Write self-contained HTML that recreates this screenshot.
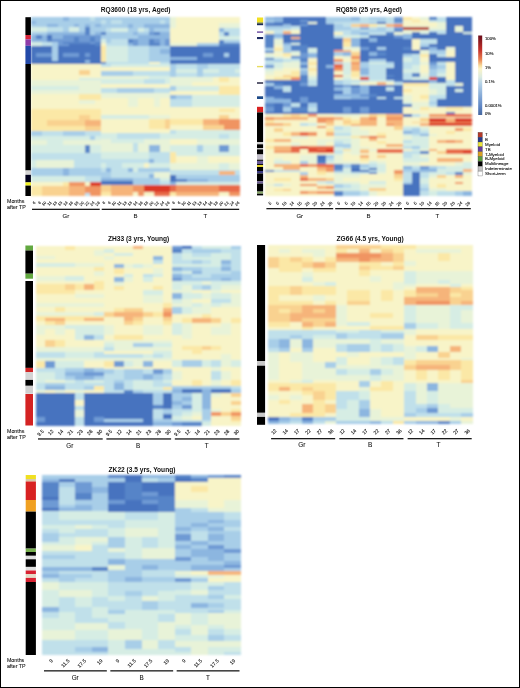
<!DOCTYPE html>
<html><head><meta charset="utf-8"><style>
html,body{margin:0;padding:0;background:#fff;}
#f{position:relative;width:520px;height:688px;overflow:hidden;background:#fff;}
#f svg{position:absolute;left:0;top:0;}
#f svg text{font-family:"Liberation Sans", sans-serif;}
#bd{position:absolute;left:0;top:0;width:520px;height:688px;box-sizing:border-box;border:1px solid #000;}
</style></head><body><div id="f">
<svg width="520" height="688" viewBox="0 0 520 688">
<g filter="url(#bl)" shape-rendering="crispEdges">
<rect x="31.00" y="17.20" width="209.20" height="178.50" fill="#f8f4c8"/>
<rect x="31.00" y="17.20" width="69.73" height="3.30" fill="#a8cee8"/>
<rect x="31.00" y="17.20" width="10.73" height="3.30" fill="#8cb6e0"/>
<rect x="63.18" y="17.20" width="10.73" height="3.30" fill="#8cb6e0"/>
<rect x="31.00" y="20.50" width="69.73" height="3.50" fill="#c0e0ea"/>
<rect x="31.00" y="24.00" width="69.73" height="3.50" fill="#a8cee8"/>
<rect x="47.09" y="24.00" width="16.09" height="3.50" fill="#8cb6e0"/>
<rect x="31.00" y="27.50" width="32.18" height="3.50" fill="#d6ede4"/>
<rect x="63.18" y="27.50" width="21.46" height="3.50" fill="#c0e0ea"/>
<rect x="84.64" y="27.50" width="5.36" height="3.50" fill="#5684c8"/>
<rect x="90.01" y="27.50" width="10.73" height="3.50" fill="#c0e0ea"/>
<rect x="31.00" y="31.00" width="69.73" height="3.50" fill="#a8cee8"/>
<rect x="84.64" y="31.00" width="5.36" height="3.50" fill="#6e9ad4"/>
<rect x="31.00" y="34.50" width="69.73" height="4.00" fill="#8cb6e0"/>
<rect x="36.36" y="34.50" width="5.36" height="4.00" fill="#5684c8"/>
<rect x="47.09" y="34.50" width="5.36" height="4.00" fill="#4673bf"/>
<rect x="68.55" y="34.50" width="32.18" height="4.00" fill="#6e9ad4"/>
<rect x="31.00" y="38.50" width="69.73" height="3.50" fill="#8cb6e0"/>
<rect x="63.18" y="38.50" width="37.55" height="3.50" fill="#5684c8"/>
<rect x="31.00" y="42.00" width="26.82" height="4.00" fill="#d6ede4"/>
<rect x="57.82" y="42.00" width="5.36" height="4.00" fill="#a8cee8"/>
<rect x="63.18" y="42.00" width="37.55" height="4.00" fill="#5684c8"/>
<rect x="31.00" y="46.00" width="69.73" height="18.00" fill="#4673bf"/>
<rect x="52.46" y="46.00" width="5.36" height="15.00" fill="#a8cee8"/>
<rect x="36.36" y="52.70" width="16.09" height="4.70" fill="#6e9ad4"/>
<rect x="63.18" y="52.70" width="16.09" height="4.70" fill="#6e9ad4"/>
<rect x="84.64" y="53.00" width="5.36" height="4.00" fill="#6e9ad4"/>
<rect x="84.64" y="60.00" width="5.36" height="3.00" fill="#8cb6e0"/>
<rect x="79.28" y="69.50" width="10.73" height="5.50" fill="#f9d290"/>
<rect x="79.28" y="78.00" width="21.46" height="3.50" fill="#d6ede4"/>
<rect x="31.00" y="80.00" width="69.73" height="5.50" fill="#e8f3d8"/>
<rect x="31.00" y="85.50" width="48.28" height="4.50" fill="#d6ede4"/>
<rect x="79.28" y="85.50" width="21.46" height="4.50" fill="#e8f3d8"/>
<rect x="31.00" y="90.00" width="69.73" height="4.00" fill="#e8f3d8"/>
<rect x="79.28" y="94.00" width="21.46" height="6.00" fill="#fbe8a6"/>
<rect x="79.28" y="100.00" width="16.09" height="4.00" fill="#e8f3d8"/>
<rect x="31.00" y="109.00" width="69.73" height="6.00" fill="#fbe8a6"/>
<rect x="31.00" y="115.00" width="69.73" height="4.80" fill="#fbe8a6"/>
<rect x="79.28" y="115.00" width="10.73" height="4.80" fill="#f9d290"/>
<rect x="31.00" y="119.80" width="16.09" height="6.00" fill="#fbe8a6"/>
<rect x="47.09" y="119.80" width="53.64" height="6.00" fill="#f9d290"/>
<rect x="84.64" y="119.80" width="16.09" height="6.00" fill="#f6b47a"/>
<rect x="31.00" y="125.80" width="69.73" height="4.70" fill="#fbe8a6"/>
<rect x="84.64" y="125.80" width="16.09" height="4.70" fill="#f9d290"/>
<rect x="31.00" y="130.50" width="69.73" height="5.50" fill="#c0e0ea"/>
<rect x="31.00" y="130.50" width="10.73" height="5.50" fill="#a8cee8"/>
<rect x="63.18" y="130.50" width="21.46" height="5.50" fill="#a8cee8"/>
<rect x="31.00" y="136.00" width="69.73" height="4.00" fill="#d6ede4"/>
<rect x="90.01" y="136.00" width="5.36" height="4.00" fill="#a8cee8"/>
<rect x="31.00" y="140.00" width="69.73" height="4.70" fill="#e8f3d8"/>
<rect x="47.09" y="140.00" width="16.09" height="4.70" fill="#d6ede4"/>
<rect x="31.00" y="144.70" width="69.73" height="8.60" fill="#d6ede4"/>
<rect x="84.64" y="144.70" width="5.36" height="8.60" fill="#5684c8"/>
<rect x="31.00" y="153.30" width="69.73" height="6.70" fill="#c0e0ea"/>
<rect x="31.00" y="160.00" width="42.91" height="7.50" fill="#e8f3d8"/>
<rect x="73.91" y="160.00" width="26.82" height="7.50" fill="#c0e0ea"/>
<rect x="31.00" y="160.00" width="5.36" height="7.50" fill="#d6ede4"/>
<rect x="31.00" y="167.50" width="69.73" height="8.00" fill="#a8cee8"/>
<rect x="63.18" y="167.50" width="5.36" height="8.00" fill="#8cb6e0"/>
<rect x="31.00" y="175.50" width="69.73" height="6.10" fill="#d6ede4"/>
<rect x="84.64" y="175.50" width="16.09" height="6.10" fill="#c0e0ea"/>
<rect x="31.00" y="181.60" width="32.18" height="4.00" fill="#f8f4c8"/>
<rect x="63.18" y="181.60" width="5.36" height="4.00" fill="#fbe8a6"/>
<rect x="68.55" y="181.60" width="16.09" height="4.00" fill="#f09462"/>
<rect x="84.64" y="181.60" width="5.36" height="4.00" fill="#f8f4c8"/>
<rect x="90.01" y="181.60" width="10.73" height="4.00" fill="#dc3828"/>
<rect x="31.00" y="185.60" width="10.73" height="6.90" fill="#fbe8a6"/>
<rect x="41.73" y="185.60" width="26.82" height="6.90" fill="#f9d290"/>
<rect x="68.55" y="185.60" width="16.09" height="6.90" fill="#f6b47a"/>
<rect x="84.64" y="185.60" width="16.09" height="6.90" fill="#f09462"/>
<rect x="31.00" y="192.50" width="10.73" height="3.20" fill="#fbe8a6"/>
<rect x="41.73" y="192.50" width="26.82" height="3.20" fill="#f9d290"/>
<rect x="68.55" y="192.50" width="16.09" height="3.20" fill="#f6b47a"/>
<rect x="84.64" y="192.50" width="5.36" height="3.20" fill="#c0e0ea"/>
<rect x="90.01" y="192.50" width="10.73" height="3.20" fill="#f09462"/>
<rect x="100.73" y="17.20" width="69.73" height="3.80" fill="#a8cee8"/>
<rect x="100.73" y="17.20" width="10.73" height="3.80" fill="#8cb6e0"/>
<rect x="100.73" y="21.00" width="69.73" height="4.00" fill="#c0e0ea"/>
<rect x="100.73" y="25.00" width="69.73" height="3.40" fill="#a8cee8"/>
<rect x="159.74" y="25.00" width="10.73" height="3.40" fill="#8cb6e0"/>
<rect x="100.73" y="28.40" width="69.73" height="3.40" fill="#a8cee8"/>
<rect x="111.46" y="28.40" width="21.46" height="3.40" fill="#d6ede4"/>
<rect x="149.01" y="28.40" width="10.73" height="3.40" fill="#8cb6e0"/>
<rect x="100.73" y="31.80" width="69.73" height="3.40" fill="#a8cee8"/>
<rect x="100.73" y="31.80" width="5.36" height="3.40" fill="#5684c8"/>
<rect x="132.92" y="31.80" width="16.09" height="3.40" fill="#8cb6e0"/>
<rect x="154.37" y="31.80" width="5.36" height="3.40" fill="#5684c8"/>
<rect x="159.74" y="31.80" width="10.73" height="3.40" fill="#8cb6e0"/>
<rect x="100.73" y="35.20" width="69.73" height="4.00" fill="#a8cee8"/>
<rect x="100.73" y="35.20" width="5.36" height="4.00" fill="#d6ede4"/>
<rect x="127.55" y="35.20" width="10.73" height="4.00" fill="#8cb6e0"/>
<rect x="100.73" y="39.20" width="69.73" height="6.80" fill="#a8cee8"/>
<rect x="100.73" y="39.20" width="5.36" height="6.80" fill="#f8f4c8"/>
<rect x="127.55" y="39.20" width="10.73" height="6.80" fill="#5684c8"/>
<rect x="138.28" y="39.20" width="10.73" height="6.80" fill="#8cb6e0"/>
<rect x="149.01" y="39.20" width="5.36" height="6.80" fill="#5684c8"/>
<rect x="154.37" y="39.20" width="16.09" height="6.80" fill="#6e9ad4"/>
<rect x="100.73" y="46.00" width="69.73" height="16.00" fill="#c0e0ea"/>
<rect x="100.73" y="46.00" width="5.36" height="16.00" fill="#fbe8a6"/>
<rect x="106.10" y="46.00" width="21.46" height="16.00" fill="#d6ede4"/>
<rect x="149.01" y="46.00" width="21.46" height="16.00" fill="#a8cee8"/>
<rect x="159.74" y="49.00" width="10.73" height="5.00" fill="#8cb6e0"/>
<rect x="100.73" y="62.00" width="69.73" height="2.00" fill="#c0e0ea"/>
<rect x="100.73" y="62.00" width="5.36" height="2.00" fill="#5684c8"/>
<rect x="149.01" y="62.00" width="10.73" height="2.00" fill="#f8f4c8"/>
<rect x="100.73" y="64.00" width="69.73" height="3.40" fill="#d6ede4"/>
<rect x="100.73" y="64.00" width="10.73" height="3.40" fill="#c0e0ea"/>
<rect x="100.73" y="67.40" width="69.73" height="4.00" fill="#f8f4c8"/>
<rect x="100.73" y="71.40" width="32.18" height="4.10" fill="#a8cee8"/>
<rect x="132.92" y="71.40" width="37.55" height="4.10" fill="#c0e0ea"/>
<rect x="100.73" y="75.50" width="69.73" height="3.30" fill="#e8f3d8"/>
<rect x="149.01" y="75.50" width="21.46" height="3.30" fill="#d6ede4"/>
<rect x="100.73" y="78.80" width="69.73" height="4.70" fill="#d6ede4"/>
<rect x="143.65" y="78.80" width="21.46" height="4.70" fill="#c0e0ea"/>
<rect x="100.73" y="83.50" width="69.73" height="4.70" fill="#f8f4c8"/>
<rect x="100.73" y="88.20" width="69.73" height="4.80" fill="#c0e0ea"/>
<rect x="116.83" y="88.20" width="37.55" height="4.80" fill="#a8cee8"/>
<rect x="100.73" y="93.00" width="69.73" height="4.70" fill="#e8f3d8"/>
<rect x="100.73" y="97.70" width="69.73" height="9.30" fill="#f8f4c8"/>
<rect x="127.55" y="97.70" width="10.73" height="9.30" fill="#e8f3d8"/>
<rect x="154.37" y="97.70" width="5.36" height="9.30" fill="#e8f3d8"/>
<rect x="100.73" y="107.00" width="69.73" height="8.00" fill="#f8f4c8"/>
<rect x="100.73" y="115.00" width="48.28" height="4.00" fill="#d6ede4"/>
<rect x="149.01" y="115.00" width="21.46" height="4.00" fill="#e8f3d8"/>
<rect x="100.73" y="119.00" width="69.73" height="9.50" fill="#f8f4c8"/>
<rect x="149.01" y="119.00" width="21.46" height="9.50" fill="#fbe8a6"/>
<rect x="165.10" y="119.00" width="5.36" height="9.50" fill="#f9d290"/>
<rect x="100.73" y="128.50" width="69.73" height="4.50" fill="#f8f4c8"/>
<rect x="100.73" y="133.00" width="69.73" height="5.60" fill="#d6ede4"/>
<rect x="116.83" y="133.00" width="42.91" height="5.60" fill="#c0e0ea"/>
<rect x="100.73" y="138.60" width="69.73" height="4.70" fill="#e8f3d8"/>
<rect x="111.46" y="138.60" width="32.18" height="4.70" fill="#d6ede4"/>
<rect x="100.73" y="143.30" width="69.73" height="8.70" fill="#e8f3d8"/>
<rect x="132.92" y="143.30" width="5.36" height="8.70" fill="#c0e0ea"/>
<rect x="149.01" y="145.40" width="10.73" height="6.60" fill="#8cb6e0"/>
<rect x="100.73" y="152.00" width="69.73" height="7.40" fill="#c0e0ea"/>
<rect x="100.73" y="152.00" width="48.28" height="7.40" fill="#d6ede4"/>
<rect x="100.73" y="159.40" width="69.73" height="4.00" fill="#c0e0ea"/>
<rect x="149.01" y="159.40" width="5.36" height="4.00" fill="#8cb6e0"/>
<rect x="100.73" y="163.40" width="69.73" height="4.10" fill="#d6ede4"/>
<rect x="106.10" y="163.40" width="16.09" height="4.10" fill="#c0e0ea"/>
<rect x="143.65" y="163.40" width="5.36" height="4.10" fill="#f8f4c8"/>
<rect x="100.73" y="167.50" width="69.73" height="4.00" fill="#a8cee8"/>
<rect x="100.73" y="167.50" width="37.55" height="4.00" fill="#c0e0ea"/>
<rect x="106.10" y="167.50" width="5.36" height="4.00" fill="#8cb6e0"/>
<rect x="127.55" y="167.50" width="5.36" height="4.00" fill="#8cb6e0"/>
<rect x="132.92" y="167.50" width="5.36" height="4.00" fill="#d6ede4"/>
<rect x="100.73" y="171.50" width="69.73" height="6.10" fill="#c0e0ea"/>
<rect x="100.73" y="171.50" width="10.73" height="6.10" fill="#a8cee8"/>
<rect x="149.01" y="174.00" width="5.36" height="3.60" fill="#8cb6e0"/>
<rect x="154.37" y="171.50" width="16.09" height="6.10" fill="#e8f3d8"/>
<rect x="100.73" y="177.60" width="32.18" height="3.40" fill="#8cb6e0"/>
<rect x="132.92" y="177.60" width="26.82" height="3.40" fill="#a8cee8"/>
<rect x="159.74" y="177.60" width="10.73" height="3.40" fill="#d6ede4"/>
<rect x="100.73" y="181.00" width="32.18" height="4.00" fill="#4673bf"/>
<rect x="132.92" y="181.00" width="26.82" height="4.00" fill="#a8cee8"/>
<rect x="159.74" y="181.00" width="10.73" height="4.00" fill="#c0e0ea"/>
<rect x="100.73" y="185.00" width="10.73" height="7.40" fill="#f9d290"/>
<rect x="111.46" y="185.00" width="21.46" height="7.40" fill="#f6b47a"/>
<rect x="132.92" y="185.00" width="10.73" height="7.40" fill="#f09462"/>
<rect x="143.65" y="185.00" width="26.82" height="7.40" fill="#dc3828"/>
<rect x="100.73" y="192.40" width="10.73" height="3.30" fill="#fbe8a6"/>
<rect x="111.46" y="192.40" width="21.46" height="3.30" fill="#f6b47a"/>
<rect x="132.92" y="192.40" width="5.36" height="3.30" fill="#f8f4c8"/>
<rect x="138.28" y="192.40" width="5.36" height="3.30" fill="#f09462"/>
<rect x="143.65" y="192.40" width="10.73" height="3.30" fill="#f8f4c8"/>
<rect x="154.37" y="192.40" width="16.09" height="3.30" fill="#e86a48"/>
<rect x="170.47" y="17.20" width="69.73" height="10.60" fill="#f8f4c8"/>
<rect x="170.47" y="17.20" width="5.36" height="10.60" fill="#e8f3d8"/>
<rect x="218.74" y="23.00" width="21.46" height="4.80" fill="#e8f3d8"/>
<rect x="170.47" y="27.80" width="69.73" height="4.00" fill="#f8f4c8"/>
<rect x="218.74" y="27.80" width="5.36" height="4.00" fill="#8cb6e0"/>
<rect x="224.11" y="27.80" width="16.09" height="4.00" fill="#c0e0ea"/>
<rect x="170.47" y="31.80" width="69.73" height="4.00" fill="#f8f4c8"/>
<rect x="218.74" y="31.80" width="5.36" height="4.00" fill="#c0e0ea"/>
<rect x="224.11" y="31.80" width="5.36" height="4.00" fill="#5684c8"/>
<rect x="229.47" y="31.80" width="10.73" height="4.00" fill="#c0e0ea"/>
<rect x="170.47" y="35.80" width="69.73" height="4.10" fill="#f8f4c8"/>
<rect x="218.74" y="35.80" width="21.46" height="4.10" fill="#d6ede4"/>
<rect x="170.47" y="39.90" width="48.28" height="3.30" fill="#f8f4c8"/>
<rect x="218.74" y="39.90" width="5.36" height="3.30" fill="#5684c8"/>
<rect x="224.11" y="39.90" width="16.09" height="3.30" fill="#a8cee8"/>
<rect x="170.47" y="43.20" width="26.82" height="2.80" fill="#e8f3d8"/>
<rect x="197.29" y="43.20" width="21.46" height="2.80" fill="#a8cee8"/>
<rect x="218.74" y="43.20" width="21.46" height="2.80" fill="#5684c8"/>
<rect x="170.47" y="46.00" width="69.73" height="18.00" fill="#4673bf"/>
<rect x="202.65" y="53.30" width="10.73" height="4.10" fill="#6e9ad4"/>
<rect x="224.11" y="53.30" width="5.36" height="4.10" fill="#a8cee8"/>
<rect x="170.47" y="56.70" width="26.82" height="3.30" fill="#8cb6e0"/>
<rect x="170.47" y="64.00" width="69.73" height="4.70" fill="#c0e0ea"/>
<rect x="170.47" y="64.00" width="5.36" height="4.70" fill="#a8cee8"/>
<rect x="197.29" y="64.00" width="10.73" height="4.70" fill="#a8cee8"/>
<rect x="170.47" y="68.70" width="69.73" height="4.10" fill="#d6ede4"/>
<rect x="170.47" y="68.70" width="5.36" height="4.10" fill="#a8cee8"/>
<rect x="197.29" y="68.70" width="5.36" height="4.10" fill="#a8cee8"/>
<rect x="218.74" y="68.70" width="16.09" height="4.10" fill="#c0e0ea"/>
<rect x="170.47" y="72.80" width="69.73" height="4.00" fill="#c0e0ea"/>
<rect x="170.47" y="72.80" width="5.36" height="4.00" fill="#a8cee8"/>
<rect x="197.29" y="72.80" width="5.36" height="4.00" fill="#a8cee8"/>
<rect x="170.47" y="76.80" width="69.73" height="5.40" fill="#e8f3d8"/>
<rect x="213.38" y="76.80" width="26.82" height="5.40" fill="#f8f4c8"/>
<rect x="218.74" y="76.80" width="10.73" height="5.40" fill="#fbe8a6"/>
<rect x="170.47" y="82.20" width="69.73" height="4.00" fill="#f8f4c8"/>
<rect x="170.47" y="82.20" width="21.46" height="4.00" fill="#e8f3d8"/>
<rect x="170.47" y="86.20" width="69.73" height="4.80" fill="#d6ede4"/>
<rect x="170.47" y="86.20" width="5.36" height="4.80" fill="#a8cee8"/>
<rect x="218.74" y="86.20" width="21.46" height="4.80" fill="#fbe8a6"/>
<rect x="170.47" y="91.00" width="69.73" height="4.00" fill="#f8f4c8"/>
<rect x="218.74" y="91.00" width="21.46" height="4.00" fill="#fbe8a6"/>
<rect x="170.47" y="95.00" width="69.73" height="4.00" fill="#d6ede4"/>
<rect x="170.47" y="95.00" width="21.46" height="4.00" fill="#a8cee8"/>
<rect x="170.47" y="95.00" width="5.36" height="4.00" fill="#8cb6e0"/>
<rect x="170.47" y="99.00" width="69.73" height="8.00" fill="#d6ede4"/>
<rect x="170.47" y="99.00" width="21.46" height="8.00" fill="#c0e0ea"/>
<rect x="170.47" y="107.00" width="69.73" height="5.40" fill="#f8f4c8"/>
<rect x="218.74" y="109.00" width="16.09" height="3.00" fill="#fbe8a6"/>
<rect x="170.47" y="112.40" width="69.73" height="6.60" fill="#f8f4c8"/>
<rect x="218.74" y="115.00" width="10.73" height="4.00" fill="#f9d290"/>
<rect x="170.47" y="119.00" width="32.18" height="6.20" fill="#fbe8a6"/>
<rect x="202.65" y="119.00" width="16.09" height="6.20" fill="#f6b47a"/>
<rect x="218.74" y="119.00" width="21.46" height="6.20" fill="#f09462"/>
<rect x="170.47" y="125.20" width="32.18" height="4.70" fill="#f8f4c8"/>
<rect x="202.65" y="125.20" width="21.46" height="4.70" fill="#f9d290"/>
<rect x="224.11" y="125.20" width="16.09" height="4.70" fill="#f09462"/>
<rect x="170.47" y="129.90" width="69.73" height="4.10" fill="#d6ede4"/>
<rect x="170.47" y="129.90" width="5.36" height="4.10" fill="#c0e0ea"/>
<rect x="170.47" y="134.00" width="69.73" height="5.30" fill="#d6ede4"/>
<rect x="218.74" y="134.00" width="10.73" height="5.30" fill="#c0e0ea"/>
<rect x="170.47" y="139.30" width="69.73" height="5.40" fill="#e8f3d8"/>
<rect x="170.47" y="139.30" width="26.82" height="5.40" fill="#f8f4c8"/>
<rect x="170.47" y="144.70" width="69.73" height="7.30" fill="#d6ede4"/>
<rect x="197.29" y="144.70" width="5.36" height="7.30" fill="#a8cee8"/>
<rect x="218.74" y="145.40" width="10.73" height="6.60" fill="#6e9ad4"/>
<rect x="170.47" y="152.00" width="69.73" height="4.00" fill="#d6ede4"/>
<rect x="170.47" y="152.00" width="5.36" height="4.00" fill="#fbe8a6"/>
<rect x="170.47" y="156.00" width="69.73" height="6.80" fill="#f8f4c8"/>
<rect x="170.47" y="156.00" width="5.36" height="6.80" fill="#fbe8a6"/>
<rect x="197.29" y="156.00" width="10.73" height="6.80" fill="#e8f3d8"/>
<rect x="170.47" y="162.80" width="69.73" height="7.40" fill="#e8f3d8"/>
<rect x="218.74" y="162.80" width="10.73" height="7.40" fill="#d6ede4"/>
<rect x="170.47" y="170.20" width="69.73" height="4.70" fill="#c0e0ea"/>
<rect x="218.74" y="170.50" width="16.09" height="4.00" fill="#f6b47a"/>
<rect x="170.47" y="174.90" width="69.73" height="4.10" fill="#a8cee8"/>
<rect x="170.47" y="174.90" width="5.36" height="4.10" fill="#4673bf"/>
<rect x="170.47" y="179.00" width="69.73" height="3.30" fill="#a8cee8"/>
<rect x="170.47" y="179.00" width="16.09" height="3.30" fill="#5684c8"/>
<rect x="170.47" y="179.00" width="5.36" height="3.30" fill="#4673bf"/>
<rect x="186.56" y="179.00" width="21.46" height="3.30" fill="#8cb6e0"/>
<rect x="170.47" y="182.30" width="69.73" height="2.70" fill="#d6ede4"/>
<rect x="170.47" y="182.30" width="5.36" height="2.70" fill="#8cb6e0"/>
<rect x="170.47" y="185.00" width="48.28" height="7.40" fill="#f09462"/>
<rect x="170.47" y="185.00" width="5.36" height="7.40" fill="#e86a48"/>
<rect x="218.74" y="185.00" width="21.46" height="7.40" fill="#e86a48"/>
<rect x="170.47" y="192.40" width="48.28" height="3.30" fill="#f6b47a"/>
<rect x="170.47" y="192.40" width="5.36" height="3.30" fill="#fbe8a6"/>
<rect x="218.74" y="192.40" width="10.73" height="3.30" fill="#f8f4c8"/>
<rect x="229.47" y="192.40" width="10.73" height="3.30" fill="#f09462"/>
<rect x="31.00" y="17.20" width="32.18" height="3.30" fill="#a8cee8"/>
<rect x="63.18" y="17.20" width="5.36" height="3.30" fill="#8cb6e0"/>
<rect x="68.55" y="17.20" width="21.46" height="3.30" fill="#a8cee8"/>
<rect x="90.01" y="17.20" width="5.36" height="3.30" fill="#c0e0ea"/>
<rect x="95.37" y="17.20" width="5.36" height="3.30" fill="#a8cee8"/>
<rect x="31.00" y="20.50" width="5.36" height="3.10" fill="#8cb6e0"/>
<rect x="36.36" y="20.50" width="64.37" height="3.10" fill="#a8cee8"/>
<rect x="31.00" y="23.60" width="16.09" height="3.80" fill="#a8cee8"/>
<rect x="47.09" y="23.60" width="10.73" height="3.80" fill="#8cb6e0"/>
<rect x="57.82" y="23.60" width="16.09" height="3.80" fill="#a8cee8"/>
<rect x="73.91" y="23.60" width="5.36" height="3.80" fill="#8cb6e0"/>
<rect x="79.28" y="23.60" width="5.36" height="3.80" fill="#a8cee8"/>
<rect x="84.64" y="23.60" width="5.36" height="3.80" fill="#8cb6e0"/>
<rect x="90.01" y="23.60" width="5.36" height="3.80" fill="#a8cee8"/>
<rect x="95.37" y="23.60" width="5.36" height="3.80" fill="#8cb6e0"/>
<rect x="31.00" y="27.40" width="16.09" height="4.30" fill="#d6ede4"/>
<rect x="47.09" y="27.40" width="16.09" height="4.30" fill="#c0e0ea"/>
<rect x="63.18" y="27.40" width="5.36" height="4.30" fill="#a8cee8"/>
<rect x="68.55" y="27.40" width="10.73" height="4.30" fill="#d6ede4"/>
<rect x="79.28" y="27.40" width="5.36" height="4.30" fill="#a8cee8"/>
<rect x="84.64" y="27.40" width="5.36" height="4.30" fill="#5684c8"/>
<rect x="90.01" y="27.40" width="10.73" height="4.30" fill="#a8cee8"/>
<rect x="31.00" y="31.70" width="16.09" height="3.00" fill="#a8cee8"/>
<rect x="47.09" y="31.70" width="37.55" height="3.00" fill="#8cb6e0"/>
<rect x="84.64" y="31.70" width="5.36" height="3.00" fill="#5684c8"/>
<rect x="90.01" y="31.70" width="5.36" height="3.00" fill="#a8cee8"/>
<rect x="95.37" y="31.70" width="5.36" height="3.00" fill="#8cb6e0"/>
<rect x="31.00" y="34.70" width="5.36" height="2.70" fill="#8cb6e0"/>
<rect x="36.36" y="34.70" width="5.36" height="2.70" fill="#5684c8"/>
<rect x="41.73" y="34.70" width="5.36" height="2.70" fill="#8cb6e0"/>
<rect x="47.09" y="34.70" width="5.36" height="2.70" fill="#4673bf"/>
<rect x="52.46" y="34.70" width="10.73" height="2.70" fill="#8cb6e0"/>
<rect x="63.18" y="34.70" width="37.55" height="2.70" fill="#6e9ad4"/>
<rect x="31.00" y="37.40" width="5.36" height="1.80" fill="#8cb6e0"/>
<rect x="36.36" y="37.40" width="5.36" height="1.80" fill="#5684c8"/>
<rect x="41.73" y="37.40" width="5.36" height="1.80" fill="#8cb6e0"/>
<rect x="47.09" y="37.40" width="5.36" height="1.80" fill="#4673bf"/>
<rect x="52.46" y="37.40" width="10.73" height="1.80" fill="#8cb6e0"/>
<rect x="63.18" y="37.40" width="10.73" height="1.80" fill="#6e9ad4"/>
<rect x="73.91" y="37.40" width="5.36" height="1.80" fill="#5684c8"/>
<rect x="79.28" y="37.40" width="10.73" height="1.80" fill="#6e9ad4"/>
<rect x="90.01" y="37.40" width="5.36" height="1.80" fill="#5684c8"/>
<rect x="95.37" y="37.40" width="5.36" height="1.80" fill="#6e9ad4"/>
<rect x="31.00" y="39.20" width="16.09" height="2.70" fill="#8cb6e0"/>
<rect x="47.09" y="39.20" width="5.36" height="2.70" fill="#5684c8"/>
<rect x="52.46" y="39.20" width="21.46" height="2.70" fill="#6e9ad4"/>
<rect x="73.91" y="39.20" width="5.36" height="2.70" fill="#5684c8"/>
<rect x="79.28" y="39.20" width="10.73" height="2.70" fill="#6e9ad4"/>
<rect x="90.01" y="39.20" width="5.36" height="2.70" fill="#5684c8"/>
<rect x="95.37" y="39.20" width="5.36" height="2.70" fill="#6e9ad4"/>
<rect x="31.00" y="41.90" width="10.73" height="1.90" fill="#d6ede4"/>
<rect x="41.73" y="41.90" width="10.73" height="1.90" fill="#c0e0ea"/>
<rect x="52.46" y="41.90" width="5.36" height="1.90" fill="#a8cee8"/>
<rect x="57.82" y="41.90" width="5.36" height="1.90" fill="#6e9ad4"/>
<rect x="63.18" y="41.90" width="26.82" height="1.90" fill="#5684c8"/>
<rect x="90.01" y="41.90" width="5.36" height="1.90" fill="#6e9ad4"/>
<rect x="95.37" y="41.90" width="5.36" height="1.90" fill="#5684c8"/>
<rect x="31.00" y="43.80" width="10.73" height="2.20" fill="#d6ede4"/>
<rect x="41.73" y="43.80" width="10.73" height="2.20" fill="#c0e0ea"/>
<rect x="52.46" y="43.80" width="5.36" height="2.20" fill="#a8cee8"/>
<rect x="57.82" y="43.80" width="10.73" height="2.20" fill="#6e9ad4"/>
<rect x="68.55" y="43.80" width="26.82" height="2.20" fill="#4673bf"/>
<rect x="95.37" y="43.80" width="5.36" height="2.20" fill="#5684c8"/>
<rect x="100.73" y="17.20" width="69.73" height="3.10" fill="#a8cee8"/>
<rect x="100.73" y="20.30" width="5.36" height="3.70" fill="#c0e0ea"/>
<rect x="106.10" y="20.30" width="5.36" height="3.70" fill="#a8cee8"/>
<rect x="111.46" y="20.30" width="10.73" height="3.70" fill="#c0e0ea"/>
<rect x="122.19" y="20.30" width="37.55" height="3.70" fill="#a8cee8"/>
<rect x="159.74" y="20.30" width="5.36" height="3.70" fill="#c0e0ea"/>
<rect x="165.10" y="20.30" width="5.36" height="3.70" fill="#a8cee8"/>
<rect x="100.73" y="24.00" width="26.82" height="3.80" fill="#a8cee8"/>
<rect x="127.55" y="24.00" width="5.36" height="3.80" fill="#8cb6e0"/>
<rect x="132.92" y="24.00" width="10.73" height="3.80" fill="#a8cee8"/>
<rect x="143.65" y="24.00" width="26.82" height="3.80" fill="#8cb6e0"/>
<rect x="100.73" y="27.80" width="5.36" height="3.90" fill="#a8cee8"/>
<rect x="106.10" y="27.80" width="5.36" height="3.90" fill="#c0e0ea"/>
<rect x="111.46" y="27.80" width="16.09" height="3.90" fill="#d6ede4"/>
<rect x="127.55" y="27.80" width="10.73" height="3.90" fill="#a8cee8"/>
<rect x="138.28" y="27.80" width="5.36" height="3.90" fill="#d6ede4"/>
<rect x="143.65" y="27.80" width="5.36" height="3.90" fill="#c0e0ea"/>
<rect x="149.01" y="27.80" width="5.36" height="3.90" fill="#8cb6e0"/>
<rect x="154.37" y="27.80" width="16.09" height="3.90" fill="#a8cee8"/>
<rect x="100.73" y="31.70" width="5.36" height="3.40" fill="#5684c8"/>
<rect x="106.10" y="31.70" width="26.82" height="3.40" fill="#a8cee8"/>
<rect x="132.92" y="31.70" width="5.36" height="3.40" fill="#8cb6e0"/>
<rect x="138.28" y="31.70" width="10.73" height="3.40" fill="#a8cee8"/>
<rect x="149.01" y="31.70" width="5.36" height="3.40" fill="#6e9ad4"/>
<rect x="154.37" y="31.70" width="5.36" height="3.40" fill="#5684c8"/>
<rect x="159.74" y="31.70" width="10.73" height="3.40" fill="#8cb6e0"/>
<rect x="100.73" y="35.10" width="37.55" height="3.90" fill="#a8cee8"/>
<rect x="138.28" y="35.10" width="32.18" height="3.90" fill="#8cb6e0"/>
<rect x="100.73" y="39.00" width="5.36" height="4.00" fill="#d6ede4"/>
<rect x="106.10" y="39.00" width="5.36" height="4.00" fill="#a8cee8"/>
<rect x="111.46" y="39.00" width="16.09" height="4.00" fill="#c0e0ea"/>
<rect x="127.55" y="39.00" width="5.36" height="4.00" fill="#5684c8"/>
<rect x="132.92" y="39.00" width="5.36" height="4.00" fill="#6e9ad4"/>
<rect x="138.28" y="39.00" width="10.73" height="4.00" fill="#8cb6e0"/>
<rect x="149.01" y="39.00" width="5.36" height="4.00" fill="#5684c8"/>
<rect x="154.37" y="39.00" width="5.36" height="4.00" fill="#6e9ad4"/>
<rect x="159.74" y="39.00" width="5.36" height="4.00" fill="#8cb6e0"/>
<rect x="165.10" y="39.00" width="5.36" height="4.00" fill="#6e9ad4"/>
<rect x="100.73" y="43.00" width="5.36" height="3.00" fill="#f8f4c8"/>
<rect x="106.10" y="43.00" width="21.46" height="3.00" fill="#c0e0ea"/>
<rect x="127.55" y="43.00" width="5.36" height="3.00" fill="#8cb6e0"/>
<rect x="132.92" y="43.00" width="5.36" height="3.00" fill="#6e9ad4"/>
<rect x="138.28" y="43.00" width="10.73" height="3.00" fill="#8cb6e0"/>
<rect x="149.01" y="43.00" width="10.73" height="3.00" fill="#5684c8"/>
<rect x="159.74" y="43.00" width="5.36" height="3.00" fill="#8cb6e0"/>
<rect x="165.10" y="43.00" width="5.36" height="3.00" fill="#6e9ad4"/>
</g>
<g filter="url(#bl)" shape-rendering="crispEdges">
<rect x="265.40" y="17.20" width="206.40" height="178.30" fill="#4673bf"/>
<rect x="265.40" y="17.20" width="8.60" height="1.10" fill="#8cb6e0"/>
<rect x="274.00" y="17.20" width="8.60" height="1.10" fill="#6e9ad4"/>
<rect x="282.60" y="17.20" width="43.00" height="1.10" fill="#4673bf"/>
<rect x="325.60" y="17.20" width="8.60" height="1.10" fill="#a8cee8"/>
<rect x="265.40" y="18.30" width="17.20" height="1.40" fill="#8cb6e0"/>
<rect x="282.60" y="18.30" width="43.00" height="1.40" fill="#4673bf"/>
<rect x="325.60" y="18.30" width="8.60" height="1.40" fill="#a8cee8"/>
<rect x="265.40" y="19.70" width="8.60" height="2.30" fill="#a8cee8"/>
<rect x="274.00" y="19.70" width="8.60" height="2.30" fill="#8cb6e0"/>
<rect x="282.60" y="19.70" width="17.20" height="2.30" fill="#4673bf"/>
<rect x="299.80" y="19.70" width="8.60" height="2.30" fill="#6e9ad4"/>
<rect x="308.40" y="19.70" width="8.60" height="2.30" fill="#5684c8"/>
<rect x="317.00" y="19.70" width="8.60" height="2.30" fill="#4673bf"/>
<rect x="325.60" y="19.70" width="8.60" height="2.30" fill="#a8cee8"/>
<rect x="265.40" y="22.00" width="8.60" height="1.70" fill="#6e9ad4"/>
<rect x="274.00" y="22.00" width="8.60" height="1.70" fill="#5684c8"/>
<rect x="282.60" y="22.00" width="25.80" height="1.70" fill="#4673bf"/>
<rect x="308.40" y="22.00" width="8.60" height="1.70" fill="#e8f3d8"/>
<rect x="317.00" y="22.00" width="8.60" height="1.70" fill="#4673bf"/>
<rect x="325.60" y="22.00" width="8.60" height="1.70" fill="#a8cee8"/>
<rect x="265.40" y="23.70" width="17.20" height="2.70" fill="#4673bf"/>
<rect x="282.60" y="23.70" width="8.60" height="2.70" fill="#8cb6e0"/>
<rect x="291.20" y="23.70" width="8.60" height="2.70" fill="#4673bf"/>
<rect x="299.80" y="23.70" width="8.60" height="2.70" fill="#6e9ad4"/>
<rect x="308.40" y="23.70" width="25.80" height="2.70" fill="#4673bf"/>
<rect x="265.40" y="26.40" width="25.80" height="2.40" fill="#a8cee8"/>
<rect x="291.20" y="26.40" width="8.60" height="2.40" fill="#c0e0ea"/>
<rect x="299.80" y="26.40" width="34.40" height="2.40" fill="#4673bf"/>
<rect x="265.40" y="28.80" width="17.20" height="2.30" fill="#c0e0ea"/>
<rect x="282.60" y="28.80" width="8.60" height="2.30" fill="#d6ede4"/>
<rect x="291.20" y="28.80" width="8.60" height="2.30" fill="#e8f3d8"/>
<rect x="299.80" y="28.80" width="34.40" height="2.30" fill="#4673bf"/>
<rect x="265.40" y="31.10" width="8.60" height="2.70" fill="#f8f4c8"/>
<rect x="274.00" y="31.10" width="8.60" height="2.70" fill="#c0e0ea"/>
<rect x="282.60" y="31.10" width="8.60" height="2.70" fill="#f6b47a"/>
<rect x="291.20" y="31.10" width="8.60" height="2.70" fill="#f8f4c8"/>
<rect x="299.80" y="31.10" width="34.40" height="2.70" fill="#4673bf"/>
<rect x="265.40" y="33.80" width="8.60" height="2.70" fill="#5684c8"/>
<rect x="274.00" y="33.80" width="8.60" height="2.70" fill="#8cb6e0"/>
<rect x="282.60" y="33.80" width="51.60" height="2.70" fill="#4673bf"/>
<rect x="265.40" y="36.50" width="8.60" height="2.70" fill="#5684c8"/>
<rect x="274.00" y="36.50" width="8.60" height="2.70" fill="#a8cee8"/>
<rect x="282.60" y="36.50" width="8.60" height="2.70" fill="#4673bf"/>
<rect x="291.20" y="36.50" width="8.60" height="2.70" fill="#f6b47a"/>
<rect x="299.80" y="36.50" width="34.40" height="2.70" fill="#4673bf"/>
<rect x="265.40" y="39.20" width="8.60" height="3.40" fill="#5684c8"/>
<rect x="274.00" y="39.20" width="8.60" height="3.40" fill="#e8f3d8"/>
<rect x="282.60" y="39.20" width="8.60" height="3.40" fill="#4673bf"/>
<rect x="291.20" y="39.20" width="8.60" height="3.40" fill="#5684c8"/>
<rect x="299.80" y="39.20" width="34.40" height="3.40" fill="#4673bf"/>
<rect x="265.40" y="42.60" width="8.60" height="2.70" fill="#5684c8"/>
<rect x="274.00" y="42.60" width="8.60" height="2.70" fill="#e8f3d8"/>
<rect x="282.60" y="42.60" width="8.60" height="2.70" fill="#8cb6e0"/>
<rect x="291.20" y="42.60" width="8.60" height="2.70" fill="#d6ede4"/>
<rect x="299.80" y="42.60" width="34.40" height="2.70" fill="#4673bf"/>
<rect x="265.40" y="45.30" width="8.60" height="2.70" fill="#5684c8"/>
<rect x="274.00" y="45.30" width="8.60" height="2.70" fill="#f8f4c8"/>
<rect x="282.60" y="45.30" width="8.60" height="2.70" fill="#a8cee8"/>
<rect x="291.20" y="45.30" width="17.20" height="2.70" fill="#5684c8"/>
<rect x="308.40" y="45.30" width="25.80" height="2.70" fill="#4673bf"/>
<rect x="265.40" y="48.00" width="8.60" height="2.60" fill="#a8cee8"/>
<rect x="274.00" y="48.00" width="8.60" height="2.60" fill="#fbe8a6"/>
<rect x="282.60" y="48.00" width="8.60" height="2.60" fill="#a8cee8"/>
<rect x="291.20" y="48.00" width="17.20" height="2.60" fill="#5684c8"/>
<rect x="308.40" y="48.00" width="8.60" height="2.60" fill="#d6ede4"/>
<rect x="317.00" y="48.00" width="17.20" height="2.60" fill="#4673bf"/>
<rect x="265.40" y="50.60" width="8.60" height="2.70" fill="#5684c8"/>
<rect x="274.00" y="50.60" width="8.60" height="2.70" fill="#e8f3d8"/>
<rect x="282.60" y="50.60" width="8.60" height="2.70" fill="#a8cee8"/>
<rect x="291.20" y="50.60" width="8.60" height="2.70" fill="#d6ede4"/>
<rect x="299.80" y="50.60" width="8.60" height="2.70" fill="#5684c8"/>
<rect x="308.40" y="50.60" width="8.60" height="2.70" fill="#d6ede4"/>
<rect x="317.00" y="50.60" width="17.20" height="2.70" fill="#4673bf"/>
<rect x="265.40" y="53.30" width="8.60" height="2.40" fill="#e8f3d8"/>
<rect x="274.00" y="53.30" width="8.60" height="2.40" fill="#f8f4c8"/>
<rect x="282.60" y="53.30" width="8.60" height="2.40" fill="#fbe8a6"/>
<rect x="291.20" y="53.30" width="8.60" height="2.40" fill="#e8f3d8"/>
<rect x="299.80" y="53.30" width="8.60" height="2.40" fill="#6e9ad4"/>
<rect x="308.40" y="53.30" width="8.60" height="2.40" fill="#8cb6e0"/>
<rect x="317.00" y="53.30" width="17.20" height="2.40" fill="#4673bf"/>
<rect x="265.40" y="55.70" width="8.60" height="2.30" fill="#d6ede4"/>
<rect x="274.00" y="55.70" width="8.60" height="2.30" fill="#e8f3d8"/>
<rect x="282.60" y="55.70" width="8.60" height="2.30" fill="#f8f4c8"/>
<rect x="291.20" y="55.70" width="8.60" height="2.30" fill="#5684c8"/>
<rect x="299.80" y="55.70" width="8.60" height="2.30" fill="#6e9ad4"/>
<rect x="308.40" y="55.70" width="8.60" height="2.30" fill="#8cb6e0"/>
<rect x="317.00" y="55.70" width="17.20" height="2.30" fill="#4673bf"/>
<rect x="265.40" y="58.00" width="8.60" height="2.40" fill="#5684c8"/>
<rect x="274.00" y="58.00" width="8.60" height="2.40" fill="#c0e0ea"/>
<rect x="282.60" y="58.00" width="8.60" height="2.40" fill="#d6ede4"/>
<rect x="291.20" y="58.00" width="8.60" height="2.40" fill="#a8cee8"/>
<rect x="299.80" y="58.00" width="8.60" height="2.40" fill="#5684c8"/>
<rect x="308.40" y="58.00" width="8.60" height="2.40" fill="#f8f4c8"/>
<rect x="317.00" y="58.00" width="17.20" height="2.40" fill="#4673bf"/>
<rect x="265.40" y="60.40" width="8.60" height="1.60" fill="#c0e0ea"/>
<rect x="274.00" y="60.40" width="8.60" height="1.60" fill="#a8cee8"/>
<rect x="282.60" y="60.40" width="8.60" height="1.60" fill="#c0e0ea"/>
<rect x="291.20" y="60.40" width="8.60" height="1.60" fill="#d6ede4"/>
<rect x="299.80" y="60.40" width="8.60" height="1.60" fill="#5684c8"/>
<rect x="308.40" y="60.40" width="8.60" height="1.60" fill="#f8f4c8"/>
<rect x="317.00" y="60.40" width="17.20" height="1.60" fill="#4673bf"/>
<rect x="265.40" y="62.00" width="8.60" height="2.60" fill="#c0e0ea"/>
<rect x="274.00" y="62.00" width="8.60" height="2.60" fill="#d6ede4"/>
<rect x="282.60" y="62.00" width="17.20" height="2.60" fill="#e8f3d8"/>
<rect x="299.80" y="62.00" width="8.60" height="2.60" fill="#8cb6e0"/>
<rect x="308.40" y="62.00" width="8.60" height="2.60" fill="#fbe8a6"/>
<rect x="317.00" y="62.00" width="17.20" height="2.60" fill="#4673bf"/>
<rect x="265.40" y="64.60" width="8.60" height="3.40" fill="#6e9ad4"/>
<rect x="274.00" y="64.60" width="8.60" height="3.40" fill="#d6ede4"/>
<rect x="282.60" y="64.60" width="17.20" height="3.40" fill="#e8f3d8"/>
<rect x="299.80" y="64.60" width="8.60" height="3.40" fill="#5684c8"/>
<rect x="308.40" y="64.60" width="8.60" height="3.40" fill="#f8f4c8"/>
<rect x="317.00" y="64.60" width="8.60" height="3.40" fill="#4673bf"/>
<rect x="325.60" y="64.60" width="8.60" height="3.40" fill="#8cb6e0"/>
<rect x="265.40" y="68.00" width="8.60" height="3.30" fill="#d6ede4"/>
<rect x="274.00" y="68.00" width="8.60" height="3.30" fill="#e8f3d8"/>
<rect x="282.60" y="68.00" width="17.20" height="3.30" fill="#f8f4c8"/>
<rect x="299.80" y="68.00" width="8.60" height="3.30" fill="#a8cee8"/>
<rect x="308.40" y="68.00" width="8.60" height="3.30" fill="#fbe8a6"/>
<rect x="317.00" y="68.00" width="17.20" height="3.30" fill="#4673bf"/>
<rect x="265.40" y="71.30" width="8.60" height="3.30" fill="#e8f3d8"/>
<rect x="274.00" y="71.30" width="17.20" height="3.30" fill="#f8f4c8"/>
<rect x="291.20" y="71.30" width="8.60" height="3.30" fill="#fbe8a6"/>
<rect x="299.80" y="71.30" width="8.60" height="3.30" fill="#8cb6e0"/>
<rect x="308.40" y="71.30" width="8.60" height="3.30" fill="#f8f4c8"/>
<rect x="317.00" y="71.30" width="17.20" height="3.30" fill="#4673bf"/>
<rect x="265.40" y="74.60" width="17.20" height="2.70" fill="#f8f4c8"/>
<rect x="282.60" y="74.60" width="8.60" height="2.70" fill="#f9d290"/>
<rect x="291.20" y="74.60" width="8.60" height="2.70" fill="#fbe8a6"/>
<rect x="299.80" y="74.60" width="8.60" height="2.70" fill="#5684c8"/>
<rect x="308.40" y="74.60" width="8.60" height="2.70" fill="#e8f3d8"/>
<rect x="317.00" y="74.60" width="17.20" height="2.70" fill="#4673bf"/>
<rect x="265.40" y="77.30" width="8.60" height="2.70" fill="#f8f4c8"/>
<rect x="274.00" y="77.30" width="17.20" height="2.70" fill="#fbe8a6"/>
<rect x="291.20" y="77.30" width="8.60" height="2.70" fill="#f09462"/>
<rect x="299.80" y="77.30" width="8.60" height="2.70" fill="#5684c8"/>
<rect x="308.40" y="77.30" width="8.60" height="2.70" fill="#d6ede4"/>
<rect x="317.00" y="77.30" width="17.20" height="2.70" fill="#4673bf"/>
<rect x="265.40" y="80.00" width="34.40" height="2.60" fill="#4673bf"/>
<rect x="299.80" y="80.00" width="8.60" height="2.60" fill="#5684c8"/>
<rect x="308.40" y="80.00" width="8.60" height="2.60" fill="#c0e0ea"/>
<rect x="317.00" y="80.00" width="17.20" height="2.60" fill="#4673bf"/>
<rect x="265.40" y="82.60" width="8.60" height="3.30" fill="#a8cee8"/>
<rect x="274.00" y="82.60" width="8.60" height="3.30" fill="#5684c8"/>
<rect x="282.60" y="82.60" width="17.20" height="3.30" fill="#4673bf"/>
<rect x="299.80" y="82.60" width="8.60" height="3.30" fill="#6e9ad4"/>
<rect x="308.40" y="82.60" width="8.60" height="3.30" fill="#c0e0ea"/>
<rect x="317.00" y="82.60" width="17.20" height="3.30" fill="#4673bf"/>
<rect x="265.40" y="85.90" width="8.60" height="2.60" fill="#4673bf"/>
<rect x="274.00" y="85.90" width="8.60" height="2.60" fill="#8cb6e0"/>
<rect x="282.60" y="85.90" width="8.60" height="2.60" fill="#c0e0ea"/>
<rect x="291.20" y="85.90" width="43.00" height="2.60" fill="#4673bf"/>
<rect x="265.40" y="88.50" width="17.20" height="3.30" fill="#4673bf"/>
<rect x="282.60" y="88.50" width="8.60" height="3.30" fill="#c0e0ea"/>
<rect x="291.20" y="88.50" width="43.00" height="3.30" fill="#4673bf"/>
<rect x="265.40" y="91.80" width="68.80" height="4.70" fill="#4673bf"/>
<rect x="265.40" y="96.50" width="8.60" height="2.60" fill="#8cb6e0"/>
<rect x="274.00" y="96.50" width="8.60" height="2.60" fill="#5684c8"/>
<rect x="282.60" y="96.50" width="17.20" height="2.60" fill="#4673bf"/>
<rect x="299.80" y="96.50" width="8.60" height="2.60" fill="#6e9ad4"/>
<rect x="308.40" y="96.50" width="25.80" height="2.60" fill="#4673bf"/>
<rect x="265.40" y="99.10" width="25.80" height="3.40" fill="#8cb6e0"/>
<rect x="291.20" y="99.10" width="8.60" height="3.40" fill="#4673bf"/>
<rect x="299.80" y="99.10" width="8.60" height="3.40" fill="#6e9ad4"/>
<rect x="308.40" y="99.10" width="25.80" height="3.40" fill="#4673bf"/>
<rect x="265.40" y="102.50" width="8.60" height="4.50" fill="#5684c8"/>
<rect x="274.00" y="102.50" width="8.60" height="4.50" fill="#4673bf"/>
<rect x="282.60" y="102.50" width="8.60" height="4.50" fill="#6e9ad4"/>
<rect x="291.20" y="102.50" width="8.60" height="4.50" fill="#c0e0ea"/>
<rect x="299.80" y="102.50" width="8.60" height="4.50" fill="#4673bf"/>
<rect x="308.40" y="102.50" width="8.60" height="4.50" fill="#a8cee8"/>
<rect x="317.00" y="102.50" width="17.20" height="4.50" fill="#4673bf"/>
<rect x="265.40" y="107.00" width="8.60" height="5.30" fill="#6e9ad4"/>
<rect x="274.00" y="107.00" width="8.60" height="5.30" fill="#4673bf"/>
<rect x="282.60" y="107.00" width="8.60" height="5.30" fill="#a8cee8"/>
<rect x="291.20" y="107.00" width="17.20" height="5.30" fill="#5684c8"/>
<rect x="308.40" y="107.00" width="8.60" height="5.30" fill="#c0e0ea"/>
<rect x="317.00" y="107.00" width="17.20" height="5.30" fill="#4673bf"/>
<rect x="265.40" y="112.30" width="68.80" height="2.00" fill="#4673bf"/>
<rect x="265.40" y="114.30" width="17.20" height="2.70" fill="#f8f4c8"/>
<rect x="282.60" y="114.30" width="8.60" height="2.70" fill="#fbe8a6"/>
<rect x="291.20" y="114.30" width="8.60" height="2.70" fill="#f9d290"/>
<rect x="299.80" y="114.30" width="8.60" height="2.70" fill="#fbe8a6"/>
<rect x="308.40" y="114.30" width="8.60" height="2.70" fill="#f09462"/>
<rect x="317.00" y="114.30" width="17.20" height="2.70" fill="#f8f4c8"/>
<rect x="265.40" y="117.00" width="8.60" height="3.30" fill="#f09462"/>
<rect x="274.00" y="117.00" width="34.40" height="3.30" fill="#f6b47a"/>
<rect x="308.40" y="117.00" width="8.60" height="3.30" fill="#f8f4c8"/>
<rect x="317.00" y="117.00" width="17.20" height="3.30" fill="#f09462"/>
<rect x="265.40" y="120.30" width="8.60" height="2.60" fill="#fbe8a6"/>
<rect x="274.00" y="120.30" width="43.00" height="2.60" fill="#f8f4c8"/>
<rect x="317.00" y="120.30" width="8.60" height="2.60" fill="#f09462"/>
<rect x="325.60" y="120.30" width="8.60" height="2.60" fill="#f6b47a"/>
<rect x="265.40" y="122.90" width="17.20" height="2.70" fill="#f6b47a"/>
<rect x="282.60" y="122.90" width="8.60" height="2.70" fill="#f9d290"/>
<rect x="291.20" y="122.90" width="8.60" height="2.70" fill="#f8f4c8"/>
<rect x="299.80" y="122.90" width="8.60" height="2.70" fill="#c0e0ea"/>
<rect x="308.40" y="122.90" width="8.60" height="2.70" fill="#d6ede4"/>
<rect x="317.00" y="122.90" width="8.60" height="2.70" fill="#f8f4c8"/>
<rect x="325.60" y="122.90" width="8.60" height="2.70" fill="#f9d290"/>
<rect x="265.40" y="125.60" width="51.60" height="2.60" fill="#f8f4c8"/>
<rect x="317.00" y="125.60" width="8.60" height="2.60" fill="#f09462"/>
<rect x="325.60" y="125.60" width="8.60" height="2.60" fill="#f8f4c8"/>
<rect x="265.40" y="128.20" width="8.60" height="3.30" fill="#f8f4c8"/>
<rect x="274.00" y="128.20" width="8.60" height="3.30" fill="#f9d290"/>
<rect x="282.60" y="128.20" width="43.00" height="3.30" fill="#f8f4c8"/>
<rect x="325.60" y="128.20" width="8.60" height="3.30" fill="#fbe8a6"/>
<rect x="265.40" y="131.50" width="17.20" height="4.00" fill="#f8f4c8"/>
<rect x="282.60" y="131.50" width="8.60" height="4.00" fill="#fbe8a6"/>
<rect x="291.20" y="131.50" width="8.60" height="4.00" fill="#f6b47a"/>
<rect x="299.80" y="131.50" width="8.60" height="4.00" fill="#e86a48"/>
<rect x="308.40" y="131.50" width="8.60" height="4.00" fill="#f09462"/>
<rect x="317.00" y="131.50" width="8.60" height="4.00" fill="#f8f4c8"/>
<rect x="325.60" y="131.50" width="8.60" height="4.00" fill="#f6b47a"/>
<rect x="265.40" y="135.50" width="25.80" height="3.30" fill="#f8f4c8"/>
<rect x="291.20" y="135.50" width="17.20" height="3.30" fill="#e8f3d8"/>
<rect x="308.40" y="135.50" width="25.80" height="3.30" fill="#f8f4c8"/>
<rect x="265.40" y="138.80" width="8.60" height="3.30" fill="#fbe8a6"/>
<rect x="274.00" y="138.80" width="17.20" height="3.30" fill="#f6b47a"/>
<rect x="291.20" y="138.80" width="25.80" height="3.30" fill="#f8f4c8"/>
<rect x="317.00" y="138.80" width="17.20" height="3.30" fill="#e8f3d8"/>
<rect x="265.40" y="142.10" width="25.80" height="3.40" fill="#f8f4c8"/>
<rect x="291.20" y="142.10" width="8.60" height="3.40" fill="#e8f3d8"/>
<rect x="299.80" y="142.10" width="17.20" height="3.40" fill="#f8f4c8"/>
<rect x="317.00" y="142.10" width="8.60" height="3.40" fill="#e8f3d8"/>
<rect x="325.60" y="142.10" width="8.60" height="3.40" fill="#f8f4c8"/>
<rect x="265.40" y="145.50" width="8.60" height="3.30" fill="#fbe8a6"/>
<rect x="274.00" y="145.50" width="17.20" height="3.30" fill="#f6b47a"/>
<rect x="291.20" y="145.50" width="8.60" height="3.30" fill="#e86a48"/>
<rect x="299.80" y="145.50" width="8.60" height="3.30" fill="#dc3828"/>
<rect x="308.40" y="145.50" width="25.80" height="3.30" fill="#e86a48"/>
<rect x="265.40" y="148.80" width="8.60" height="2.20" fill="#f8f4c8"/>
<rect x="274.00" y="148.80" width="17.20" height="2.20" fill="#f6b47a"/>
<rect x="291.20" y="148.80" width="8.60" height="2.20" fill="#e86a48"/>
<rect x="299.80" y="148.80" width="8.60" height="2.20" fill="#f8f4c8"/>
<rect x="308.40" y="148.80" width="8.60" height="2.20" fill="#dc3828"/>
<rect x="317.00" y="148.80" width="8.60" height="2.20" fill="#e86a48"/>
<rect x="325.60" y="148.80" width="8.60" height="2.20" fill="#dc3828"/>
<rect x="265.40" y="151.00" width="8.60" height="2.00" fill="#f8f4c8"/>
<rect x="274.00" y="151.00" width="17.20" height="2.00" fill="#f09462"/>
<rect x="291.20" y="151.00" width="8.60" height="2.00" fill="#e86a48"/>
<rect x="299.80" y="151.00" width="8.60" height="2.00" fill="#f8f4c8"/>
<rect x="308.40" y="151.00" width="8.60" height="2.00" fill="#e86a48"/>
<rect x="317.00" y="151.00" width="17.20" height="2.00" fill="#dc3828"/>
<rect x="265.40" y="153.00" width="68.80" height="2.00" fill="#f8f4c8"/>
<rect x="265.40" y="155.00" width="34.40" height="3.30" fill="#f8f4c8"/>
<rect x="299.80" y="155.00" width="17.20" height="3.30" fill="#e8f3d8"/>
<rect x="317.00" y="155.00" width="8.60" height="3.30" fill="#4673bf"/>
<rect x="325.60" y="155.00" width="8.60" height="3.30" fill="#a8cee8"/>
<rect x="265.40" y="158.30" width="8.60" height="2.70" fill="#f8f4c8"/>
<rect x="274.00" y="158.30" width="8.60" height="2.70" fill="#e8f3d8"/>
<rect x="282.60" y="158.30" width="17.20" height="2.70" fill="#f8f4c8"/>
<rect x="299.80" y="158.30" width="17.20" height="2.70" fill="#e8f3d8"/>
<rect x="317.00" y="158.30" width="8.60" height="2.70" fill="#4673bf"/>
<rect x="325.60" y="158.30" width="8.60" height="2.70" fill="#c0e0ea"/>
<rect x="265.40" y="161.00" width="8.60" height="3.30" fill="#f8f4c8"/>
<rect x="274.00" y="161.00" width="17.20" height="3.30" fill="#d6ede4"/>
<rect x="291.20" y="161.00" width="8.60" height="3.30" fill="#f8f4c8"/>
<rect x="299.80" y="161.00" width="8.60" height="3.30" fill="#a8cee8"/>
<rect x="308.40" y="161.00" width="8.60" height="3.30" fill="#e8f3d8"/>
<rect x="317.00" y="161.00" width="8.60" height="3.30" fill="#5684c8"/>
<rect x="325.60" y="161.00" width="8.60" height="3.30" fill="#d6ede4"/>
<rect x="265.40" y="164.30" width="8.60" height="2.70" fill="#f8f4c8"/>
<rect x="274.00" y="164.30" width="25.80" height="2.70" fill="#f6b47a"/>
<rect x="299.80" y="164.30" width="8.60" height="2.70" fill="#e86a48"/>
<rect x="308.40" y="164.30" width="8.60" height="2.70" fill="#f09462"/>
<rect x="317.00" y="164.30" width="17.20" height="2.70" fill="#e86a48"/>
<rect x="265.40" y="167.00" width="17.20" height="2.60" fill="#f8f4c8"/>
<rect x="282.60" y="167.00" width="17.20" height="2.60" fill="#f6b47a"/>
<rect x="299.80" y="167.00" width="17.20" height="2.60" fill="#f8f4c8"/>
<rect x="317.00" y="167.00" width="8.60" height="2.60" fill="#f6b47a"/>
<rect x="325.60" y="167.00" width="8.60" height="2.60" fill="#f09462"/>
<rect x="265.40" y="169.60" width="8.60" height="2.60" fill="#5684c8"/>
<rect x="274.00" y="169.60" width="25.80" height="2.60" fill="#c0e0ea"/>
<rect x="299.80" y="169.60" width="17.20" height="2.60" fill="#f8f4c8"/>
<rect x="317.00" y="169.60" width="8.60" height="2.60" fill="#f9d290"/>
<rect x="325.60" y="169.60" width="8.60" height="2.60" fill="#f09462"/>
<rect x="265.40" y="172.20" width="34.40" height="2.70" fill="#f8f4c8"/>
<rect x="299.80" y="172.20" width="8.60" height="2.70" fill="#a8cee8"/>
<rect x="308.40" y="172.20" width="8.60" height="2.70" fill="#f8f4c8"/>
<rect x="317.00" y="172.20" width="8.60" height="2.70" fill="#fbe8a6"/>
<rect x="325.60" y="172.20" width="8.60" height="2.70" fill="#f8f4c8"/>
<rect x="265.40" y="174.90" width="34.40" height="2.60" fill="#f8f4c8"/>
<rect x="299.80" y="174.90" width="8.60" height="2.60" fill="#f6b47a"/>
<rect x="308.40" y="174.90" width="25.80" height="2.60" fill="#f8f4c8"/>
<rect x="265.40" y="177.50" width="8.60" height="3.30" fill="#f8f4c8"/>
<rect x="274.00" y="177.50" width="17.20" height="3.30" fill="#fbe8a6"/>
<rect x="291.20" y="177.50" width="8.60" height="3.30" fill="#f8f4c8"/>
<rect x="299.80" y="177.50" width="8.60" height="3.30" fill="#e86a48"/>
<rect x="308.40" y="177.50" width="17.20" height="3.30" fill="#f6b47a"/>
<rect x="325.60" y="177.50" width="8.60" height="3.30" fill="#f9d290"/>
<rect x="265.40" y="180.80" width="51.60" height="2.70" fill="#f8f4c8"/>
<rect x="317.00" y="180.80" width="8.60" height="2.70" fill="#d6ede4"/>
<rect x="325.60" y="180.80" width="8.60" height="2.70" fill="#c0e0ea"/>
<rect x="265.40" y="183.50" width="8.60" height="2.60" fill="#e8f3d8"/>
<rect x="274.00" y="183.50" width="8.60" height="2.60" fill="#c0e0ea"/>
<rect x="282.60" y="183.50" width="8.60" height="2.60" fill="#e8f3d8"/>
<rect x="291.20" y="183.50" width="8.60" height="2.60" fill="#f8f4c8"/>
<rect x="299.80" y="183.50" width="17.20" height="2.60" fill="#f09462"/>
<rect x="317.00" y="183.50" width="17.20" height="2.60" fill="#f8f4c8"/>
<rect x="265.40" y="186.10" width="51.60" height="2.70" fill="#f8f4c8"/>
<rect x="317.00" y="186.10" width="8.60" height="2.70" fill="#f6b47a"/>
<rect x="325.60" y="186.10" width="8.60" height="2.70" fill="#f09462"/>
<rect x="265.40" y="188.80" width="8.60" height="2.60" fill="#f8f4c8"/>
<rect x="274.00" y="188.80" width="8.60" height="2.60" fill="#fbe8a6"/>
<rect x="282.60" y="188.80" width="8.60" height="2.60" fill="#f9d290"/>
<rect x="291.20" y="188.80" width="43.00" height="2.60" fill="#f8f4c8"/>
<rect x="265.40" y="191.40" width="34.40" height="2.70" fill="#f8f4c8"/>
<rect x="299.80" y="191.40" width="8.60" height="2.70" fill="#f09462"/>
<rect x="308.40" y="191.40" width="8.60" height="2.70" fill="#f6b47a"/>
<rect x="317.00" y="191.40" width="17.20" height="2.70" fill="#f09462"/>
<rect x="265.40" y="194.10" width="68.80" height="1.40" fill="#f8f4c8"/>
<rect x="334.20" y="17.20" width="17.20" height="2.50" fill="#a8cee8"/>
<rect x="351.40" y="17.20" width="8.60" height="2.50" fill="#8cb6e0"/>
<rect x="360.00" y="17.20" width="8.60" height="2.50" fill="#c0e0ea"/>
<rect x="368.60" y="17.20" width="17.20" height="2.50" fill="#a8cee8"/>
<rect x="385.80" y="17.20" width="8.60" height="2.50" fill="#c0e0ea"/>
<rect x="394.40" y="17.20" width="8.60" height="2.50" fill="#6e9ad4"/>
<rect x="334.20" y="19.70" width="25.80" height="2.60" fill="#a8cee8"/>
<rect x="360.00" y="19.70" width="17.20" height="2.60" fill="#c0e0ea"/>
<rect x="377.20" y="19.70" width="8.60" height="2.60" fill="#a8cee8"/>
<rect x="385.80" y="19.70" width="8.60" height="2.60" fill="#c0e0ea"/>
<rect x="394.40" y="19.70" width="8.60" height="2.60" fill="#5684c8"/>
<rect x="334.20" y="22.30" width="34.40" height="2.00" fill="#c0e0ea"/>
<rect x="368.60" y="22.30" width="8.60" height="2.00" fill="#a8cee8"/>
<rect x="377.20" y="22.30" width="8.60" height="2.00" fill="#4673bf"/>
<rect x="385.80" y="22.30" width="8.60" height="2.00" fill="#c0e0ea"/>
<rect x="394.40" y="22.30" width="8.60" height="2.00" fill="#8cb6e0"/>
<rect x="334.20" y="24.30" width="8.60" height="2.70" fill="#a8cee8"/>
<rect x="342.80" y="24.30" width="8.60" height="2.70" fill="#c0e0ea"/>
<rect x="351.40" y="24.30" width="8.60" height="2.70" fill="#f9d290"/>
<rect x="360.00" y="24.30" width="8.60" height="2.70" fill="#f6b47a"/>
<rect x="368.60" y="24.30" width="8.60" height="2.70" fill="#fbe8a6"/>
<rect x="377.20" y="24.30" width="8.60" height="2.70" fill="#e8f3d8"/>
<rect x="385.80" y="24.30" width="8.60" height="2.70" fill="#f6b47a"/>
<rect x="394.40" y="24.30" width="8.60" height="2.70" fill="#f09462"/>
<rect x="334.20" y="27.00" width="17.20" height="2.60" fill="#a8cee8"/>
<rect x="351.40" y="27.00" width="8.60" height="2.60" fill="#c0e0ea"/>
<rect x="360.00" y="27.00" width="8.60" height="2.60" fill="#8cb6e0"/>
<rect x="368.60" y="27.00" width="8.60" height="2.60" fill="#c0e0ea"/>
<rect x="377.20" y="27.00" width="8.60" height="2.60" fill="#a8cee8"/>
<rect x="385.80" y="27.00" width="8.60" height="2.60" fill="#c0e0ea"/>
<rect x="394.40" y="27.00" width="8.60" height="2.60" fill="#6e9ad4"/>
<rect x="334.20" y="29.60" width="17.20" height="2.70" fill="#c0e0ea"/>
<rect x="351.40" y="29.60" width="8.60" height="2.70" fill="#a8cee8"/>
<rect x="360.00" y="29.60" width="8.60" height="2.70" fill="#c0e0ea"/>
<rect x="368.60" y="29.60" width="17.20" height="2.70" fill="#a8cee8"/>
<rect x="385.80" y="29.60" width="8.60" height="2.70" fill="#c0e0ea"/>
<rect x="394.40" y="29.60" width="8.60" height="2.70" fill="#5684c8"/>
<rect x="334.20" y="32.30" width="8.60" height="2.60" fill="#f8f4c8"/>
<rect x="342.80" y="32.30" width="8.60" height="2.60" fill="#c0e0ea"/>
<rect x="351.40" y="32.30" width="8.60" height="2.60" fill="#a8cee8"/>
<rect x="360.00" y="32.30" width="8.60" height="2.60" fill="#8cb6e0"/>
<rect x="368.60" y="32.30" width="17.20" height="2.60" fill="#c0e0ea"/>
<rect x="385.80" y="32.30" width="8.60" height="2.60" fill="#5684c8"/>
<rect x="394.40" y="32.30" width="8.60" height="2.60" fill="#e8f3d8"/>
<rect x="334.20" y="34.90" width="8.60" height="3.30" fill="#c0e0ea"/>
<rect x="342.80" y="34.90" width="17.20" height="3.30" fill="#d6ede4"/>
<rect x="360.00" y="34.90" width="8.60" height="3.30" fill="#c0e0ea"/>
<rect x="368.60" y="34.90" width="25.80" height="3.30" fill="#4673bf"/>
<rect x="394.40" y="34.90" width="8.60" height="3.30" fill="#6e9ad4"/>
<rect x="334.20" y="38.20" width="8.60" height="4.00" fill="#4673bf"/>
<rect x="342.80" y="38.20" width="8.60" height="4.00" fill="#f9d290"/>
<rect x="351.40" y="38.20" width="8.60" height="4.00" fill="#8cb6e0"/>
<rect x="360.00" y="38.20" width="8.60" height="4.00" fill="#4673bf"/>
<rect x="368.60" y="38.20" width="8.60" height="4.00" fill="#8cb6e0"/>
<rect x="377.20" y="38.20" width="25.80" height="4.00" fill="#4673bf"/>
<rect x="334.20" y="42.20" width="8.60" height="4.60" fill="#4673bf"/>
<rect x="342.80" y="42.20" width="8.60" height="4.60" fill="#fbe8a6"/>
<rect x="351.40" y="42.20" width="8.60" height="4.60" fill="#8cb6e0"/>
<rect x="360.00" y="42.20" width="43.00" height="4.60" fill="#4673bf"/>
<rect x="334.20" y="46.80" width="8.60" height="2.70" fill="#4673bf"/>
<rect x="342.80" y="46.80" width="17.20" height="2.70" fill="#e8f3d8"/>
<rect x="360.00" y="46.80" width="8.60" height="2.70" fill="#6e9ad4"/>
<rect x="368.60" y="46.80" width="8.60" height="2.70" fill="#4673bf"/>
<rect x="377.20" y="46.80" width="8.60" height="2.70" fill="#a8cee8"/>
<rect x="385.80" y="46.80" width="17.20" height="2.70" fill="#4673bf"/>
<rect x="334.20" y="49.50" width="8.60" height="2.60" fill="#f09462"/>
<rect x="342.80" y="49.50" width="8.60" height="2.60" fill="#f6b47a"/>
<rect x="351.40" y="49.50" width="8.60" height="2.60" fill="#f8f4c8"/>
<rect x="360.00" y="49.50" width="43.00" height="2.60" fill="#4673bf"/>
<rect x="334.20" y="52.10" width="8.60" height="3.40" fill="#a8cee8"/>
<rect x="342.80" y="52.10" width="8.60" height="3.40" fill="#8cb6e0"/>
<rect x="351.40" y="52.10" width="8.60" height="3.40" fill="#f9d290"/>
<rect x="360.00" y="52.10" width="8.60" height="3.40" fill="#4673bf"/>
<rect x="368.60" y="52.10" width="8.60" height="3.40" fill="#8cb6e0"/>
<rect x="377.20" y="52.10" width="8.60" height="3.40" fill="#5684c8"/>
<rect x="385.80" y="52.10" width="17.20" height="3.40" fill="#4673bf"/>
<rect x="334.20" y="55.50" width="8.60" height="3.30" fill="#f8f4c8"/>
<rect x="342.80" y="55.50" width="8.60" height="3.30" fill="#e8f3d8"/>
<rect x="351.40" y="55.50" width="8.60" height="3.30" fill="#f09462"/>
<rect x="360.00" y="55.50" width="43.00" height="3.30" fill="#4673bf"/>
<rect x="334.20" y="58.80" width="8.60" height="3.20" fill="#f09462"/>
<rect x="342.80" y="58.80" width="8.60" height="3.20" fill="#f8f4c8"/>
<rect x="351.40" y="58.80" width="8.60" height="3.20" fill="#f9d290"/>
<rect x="360.00" y="58.80" width="8.60" height="3.20" fill="#4673bf"/>
<rect x="368.60" y="58.80" width="17.20" height="3.20" fill="#a8cee8"/>
<rect x="385.80" y="58.80" width="17.20" height="3.20" fill="#4673bf"/>
<rect x="334.20" y="62.00" width="8.60" height="2.00" fill="#c0e0ea"/>
<rect x="342.80" y="62.00" width="8.60" height="2.00" fill="#d6ede4"/>
<rect x="351.40" y="62.00" width="8.60" height="2.00" fill="#f09462"/>
<rect x="360.00" y="62.00" width="8.60" height="2.00" fill="#a8cee8"/>
<rect x="368.60" y="62.00" width="17.20" height="2.00" fill="#d6ede4"/>
<rect x="385.80" y="62.00" width="8.60" height="2.00" fill="#a8cee8"/>
<rect x="394.40" y="62.00" width="8.60" height="2.00" fill="#4673bf"/>
<rect x="334.20" y="64.00" width="8.60" height="4.00" fill="#e86a48"/>
<rect x="342.80" y="64.00" width="8.60" height="4.00" fill="#d6ede4"/>
<rect x="351.40" y="64.00" width="8.60" height="4.00" fill="#f6b47a"/>
<rect x="360.00" y="64.00" width="8.60" height="4.00" fill="#a8cee8"/>
<rect x="368.60" y="64.00" width="25.80" height="4.00" fill="#c0e0ea"/>
<rect x="394.40" y="64.00" width="8.60" height="4.00" fill="#4673bf"/>
<rect x="334.20" y="68.00" width="8.60" height="3.30" fill="#f09462"/>
<rect x="342.80" y="68.00" width="8.60" height="3.30" fill="#d6ede4"/>
<rect x="351.40" y="68.00" width="8.60" height="3.30" fill="#f6b47a"/>
<rect x="360.00" y="68.00" width="8.60" height="3.30" fill="#8cb6e0"/>
<rect x="368.60" y="68.00" width="17.20" height="3.30" fill="#c0e0ea"/>
<rect x="385.80" y="68.00" width="17.20" height="3.30" fill="#4673bf"/>
<rect x="334.20" y="71.30" width="8.60" height="3.30" fill="#f8f4c8"/>
<rect x="342.80" y="71.30" width="8.60" height="3.30" fill="#d6ede4"/>
<rect x="351.40" y="71.30" width="8.60" height="3.30" fill="#fbe8a6"/>
<rect x="360.00" y="71.30" width="8.60" height="3.30" fill="#8cb6e0"/>
<rect x="368.60" y="71.30" width="17.20" height="3.30" fill="#c0e0ea"/>
<rect x="385.80" y="71.30" width="17.20" height="3.30" fill="#4673bf"/>
<rect x="334.20" y="74.60" width="8.60" height="2.70" fill="#dc3828"/>
<rect x="342.80" y="74.60" width="8.60" height="2.70" fill="#e8f3d8"/>
<rect x="351.40" y="74.60" width="8.60" height="2.70" fill="#fbe8a6"/>
<rect x="360.00" y="74.60" width="25.80" height="2.70" fill="#c0e0ea"/>
<rect x="385.80" y="74.60" width="8.60" height="2.70" fill="#5684c8"/>
<rect x="394.40" y="74.60" width="8.60" height="2.70" fill="#4673bf"/>
<rect x="334.20" y="77.30" width="8.60" height="2.70" fill="#f8f4c8"/>
<rect x="342.80" y="77.30" width="8.60" height="2.70" fill="#d6ede4"/>
<rect x="351.40" y="77.30" width="8.60" height="2.70" fill="#f8f4c8"/>
<rect x="360.00" y="77.30" width="8.60" height="2.70" fill="#dc3828"/>
<rect x="368.60" y="77.30" width="17.20" height="2.70" fill="#c0e0ea"/>
<rect x="385.80" y="77.30" width="17.20" height="2.70" fill="#4673bf"/>
<rect x="334.20" y="80.00" width="8.60" height="2.00" fill="#a8cee8"/>
<rect x="342.80" y="80.00" width="25.80" height="2.00" fill="#c0e0ea"/>
<rect x="368.60" y="80.00" width="17.20" height="2.00" fill="#d6ede4"/>
<rect x="385.80" y="80.00" width="8.60" height="2.00" fill="#c0e0ea"/>
<rect x="394.40" y="80.00" width="8.60" height="2.00" fill="#5684c8"/>
<rect x="334.20" y="82.00" width="8.60" height="2.50" fill="#a8cee8"/>
<rect x="342.80" y="82.00" width="8.60" height="2.50" fill="#c0e0ea"/>
<rect x="351.40" y="82.00" width="8.60" height="2.50" fill="#d6ede4"/>
<rect x="360.00" y="82.00" width="17.20" height="2.50" fill="#f8f4c8"/>
<rect x="377.20" y="82.00" width="8.60" height="2.50" fill="#f6b47a"/>
<rect x="385.80" y="82.00" width="8.60" height="2.50" fill="#f8f4c8"/>
<rect x="394.40" y="82.00" width="8.60" height="2.50" fill="#c0e0ea"/>
<rect x="334.20" y="84.50" width="8.60" height="2.70" fill="#4673bf"/>
<rect x="342.80" y="84.50" width="8.60" height="2.70" fill="#6e9ad4"/>
<rect x="351.40" y="84.50" width="8.60" height="2.70" fill="#4673bf"/>
<rect x="360.00" y="84.50" width="8.60" height="2.70" fill="#8cb6e0"/>
<rect x="368.60" y="84.50" width="34.40" height="2.70" fill="#4673bf"/>
<rect x="334.20" y="87.20" width="8.60" height="3.30" fill="#8cb6e0"/>
<rect x="342.80" y="87.20" width="8.60" height="3.30" fill="#a8cee8"/>
<rect x="351.40" y="87.20" width="8.60" height="3.30" fill="#6e9ad4"/>
<rect x="360.00" y="87.20" width="8.60" height="3.30" fill="#8cb6e0"/>
<rect x="368.60" y="87.20" width="17.20" height="3.30" fill="#4673bf"/>
<rect x="385.80" y="87.20" width="8.60" height="3.30" fill="#c0e0ea"/>
<rect x="394.40" y="87.20" width="8.60" height="3.30" fill="#4673bf"/>
<rect x="334.20" y="90.50" width="8.60" height="3.30" fill="#4673bf"/>
<rect x="342.80" y="90.50" width="8.60" height="3.30" fill="#a8cee8"/>
<rect x="351.40" y="90.50" width="8.60" height="3.30" fill="#6e9ad4"/>
<rect x="360.00" y="90.50" width="8.60" height="3.30" fill="#8cb6e0"/>
<rect x="368.60" y="90.50" width="34.40" height="3.30" fill="#4673bf"/>
<rect x="334.20" y="93.80" width="25.80" height="2.70" fill="#8cb6e0"/>
<rect x="360.00" y="93.80" width="8.60" height="2.70" fill="#6e9ad4"/>
<rect x="368.60" y="93.80" width="8.60" height="2.70" fill="#5684c8"/>
<rect x="377.20" y="93.80" width="25.80" height="2.70" fill="#4673bf"/>
<rect x="334.20" y="96.50" width="17.20" height="2.60" fill="#a8cee8"/>
<rect x="351.40" y="96.50" width="17.20" height="2.60" fill="#8cb6e0"/>
<rect x="368.60" y="96.50" width="8.60" height="2.60" fill="#4673bf"/>
<rect x="377.20" y="96.50" width="8.60" height="2.60" fill="#c0e0ea"/>
<rect x="385.80" y="96.50" width="8.60" height="2.60" fill="#4673bf"/>
<rect x="394.40" y="96.50" width="8.60" height="2.60" fill="#c0e0ea"/>
<rect x="334.20" y="99.10" width="68.80" height="7.90" fill="#4673bf"/>
<rect x="334.20" y="107.00" width="8.60" height="6.00" fill="#4673bf"/>
<rect x="342.80" y="107.00" width="8.60" height="6.00" fill="#6e9ad4"/>
<rect x="351.40" y="107.00" width="8.60" height="6.00" fill="#4673bf"/>
<rect x="360.00" y="107.00" width="8.60" height="6.00" fill="#6e9ad4"/>
<rect x="368.60" y="107.00" width="34.40" height="6.00" fill="#4673bf"/>
<rect x="334.20" y="113.00" width="68.80" height="1.30" fill="#4673bf"/>
<rect x="334.20" y="114.30" width="25.80" height="2.70" fill="#e8f3d8"/>
<rect x="360.00" y="114.30" width="8.60" height="2.70" fill="#f8f4c8"/>
<rect x="368.60" y="114.30" width="8.60" height="2.70" fill="#f9d290"/>
<rect x="377.20" y="114.30" width="8.60" height="2.70" fill="#fbe8a6"/>
<rect x="385.80" y="114.30" width="17.20" height="2.70" fill="#f6b47a"/>
<rect x="334.20" y="117.00" width="8.60" height="3.30" fill="#f6b47a"/>
<rect x="342.80" y="117.00" width="8.60" height="3.30" fill="#fbe8a6"/>
<rect x="351.40" y="117.00" width="8.60" height="3.30" fill="#f8f4c8"/>
<rect x="360.00" y="117.00" width="8.60" height="3.30" fill="#f6b47a"/>
<rect x="368.60" y="117.00" width="8.60" height="3.30" fill="#f09462"/>
<rect x="377.20" y="117.00" width="8.60" height="3.30" fill="#f8f4c8"/>
<rect x="385.80" y="117.00" width="17.20" height="3.30" fill="#f09462"/>
<rect x="334.20" y="120.30" width="8.60" height="3.30" fill="#f8f4c8"/>
<rect x="342.80" y="120.30" width="8.60" height="3.30" fill="#f9d290"/>
<rect x="351.40" y="120.30" width="8.60" height="3.30" fill="#fbe8a6"/>
<rect x="360.00" y="120.30" width="17.20" height="3.30" fill="#f6b47a"/>
<rect x="377.20" y="120.30" width="8.60" height="3.30" fill="#f8f4c8"/>
<rect x="385.80" y="120.30" width="17.20" height="3.30" fill="#f6b47a"/>
<rect x="334.20" y="123.60" width="8.60" height="2.60" fill="#f8f4c8"/>
<rect x="342.80" y="123.60" width="8.60" height="2.60" fill="#fbe8a6"/>
<rect x="351.40" y="123.60" width="25.80" height="2.60" fill="#f6b47a"/>
<rect x="377.20" y="123.60" width="8.60" height="2.60" fill="#f8f4c8"/>
<rect x="385.80" y="123.60" width="8.60" height="2.60" fill="#f09462"/>
<rect x="394.40" y="123.60" width="8.60" height="2.60" fill="#f6b47a"/>
<rect x="334.20" y="126.20" width="8.60" height="3.30" fill="#c0e0ea"/>
<rect x="342.80" y="126.20" width="8.60" height="3.30" fill="#d6ede4"/>
<rect x="351.40" y="126.20" width="8.60" height="3.30" fill="#e8f3d8"/>
<rect x="360.00" y="126.20" width="34.40" height="3.30" fill="#f8f4c8"/>
<rect x="394.40" y="126.20" width="8.60" height="3.30" fill="#f9d290"/>
<rect x="334.20" y="129.50" width="17.20" height="3.40" fill="#d6ede4"/>
<rect x="351.40" y="129.50" width="17.20" height="3.40" fill="#e8f3d8"/>
<rect x="368.60" y="129.50" width="34.40" height="3.40" fill="#f8f4c8"/>
<rect x="334.20" y="132.90" width="17.20" height="2.60" fill="#c0e0ea"/>
<rect x="351.40" y="132.90" width="17.20" height="2.60" fill="#e8f3d8"/>
<rect x="368.60" y="132.90" width="8.60" height="2.60" fill="#f8f4c8"/>
<rect x="377.20" y="132.90" width="8.60" height="2.60" fill="#fbe8a6"/>
<rect x="385.80" y="132.90" width="17.20" height="2.60" fill="#f8f4c8"/>
<rect x="334.20" y="135.50" width="17.20" height="2.70" fill="#e8f3d8"/>
<rect x="351.40" y="135.50" width="8.60" height="2.70" fill="#fbe8a6"/>
<rect x="360.00" y="135.50" width="8.60" height="2.70" fill="#f6b47a"/>
<rect x="368.60" y="135.50" width="8.60" height="2.70" fill="#e86a48"/>
<rect x="377.20" y="135.50" width="8.60" height="2.70" fill="#f6b47a"/>
<rect x="385.80" y="135.50" width="17.20" height="2.70" fill="#f8f4c8"/>
<rect x="334.20" y="138.20" width="17.20" height="2.60" fill="#d6ede4"/>
<rect x="351.40" y="138.20" width="8.60" height="2.60" fill="#e8f3d8"/>
<rect x="360.00" y="138.20" width="8.60" height="2.60" fill="#f8f4c8"/>
<rect x="368.60" y="138.20" width="8.60" height="2.60" fill="#f6b47a"/>
<rect x="377.20" y="138.20" width="25.80" height="2.60" fill="#f8f4c8"/>
<rect x="334.20" y="140.80" width="8.60" height="3.30" fill="#c0e0ea"/>
<rect x="342.80" y="140.80" width="8.60" height="3.30" fill="#d6ede4"/>
<rect x="351.40" y="140.80" width="8.60" height="3.30" fill="#e8f3d8"/>
<rect x="360.00" y="140.80" width="17.20" height="3.30" fill="#f8f4c8"/>
<rect x="377.20" y="140.80" width="8.60" height="3.30" fill="#fbe8a6"/>
<rect x="385.80" y="140.80" width="17.20" height="3.30" fill="#f8f4c8"/>
<rect x="334.20" y="144.10" width="17.20" height="2.70" fill="#a8cee8"/>
<rect x="351.40" y="144.10" width="8.60" height="2.70" fill="#e8f3d8"/>
<rect x="360.00" y="144.10" width="25.80" height="2.70" fill="#f8f4c8"/>
<rect x="385.80" y="144.10" width="17.20" height="2.70" fill="#f6b47a"/>
<rect x="334.20" y="146.80" width="8.60" height="2.60" fill="#d6ede4"/>
<rect x="342.80" y="146.80" width="8.60" height="2.60" fill="#c0e0ea"/>
<rect x="351.40" y="146.80" width="17.20" height="2.60" fill="#e8f3d8"/>
<rect x="368.60" y="146.80" width="34.40" height="2.60" fill="#f8f4c8"/>
<rect x="334.20" y="149.40" width="8.60" height="1.60" fill="#d6ede4"/>
<rect x="342.80" y="149.40" width="8.60" height="1.60" fill="#fbe8a6"/>
<rect x="351.40" y="149.40" width="8.60" height="1.60" fill="#e8f3d8"/>
<rect x="360.00" y="149.40" width="8.60" height="1.60" fill="#f9d290"/>
<rect x="368.60" y="149.40" width="8.60" height="1.60" fill="#e8f3d8"/>
<rect x="377.20" y="149.40" width="25.80" height="1.60" fill="#e86a48"/>
<rect x="334.20" y="151.00" width="8.60" height="2.00" fill="#c0e0ea"/>
<rect x="342.80" y="151.00" width="17.20" height="2.00" fill="#e8f3d8"/>
<rect x="360.00" y="151.00" width="8.60" height="2.00" fill="#f6b47a"/>
<rect x="368.60" y="151.00" width="8.60" height="2.00" fill="#f8f4c8"/>
<rect x="377.20" y="151.00" width="25.80" height="2.00" fill="#e86a48"/>
<rect x="334.20" y="153.00" width="8.60" height="2.00" fill="#d6ede4"/>
<rect x="342.80" y="153.00" width="8.60" height="2.00" fill="#f8f4c8"/>
<rect x="351.40" y="153.00" width="8.60" height="2.00" fill="#e8f3d8"/>
<rect x="360.00" y="153.00" width="43.00" height="2.00" fill="#f8f4c8"/>
<rect x="334.20" y="155.00" width="8.60" height="3.30" fill="#e8f3d8"/>
<rect x="342.80" y="155.00" width="17.20" height="3.30" fill="#f8f4c8"/>
<rect x="360.00" y="155.00" width="8.60" height="3.30" fill="#f6b47a"/>
<rect x="368.60" y="155.00" width="8.60" height="3.30" fill="#f8f4c8"/>
<rect x="377.20" y="155.00" width="8.60" height="3.30" fill="#f9d290"/>
<rect x="385.80" y="155.00" width="17.20" height="3.30" fill="#f8f4c8"/>
<rect x="334.20" y="158.30" width="8.60" height="2.70" fill="#e8f3d8"/>
<rect x="342.80" y="158.30" width="17.20" height="2.70" fill="#f8f4c8"/>
<rect x="360.00" y="158.30" width="8.60" height="2.70" fill="#fbe8a6"/>
<rect x="368.60" y="158.30" width="34.40" height="2.70" fill="#f8f4c8"/>
<rect x="334.20" y="161.00" width="25.80" height="3.30" fill="#e8f3d8"/>
<rect x="360.00" y="161.00" width="8.60" height="3.30" fill="#f8f4c8"/>
<rect x="368.60" y="161.00" width="8.60" height="3.30" fill="#d6ede4"/>
<rect x="377.20" y="161.00" width="8.60" height="3.30" fill="#e8f3d8"/>
<rect x="385.80" y="161.00" width="17.20" height="3.30" fill="#f8f4c8"/>
<rect x="334.20" y="164.30" width="8.60" height="3.30" fill="#5684c8"/>
<rect x="342.80" y="164.30" width="8.60" height="3.30" fill="#a8cee8"/>
<rect x="351.40" y="164.30" width="8.60" height="3.30" fill="#5684c8"/>
<rect x="360.00" y="164.30" width="8.60" height="3.30" fill="#a8cee8"/>
<rect x="368.60" y="164.30" width="8.60" height="3.30" fill="#c0e0ea"/>
<rect x="377.20" y="164.30" width="8.60" height="3.30" fill="#d6ede4"/>
<rect x="385.80" y="164.30" width="17.20" height="3.30" fill="#f8f4c8"/>
<rect x="334.20" y="167.60" width="8.60" height="2.00" fill="#5684c8"/>
<rect x="342.80" y="167.60" width="8.60" height="2.00" fill="#d6ede4"/>
<rect x="351.40" y="167.60" width="8.60" height="2.00" fill="#4673bf"/>
<rect x="360.00" y="167.60" width="8.60" height="2.00" fill="#c0e0ea"/>
<rect x="368.60" y="167.60" width="8.60" height="2.00" fill="#4673bf"/>
<rect x="377.20" y="167.60" width="8.60" height="2.00" fill="#d6ede4"/>
<rect x="385.80" y="167.60" width="17.20" height="2.00" fill="#f8f4c8"/>
<rect x="334.20" y="169.60" width="8.60" height="2.60" fill="#8cb6e0"/>
<rect x="342.80" y="169.60" width="8.60" height="2.60" fill="#d6ede4"/>
<rect x="351.40" y="169.60" width="17.20" height="2.60" fill="#4673bf"/>
<rect x="368.60" y="169.60" width="8.60" height="2.60" fill="#c0e0ea"/>
<rect x="377.20" y="169.60" width="8.60" height="2.60" fill="#d6ede4"/>
<rect x="385.80" y="169.60" width="8.60" height="2.60" fill="#f8f4c8"/>
<rect x="394.40" y="169.60" width="8.60" height="2.60" fill="#f09462"/>
<rect x="334.20" y="172.20" width="17.20" height="2.00" fill="#d6ede4"/>
<rect x="351.40" y="172.20" width="17.20" height="2.00" fill="#c0e0ea"/>
<rect x="368.60" y="172.20" width="8.60" height="2.00" fill="#5684c8"/>
<rect x="377.20" y="172.20" width="8.60" height="2.00" fill="#e8f3d8"/>
<rect x="385.80" y="172.20" width="8.60" height="2.00" fill="#f8f4c8"/>
<rect x="394.40" y="172.20" width="8.60" height="2.00" fill="#f09462"/>
<rect x="334.20" y="174.20" width="25.80" height="3.30" fill="#e8f3d8"/>
<rect x="360.00" y="174.20" width="34.40" height="3.30" fill="#f8f4c8"/>
<rect x="394.40" y="174.20" width="8.60" height="3.30" fill="#f9d290"/>
<rect x="334.20" y="177.50" width="8.60" height="3.30" fill="#e8f3d8"/>
<rect x="342.80" y="177.50" width="51.60" height="3.30" fill="#f8f4c8"/>
<rect x="394.40" y="177.50" width="8.60" height="3.30" fill="#fbe8a6"/>
<rect x="334.20" y="180.80" width="25.80" height="3.40" fill="#e8f3d8"/>
<rect x="360.00" y="180.80" width="8.60" height="3.40" fill="#f8f4c8"/>
<rect x="368.60" y="180.80" width="17.20" height="3.40" fill="#d6ede4"/>
<rect x="385.80" y="180.80" width="17.20" height="3.40" fill="#f8f4c8"/>
<rect x="334.20" y="184.20" width="8.60" height="3.30" fill="#a8cee8"/>
<rect x="342.80" y="184.20" width="8.60" height="3.30" fill="#c0e0ea"/>
<rect x="351.40" y="184.20" width="8.60" height="3.30" fill="#d6ede4"/>
<rect x="360.00" y="184.20" width="25.80" height="3.30" fill="#e8f3d8"/>
<rect x="385.80" y="184.20" width="17.20" height="3.30" fill="#f8f4c8"/>
<rect x="334.20" y="187.50" width="25.80" height="3.30" fill="#d6ede4"/>
<rect x="360.00" y="187.50" width="8.60" height="3.30" fill="#e8f3d8"/>
<rect x="368.60" y="187.50" width="17.20" height="3.30" fill="#f9d290"/>
<rect x="385.80" y="187.50" width="17.20" height="3.30" fill="#f8f4c8"/>
<rect x="334.20" y="190.80" width="8.60" height="4.70" fill="#5684c8"/>
<rect x="342.80" y="190.80" width="17.20" height="4.70" fill="#a8cee8"/>
<rect x="360.00" y="190.80" width="8.60" height="4.70" fill="#c0e0ea"/>
<rect x="368.60" y="190.80" width="8.60" height="4.70" fill="#e8f3d8"/>
<rect x="377.20" y="190.80" width="25.80" height="4.70" fill="#f8f4c8"/>
<rect x="403.00" y="17.20" width="8.60" height="2.50" fill="#fbe8a6"/>
<rect x="411.60" y="17.20" width="8.60" height="2.50" fill="#f8f4c8"/>
<rect x="420.20" y="17.20" width="8.60" height="2.50" fill="#e8f3d8"/>
<rect x="428.80" y="17.20" width="8.60" height="2.50" fill="#5684c8"/>
<rect x="437.40" y="17.20" width="8.60" height="2.50" fill="#c0e0ea"/>
<rect x="446.00" y="17.20" width="25.80" height="2.50" fill="#4673bf"/>
<rect x="403.00" y="19.70" width="8.60" height="2.60" fill="#f8f4c8"/>
<rect x="411.60" y="19.70" width="8.60" height="2.60" fill="#fbe8a6"/>
<rect x="420.20" y="19.70" width="8.60" height="2.60" fill="#f8f4c8"/>
<rect x="428.80" y="19.70" width="17.20" height="2.60" fill="#c0e0ea"/>
<rect x="446.00" y="19.70" width="25.80" height="2.60" fill="#4673bf"/>
<rect x="403.00" y="22.30" width="34.40" height="4.00" fill="#f8f4c8"/>
<rect x="437.40" y="22.30" width="8.60" height="4.00" fill="#e8f3d8"/>
<rect x="446.00" y="22.30" width="25.80" height="4.00" fill="#4673bf"/>
<rect x="403.00" y="26.30" width="25.80" height="0.50" fill="#e8f3d8"/>
<rect x="428.80" y="26.30" width="8.60" height="0.50" fill="#f8f4c8"/>
<rect x="437.40" y="26.30" width="8.60" height="0.50" fill="#e8f3d8"/>
<rect x="446.00" y="26.30" width="8.60" height="0.50" fill="#4673bf"/>
<rect x="454.60" y="26.30" width="8.60" height="0.50" fill="#e8f3d8"/>
<rect x="463.20" y="26.30" width="8.60" height="0.50" fill="#4673bf"/>
<rect x="403.00" y="26.80" width="25.80" height="2.80" fill="#b83026"/>
<rect x="428.80" y="26.80" width="17.20" height="2.80" fill="#e8f3d8"/>
<rect x="446.00" y="26.80" width="8.60" height="2.80" fill="#4673bf"/>
<rect x="454.60" y="26.80" width="8.60" height="2.80" fill="#e8f3d8"/>
<rect x="463.20" y="26.80" width="8.60" height="2.80" fill="#4673bf"/>
<rect x="403.00" y="29.60" width="8.60" height="2.00" fill="#e8f3d8"/>
<rect x="411.60" y="29.60" width="8.60" height="2.00" fill="#f8f4c8"/>
<rect x="420.20" y="29.60" width="8.60" height="2.00" fill="#e8f3d8"/>
<rect x="428.80" y="29.60" width="17.20" height="2.00" fill="#c0e0ea"/>
<rect x="446.00" y="29.60" width="8.60" height="2.00" fill="#4673bf"/>
<rect x="454.60" y="29.60" width="8.60" height="2.00" fill="#e8f3d8"/>
<rect x="463.20" y="29.60" width="8.60" height="2.00" fill="#4673bf"/>
<rect x="403.00" y="31.60" width="8.60" height="2.60" fill="#e8f3d8"/>
<rect x="411.60" y="31.60" width="8.60" height="2.60" fill="#4673bf"/>
<rect x="420.20" y="31.60" width="8.60" height="2.60" fill="#d6ede4"/>
<rect x="428.80" y="31.60" width="8.60" height="2.60" fill="#4673bf"/>
<rect x="437.40" y="31.60" width="8.60" height="2.60" fill="#c0e0ea"/>
<rect x="446.00" y="31.60" width="17.20" height="2.60" fill="#4673bf"/>
<rect x="463.20" y="31.60" width="8.60" height="2.60" fill="#d6ede4"/>
<rect x="403.00" y="34.20" width="8.60" height="4.70" fill="#8cb6e0"/>
<rect x="411.60" y="34.20" width="60.20" height="4.70" fill="#4673bf"/>
<rect x="403.00" y="38.90" width="8.60" height="4.60" fill="#4673bf"/>
<rect x="411.60" y="38.90" width="8.60" height="4.60" fill="#f8f4c8"/>
<rect x="420.20" y="38.90" width="17.20" height="4.60" fill="#c0e0ea"/>
<rect x="437.40" y="38.90" width="34.40" height="4.60" fill="#4673bf"/>
<rect x="403.00" y="43.50" width="8.60" height="3.30" fill="#4673bf"/>
<rect x="411.60" y="43.50" width="8.60" height="3.30" fill="#f8f4c8"/>
<rect x="420.20" y="43.50" width="8.60" height="3.30" fill="#a8cee8"/>
<rect x="428.80" y="43.50" width="43.00" height="3.30" fill="#4673bf"/>
<rect x="403.00" y="46.80" width="8.60" height="3.40" fill="#5684c8"/>
<rect x="411.60" y="46.80" width="8.60" height="3.40" fill="#f8f4c8"/>
<rect x="420.20" y="46.80" width="8.60" height="3.40" fill="#4673bf"/>
<rect x="428.80" y="46.80" width="8.60" height="3.40" fill="#8cb6e0"/>
<rect x="437.40" y="46.80" width="8.60" height="3.40" fill="#4673bf"/>
<rect x="446.00" y="46.80" width="8.60" height="3.40" fill="#e8f3d8"/>
<rect x="454.60" y="46.80" width="17.20" height="3.40" fill="#4673bf"/>
<rect x="403.00" y="50.20" width="17.20" height="3.30" fill="#4673bf"/>
<rect x="420.20" y="50.20" width="8.60" height="3.30" fill="#e8f3d8"/>
<rect x="428.80" y="50.20" width="17.20" height="3.30" fill="#a8cee8"/>
<rect x="446.00" y="50.20" width="8.60" height="3.30" fill="#f8f4c8"/>
<rect x="454.60" y="50.20" width="17.20" height="3.30" fill="#4673bf"/>
<rect x="403.00" y="53.50" width="8.60" height="3.30" fill="#a8cee8"/>
<rect x="411.60" y="53.50" width="8.60" height="3.30" fill="#c0e0ea"/>
<rect x="420.20" y="53.50" width="8.60" height="3.30" fill="#fbe8a6"/>
<rect x="428.80" y="53.50" width="8.60" height="3.30" fill="#4673bf"/>
<rect x="437.40" y="53.50" width="8.60" height="3.30" fill="#c0e0ea"/>
<rect x="446.00" y="53.50" width="8.60" height="3.30" fill="#f8f4c8"/>
<rect x="454.60" y="53.50" width="17.20" height="3.30" fill="#4673bf"/>
<rect x="403.00" y="56.80" width="8.60" height="5.20" fill="#d6ede4"/>
<rect x="411.60" y="56.80" width="8.60" height="5.20" fill="#c0e0ea"/>
<rect x="420.20" y="56.80" width="8.60" height="5.20" fill="#f8f4c8"/>
<rect x="428.80" y="56.80" width="43.00" height="5.20" fill="#4673bf"/>
<rect x="403.00" y="62.00" width="17.20" height="2.60" fill="#c0e0ea"/>
<rect x="420.20" y="62.00" width="8.60" height="2.60" fill="#e8f3d8"/>
<rect x="428.80" y="62.00" width="8.60" height="2.60" fill="#6e9ad4"/>
<rect x="437.40" y="62.00" width="8.60" height="2.60" fill="#c0e0ea"/>
<rect x="446.00" y="62.00" width="8.60" height="2.60" fill="#f8f4c8"/>
<rect x="454.60" y="62.00" width="17.20" height="2.60" fill="#4673bf"/>
<rect x="403.00" y="64.60" width="8.60" height="4.00" fill="#c0e0ea"/>
<rect x="411.60" y="64.60" width="8.60" height="4.00" fill="#d6ede4"/>
<rect x="420.20" y="64.60" width="8.60" height="4.00" fill="#f8f4c8"/>
<rect x="428.80" y="64.60" width="8.60" height="4.00" fill="#8cb6e0"/>
<rect x="437.40" y="64.60" width="8.60" height="4.00" fill="#a8cee8"/>
<rect x="446.00" y="64.60" width="8.60" height="4.00" fill="#f8f4c8"/>
<rect x="454.60" y="64.60" width="17.20" height="4.00" fill="#4673bf"/>
<rect x="403.00" y="68.60" width="17.20" height="4.00" fill="#d6ede4"/>
<rect x="420.20" y="68.60" width="8.60" height="4.00" fill="#f8f4c8"/>
<rect x="428.80" y="68.60" width="8.60" height="4.00" fill="#a8cee8"/>
<rect x="437.40" y="68.60" width="8.60" height="4.00" fill="#c0e0ea"/>
<rect x="446.00" y="68.60" width="8.60" height="4.00" fill="#f8f4c8"/>
<rect x="454.60" y="68.60" width="17.20" height="4.00" fill="#4673bf"/>
<rect x="403.00" y="72.60" width="8.60" height="4.00" fill="#c0e0ea"/>
<rect x="411.60" y="72.60" width="8.60" height="4.00" fill="#5684c8"/>
<rect x="420.20" y="72.60" width="8.60" height="4.00" fill="#e8f3d8"/>
<rect x="428.80" y="72.60" width="8.60" height="4.00" fill="#a8cee8"/>
<rect x="437.40" y="72.60" width="8.60" height="4.00" fill="#d6ede4"/>
<rect x="446.00" y="72.60" width="8.60" height="4.00" fill="#f8f4c8"/>
<rect x="454.60" y="72.60" width="17.20" height="4.00" fill="#4673bf"/>
<rect x="403.00" y="76.60" width="8.60" height="3.30" fill="#c0e0ea"/>
<rect x="411.60" y="76.60" width="17.20" height="3.30" fill="#d6ede4"/>
<rect x="428.80" y="76.60" width="8.60" height="3.30" fill="#dc3828"/>
<rect x="437.40" y="76.60" width="8.60" height="3.30" fill="#4673bf"/>
<rect x="446.00" y="76.60" width="8.60" height="3.30" fill="#f8f4c8"/>
<rect x="454.60" y="76.60" width="17.20" height="3.30" fill="#4673bf"/>
<rect x="403.00" y="79.90" width="25.80" height="3.30" fill="#4673bf"/>
<rect x="428.80" y="79.90" width="8.60" height="3.30" fill="#8cb6e0"/>
<rect x="437.40" y="79.90" width="8.60" height="3.30" fill="#4673bf"/>
<rect x="446.00" y="79.90" width="8.60" height="3.30" fill="#c0e0ea"/>
<rect x="454.60" y="79.90" width="17.20" height="3.30" fill="#4673bf"/>
<rect x="403.00" y="83.20" width="25.80" height="2.70" fill="#fbe8a6"/>
<rect x="428.80" y="83.20" width="17.20" height="2.70" fill="#d6ede4"/>
<rect x="446.00" y="83.20" width="8.60" height="2.70" fill="#c0e0ea"/>
<rect x="454.60" y="83.20" width="8.60" height="2.70" fill="#e8f3d8"/>
<rect x="463.20" y="83.20" width="8.60" height="2.70" fill="#4673bf"/>
<rect x="403.00" y="85.90" width="25.80" height="2.60" fill="#f8f4c8"/>
<rect x="428.80" y="85.90" width="17.20" height="2.60" fill="#d6ede4"/>
<rect x="446.00" y="85.90" width="25.80" height="2.60" fill="#4673bf"/>
<rect x="403.00" y="88.50" width="8.60" height="3.30" fill="#fbe8a6"/>
<rect x="411.60" y="88.50" width="17.20" height="3.30" fill="#f8f4c8"/>
<rect x="428.80" y="88.50" width="8.60" height="3.30" fill="#e8f3d8"/>
<rect x="437.40" y="88.50" width="8.60" height="3.30" fill="#d6ede4"/>
<rect x="446.00" y="88.50" width="8.60" height="3.30" fill="#4673bf"/>
<rect x="454.60" y="88.50" width="8.60" height="3.30" fill="#d6ede4"/>
<rect x="463.20" y="88.50" width="8.60" height="3.30" fill="#4673bf"/>
<rect x="403.00" y="91.80" width="25.80" height="3.40" fill="#f8f4c8"/>
<rect x="428.80" y="91.80" width="8.60" height="3.40" fill="#e8f3d8"/>
<rect x="437.40" y="91.80" width="8.60" height="3.40" fill="#d6ede4"/>
<rect x="446.00" y="91.80" width="25.80" height="3.40" fill="#4673bf"/>
<rect x="403.00" y="95.20" width="8.60" height="3.30" fill="#e8f3d8"/>
<rect x="411.60" y="95.20" width="8.60" height="3.30" fill="#f8f4c8"/>
<rect x="420.20" y="95.20" width="8.60" height="3.30" fill="#fbe8a6"/>
<rect x="428.80" y="95.20" width="17.20" height="3.30" fill="#c0e0ea"/>
<rect x="446.00" y="95.20" width="25.80" height="3.30" fill="#4673bf"/>
<rect x="403.00" y="98.50" width="8.60" height="3.30" fill="#e8f3d8"/>
<rect x="411.60" y="98.50" width="17.20" height="3.30" fill="#f8f4c8"/>
<rect x="428.80" y="98.50" width="8.60" height="3.30" fill="#c0e0ea"/>
<rect x="437.40" y="98.50" width="34.40" height="3.30" fill="#4673bf"/>
<rect x="403.00" y="101.80" width="8.60" height="2.60" fill="#d6ede4"/>
<rect x="411.60" y="101.80" width="17.20" height="2.60" fill="#e8f3d8"/>
<rect x="428.80" y="101.80" width="8.60" height="2.60" fill="#a8cee8"/>
<rect x="437.40" y="101.80" width="34.40" height="2.60" fill="#4673bf"/>
<rect x="403.00" y="104.40" width="8.60" height="2.60" fill="#5684c8"/>
<rect x="411.60" y="104.40" width="17.20" height="2.60" fill="#e8f3d8"/>
<rect x="428.80" y="104.40" width="8.60" height="2.60" fill="#c0e0ea"/>
<rect x="437.40" y="104.40" width="34.40" height="2.60" fill="#4673bf"/>
<rect x="403.00" y="107.00" width="8.60" height="2.70" fill="#f8f4c8"/>
<rect x="411.60" y="107.00" width="8.60" height="2.70" fill="#e8f3d8"/>
<rect x="420.20" y="107.00" width="8.60" height="2.70" fill="#fbe8a6"/>
<rect x="428.80" y="107.00" width="17.20" height="2.70" fill="#f8f4c8"/>
<rect x="446.00" y="107.00" width="17.20" height="2.70" fill="#fbe8a6"/>
<rect x="463.20" y="107.00" width="8.60" height="2.70" fill="#f8f4c8"/>
<rect x="403.00" y="109.70" width="68.80" height="1.90" fill="#f8f4c8"/>
<rect x="403.00" y="111.60" width="43.00" height="2.00" fill="#f8f4c8"/>
<rect x="446.00" y="111.60" width="8.60" height="2.00" fill="#4673bf"/>
<rect x="454.60" y="111.60" width="17.20" height="2.00" fill="#f8f4c8"/>
<rect x="403.00" y="113.60" width="8.60" height="3.40" fill="#4673bf"/>
<rect x="411.60" y="113.60" width="8.60" height="3.40" fill="#c0e0ea"/>
<rect x="420.20" y="113.60" width="8.60" height="3.40" fill="#e8f3d8"/>
<rect x="428.80" y="113.60" width="17.20" height="3.40" fill="#f09462"/>
<rect x="446.00" y="113.60" width="25.80" height="3.40" fill="#e86a48"/>
<rect x="403.00" y="117.00" width="68.80" height="1.30" fill="#f8f4c8"/>
<rect x="403.00" y="118.30" width="17.20" height="3.30" fill="#f8f4c8"/>
<rect x="420.20" y="118.30" width="8.60" height="3.30" fill="#f9d290"/>
<rect x="428.80" y="118.30" width="17.20" height="3.30" fill="#dc3828"/>
<rect x="446.00" y="118.30" width="8.60" height="3.30" fill="#f6b47a"/>
<rect x="454.60" y="118.30" width="17.20" height="3.30" fill="#dc3828"/>
<rect x="403.00" y="121.60" width="8.60" height="1.30" fill="#f8f4c8"/>
<rect x="411.60" y="121.60" width="8.60" height="1.30" fill="#f9d290"/>
<rect x="420.20" y="121.60" width="8.60" height="1.30" fill="#f8f4c8"/>
<rect x="428.80" y="121.60" width="43.00" height="1.30" fill="#f09462"/>
<rect x="403.00" y="122.90" width="17.20" height="2.70" fill="#f8f4c8"/>
<rect x="420.20" y="122.90" width="8.60" height="2.70" fill="#f6b47a"/>
<rect x="428.80" y="122.90" width="43.00" height="2.70" fill="#dc3828"/>
<rect x="403.00" y="125.60" width="17.20" height="2.60" fill="#d6ede4"/>
<rect x="420.20" y="125.60" width="8.60" height="2.60" fill="#e8f3d8"/>
<rect x="428.80" y="125.60" width="43.00" height="2.60" fill="#f8f4c8"/>
<rect x="403.00" y="128.20" width="8.60" height="2.70" fill="#c0e0ea"/>
<rect x="411.60" y="128.20" width="8.60" height="2.70" fill="#a8cee8"/>
<rect x="420.20" y="128.20" width="8.60" height="2.70" fill="#d6ede4"/>
<rect x="428.80" y="128.20" width="25.80" height="2.70" fill="#f8f4c8"/>
<rect x="454.60" y="128.20" width="8.60" height="2.70" fill="#f09462"/>
<rect x="463.20" y="128.20" width="8.60" height="2.70" fill="#fbe8a6"/>
<rect x="403.00" y="130.90" width="8.60" height="2.60" fill="#8cb6e0"/>
<rect x="411.60" y="130.90" width="8.60" height="2.60" fill="#a8cee8"/>
<rect x="420.20" y="130.90" width="8.60" height="2.60" fill="#c0e0ea"/>
<rect x="428.80" y="130.90" width="17.20" height="2.60" fill="#f8f4c8"/>
<rect x="446.00" y="130.90" width="8.60" height="2.60" fill="#fbe8a6"/>
<rect x="454.60" y="130.90" width="17.20" height="2.60" fill="#f8f4c8"/>
<rect x="403.00" y="133.50" width="8.60" height="2.70" fill="#d6ede4"/>
<rect x="411.60" y="133.50" width="8.60" height="2.70" fill="#c0e0ea"/>
<rect x="420.20" y="133.50" width="8.60" height="2.70" fill="#8cb6e0"/>
<rect x="428.80" y="133.50" width="8.60" height="2.70" fill="#e8f3d8"/>
<rect x="437.40" y="133.50" width="34.40" height="2.70" fill="#f8f4c8"/>
<rect x="403.00" y="136.20" width="8.60" height="3.30" fill="#e8f3d8"/>
<rect x="411.60" y="136.20" width="17.20" height="3.30" fill="#d6ede4"/>
<rect x="428.80" y="136.20" width="43.00" height="3.30" fill="#f8f4c8"/>
<rect x="403.00" y="139.50" width="8.60" height="3.30" fill="#c0e0ea"/>
<rect x="411.60" y="139.50" width="17.20" height="3.30" fill="#d6ede4"/>
<rect x="428.80" y="139.50" width="8.60" height="3.30" fill="#f8f4c8"/>
<rect x="437.40" y="139.50" width="8.60" height="3.30" fill="#f6b47a"/>
<rect x="446.00" y="139.50" width="8.60" height="3.30" fill="#f09462"/>
<rect x="454.60" y="139.50" width="8.60" height="3.30" fill="#f6b47a"/>
<rect x="463.20" y="139.50" width="8.60" height="3.30" fill="#f8f4c8"/>
<rect x="403.00" y="142.80" width="25.80" height="3.30" fill="#d6ede4"/>
<rect x="428.80" y="142.80" width="43.00" height="3.30" fill="#f8f4c8"/>
<rect x="403.00" y="146.10" width="8.60" height="3.30" fill="#c0e0ea"/>
<rect x="411.60" y="146.10" width="8.60" height="3.30" fill="#a8cee8"/>
<rect x="420.20" y="146.10" width="8.60" height="3.30" fill="#d6ede4"/>
<rect x="428.80" y="146.10" width="43.00" height="3.30" fill="#f8f4c8"/>
<rect x="403.00" y="149.40" width="8.60" height="1.60" fill="#f8f4c8"/>
<rect x="411.60" y="149.40" width="8.60" height="1.60" fill="#d6ede4"/>
<rect x="420.20" y="149.40" width="8.60" height="1.60" fill="#e8f3d8"/>
<rect x="428.80" y="149.40" width="8.60" height="1.60" fill="#f6b47a"/>
<rect x="437.40" y="149.40" width="8.60" height="1.60" fill="#f8f4c8"/>
<rect x="446.00" y="149.40" width="25.80" height="1.60" fill="#e86a48"/>
<rect x="403.00" y="151.00" width="17.20" height="3.30" fill="#c0e0ea"/>
<rect x="420.20" y="151.00" width="8.60" height="3.30" fill="#5684c8"/>
<rect x="428.80" y="151.00" width="8.60" height="3.30" fill="#f8f4c8"/>
<rect x="437.40" y="151.00" width="8.60" height="3.30" fill="#f9d290"/>
<rect x="446.00" y="151.00" width="17.20" height="3.30" fill="#e86a48"/>
<rect x="463.20" y="151.00" width="8.60" height="3.30" fill="#dc3828"/>
<rect x="403.00" y="154.30" width="8.60" height="4.00" fill="#c0e0ea"/>
<rect x="411.60" y="154.30" width="8.60" height="4.00" fill="#d6ede4"/>
<rect x="420.20" y="154.30" width="8.60" height="4.00" fill="#e8f3d8"/>
<rect x="428.80" y="154.30" width="43.00" height="4.00" fill="#f8f4c8"/>
<rect x="403.00" y="158.30" width="25.80" height="4.00" fill="#d6ede4"/>
<rect x="428.80" y="158.30" width="8.60" height="4.00" fill="#f8f4c8"/>
<rect x="437.40" y="158.30" width="25.80" height="4.00" fill="#f6b47a"/>
<rect x="463.20" y="158.30" width="8.60" height="4.00" fill="#f8f4c8"/>
<rect x="403.00" y="162.30" width="17.20" height="3.30" fill="#e8f3d8"/>
<rect x="420.20" y="162.30" width="34.40" height="3.30" fill="#f8f4c8"/>
<rect x="454.60" y="162.30" width="8.60" height="3.30" fill="#e8f3d8"/>
<rect x="463.20" y="162.30" width="8.60" height="3.30" fill="#d6ede4"/>
<rect x="403.00" y="165.60" width="8.60" height="3.30" fill="#8cb6e0"/>
<rect x="411.60" y="165.60" width="8.60" height="3.30" fill="#c0e0ea"/>
<rect x="420.20" y="165.60" width="8.60" height="3.30" fill="#6e9ad4"/>
<rect x="428.80" y="165.60" width="8.60" height="3.30" fill="#a8cee8"/>
<rect x="437.40" y="165.60" width="8.60" height="3.30" fill="#c0e0ea"/>
<rect x="446.00" y="165.60" width="25.80" height="3.30" fill="#d6ede4"/>
<rect x="403.00" y="168.90" width="17.20" height="3.30" fill="#a8cee8"/>
<rect x="420.20" y="168.90" width="17.20" height="3.30" fill="#8cb6e0"/>
<rect x="437.40" y="168.90" width="25.80" height="3.30" fill="#d6ede4"/>
<rect x="463.20" y="168.90" width="8.60" height="3.30" fill="#f6b47a"/>
<rect x="403.00" y="172.20" width="8.60" height="2.70" fill="#c0e0ea"/>
<rect x="411.60" y="172.20" width="8.60" height="2.70" fill="#4673bf"/>
<rect x="420.20" y="172.20" width="8.60" height="2.70" fill="#c0e0ea"/>
<rect x="428.80" y="172.20" width="17.20" height="2.70" fill="#d6ede4"/>
<rect x="446.00" y="172.20" width="8.60" height="2.70" fill="#c0e0ea"/>
<rect x="454.60" y="172.20" width="8.60" height="2.70" fill="#5684c8"/>
<rect x="463.20" y="172.20" width="8.60" height="2.70" fill="#e8f3d8"/>
<rect x="403.00" y="174.90" width="8.60" height="3.30" fill="#c0e0ea"/>
<rect x="411.60" y="174.90" width="8.60" height="3.30" fill="#4673bf"/>
<rect x="420.20" y="174.90" width="8.60" height="3.30" fill="#c0e0ea"/>
<rect x="428.80" y="174.90" width="8.60" height="3.30" fill="#e8f3d8"/>
<rect x="437.40" y="174.90" width="8.60" height="3.30" fill="#f9d290"/>
<rect x="446.00" y="174.90" width="8.60" height="3.30" fill="#f8f4c8"/>
<rect x="454.60" y="174.90" width="8.60" height="3.30" fill="#f6b47a"/>
<rect x="463.20" y="174.90" width="8.60" height="3.30" fill="#f8f4c8"/>
<rect x="403.00" y="178.20" width="8.60" height="3.30" fill="#c0e0ea"/>
<rect x="411.60" y="178.20" width="8.60" height="3.30" fill="#4673bf"/>
<rect x="420.20" y="178.20" width="8.60" height="3.30" fill="#d6ede4"/>
<rect x="428.80" y="178.20" width="43.00" height="3.30" fill="#f8f4c8"/>
<rect x="403.00" y="181.50" width="8.60" height="2.70" fill="#a8cee8"/>
<rect x="411.60" y="181.50" width="8.60" height="2.70" fill="#4673bf"/>
<rect x="420.20" y="181.50" width="8.60" height="2.70" fill="#d6ede4"/>
<rect x="428.80" y="181.50" width="25.80" height="2.70" fill="#f8f4c8"/>
<rect x="454.60" y="181.50" width="8.60" height="2.70" fill="#f09462"/>
<rect x="463.20" y="181.50" width="8.60" height="2.70" fill="#f8f4c8"/>
<rect x="403.00" y="184.20" width="17.20" height="3.30" fill="#4673bf"/>
<rect x="420.20" y="184.20" width="8.60" height="3.30" fill="#c0e0ea"/>
<rect x="428.80" y="184.20" width="8.60" height="3.30" fill="#f8f4c8"/>
<rect x="437.40" y="184.20" width="8.60" height="3.30" fill="#fbe8a6"/>
<rect x="446.00" y="184.20" width="25.80" height="3.30" fill="#f8f4c8"/>
<rect x="403.00" y="187.50" width="17.20" height="3.30" fill="#4673bf"/>
<rect x="420.20" y="187.50" width="8.60" height="3.30" fill="#a8cee8"/>
<rect x="428.80" y="187.50" width="17.20" height="3.30" fill="#e8f3d8"/>
<rect x="446.00" y="187.50" width="25.80" height="3.30" fill="#f8f4c8"/>
<rect x="403.00" y="190.80" width="17.20" height="4.70" fill="#4673bf"/>
<rect x="420.20" y="190.80" width="8.60" height="4.70" fill="#c0e0ea"/>
<rect x="428.80" y="190.80" width="8.60" height="4.70" fill="#d6ede4"/>
<rect x="437.40" y="190.80" width="17.20" height="4.70" fill="#c0e0ea"/>
<rect x="454.60" y="190.80" width="8.60" height="4.70" fill="#a8cee8"/>
<rect x="463.20" y="190.80" width="8.60" height="4.70" fill="#8cb6e0"/>
</g>
<g filter="url(#bl)" shape-rendering="crispEdges">
<rect x="35.60" y="245.50" width="205.20" height="180.00" fill="#f8f4c8"/>
<rect x="35.60" y="245.50" width="29.31" height="4.50" fill="#f8f4c8"/>
<rect x="64.91" y="245.50" width="9.77" height="4.50" fill="#fbe8a6"/>
<rect x="74.69" y="245.50" width="29.31" height="4.50" fill="#f8f4c8"/>
<rect x="35.60" y="250.00" width="58.63" height="5.50" fill="#f8f4c8"/>
<rect x="94.23" y="250.00" width="9.77" height="5.50" fill="#e8f3d8"/>
<rect x="35.60" y="255.50" width="19.54" height="3.90" fill="#e8f3d8"/>
<rect x="55.14" y="255.50" width="48.86" height="3.90" fill="#f8f4c8"/>
<rect x="35.60" y="263.30" width="39.09" height="3.90" fill="#d6ede4"/>
<rect x="74.69" y="263.30" width="29.31" height="3.90" fill="#e8f3d8"/>
<rect x="35.60" y="267.20" width="58.63" height="3.90" fill="#f8f4c8"/>
<rect x="94.23" y="267.20" width="9.77" height="3.90" fill="#fbe8a6"/>
<rect x="35.60" y="271.10" width="58.63" height="5.30" fill="#f8f4c8"/>
<rect x="94.23" y="271.10" width="9.77" height="5.30" fill="#e8f3d8"/>
<rect x="35.60" y="276.40" width="29.31" height="4.60" fill="#e8f3d8"/>
<rect x="64.91" y="276.40" width="19.54" height="4.60" fill="#d6ede4"/>
<rect x="84.46" y="276.40" width="19.54" height="4.60" fill="#f8f4c8"/>
<rect x="35.60" y="281.00" width="58.63" height="3.20" fill="#f8f4c8"/>
<rect x="94.23" y="281.00" width="9.77" height="3.20" fill="#fbe8a6"/>
<rect x="35.60" y="284.20" width="29.31" height="5.80" fill="#fbe8a6"/>
<rect x="64.91" y="284.20" width="9.77" height="5.80" fill="#f9d290"/>
<rect x="74.69" y="284.20" width="9.77" height="5.80" fill="#fbe8a6"/>
<rect x="84.46" y="284.20" width="9.77" height="5.80" fill="#f6b47a"/>
<rect x="94.23" y="284.20" width="9.77" height="5.80" fill="#fbe8a6"/>
<rect x="35.60" y="290.00" width="39.09" height="4.00" fill="#fbe8a6"/>
<rect x="74.69" y="290.00" width="29.31" height="4.00" fill="#f8f4c8"/>
<rect x="35.60" y="294.00" width="39.09" height="3.80" fill="#f8f4c8"/>
<rect x="74.69" y="294.00" width="29.31" height="3.80" fill="#e8f3d8"/>
<rect x="35.60" y="303.00" width="68.40" height="4.00" fill="#e8f3d8"/>
<rect x="35.60" y="307.00" width="19.54" height="4.60" fill="#f8f4c8"/>
<rect x="55.14" y="307.00" width="9.77" height="4.60" fill="#fbe8a6"/>
<rect x="64.91" y="307.00" width="39.09" height="4.60" fill="#f8f4c8"/>
<rect x="35.60" y="311.60" width="58.63" height="3.90" fill="#e8f3d8"/>
<rect x="94.23" y="311.60" width="9.77" height="3.90" fill="#d6ede4"/>
<rect x="35.60" y="315.50" width="68.40" height="2.00" fill="#fbe8a6"/>
<rect x="35.60" y="317.50" width="9.77" height="3.90" fill="#fbe8a6"/>
<rect x="45.37" y="317.50" width="19.54" height="3.90" fill="#f6b47a"/>
<rect x="64.91" y="317.50" width="19.54" height="3.90" fill="#fbe8a6"/>
<rect x="84.46" y="317.50" width="19.54" height="3.90" fill="#f6b47a"/>
<rect x="35.60" y="321.40" width="9.77" height="3.20" fill="#f8f4c8"/>
<rect x="45.37" y="321.40" width="9.77" height="3.20" fill="#fbe8a6"/>
<rect x="55.14" y="321.40" width="9.77" height="3.20" fill="#f9d290"/>
<rect x="64.91" y="321.40" width="39.09" height="3.20" fill="#f8f4c8"/>
<rect x="35.60" y="324.60" width="29.31" height="4.60" fill="#e8f3d8"/>
<rect x="64.91" y="324.60" width="39.09" height="4.60" fill="#d6ede4"/>
<rect x="35.60" y="329.20" width="9.77" height="5.80" fill="#e8f3d8"/>
<rect x="45.37" y="329.20" width="9.77" height="5.80" fill="#f8f4c8"/>
<rect x="55.14" y="329.20" width="9.77" height="5.80" fill="#e8f3d8"/>
<rect x="64.91" y="329.20" width="9.77" height="5.80" fill="#f8f4c8"/>
<rect x="74.69" y="329.20" width="29.31" height="5.80" fill="#d6ede4"/>
<rect x="35.60" y="335.00" width="39.09" height="5.20" fill="#f8f4c8"/>
<rect x="74.69" y="335.00" width="9.77" height="5.20" fill="#d6ede4"/>
<rect x="84.46" y="335.00" width="9.77" height="5.20" fill="#8cb6e0"/>
<rect x="94.23" y="335.00" width="9.77" height="5.20" fill="#c0e0ea"/>
<rect x="35.60" y="340.20" width="9.77" height="7.20" fill="#f8f4c8"/>
<rect x="45.37" y="340.20" width="9.77" height="7.20" fill="#f9d290"/>
<rect x="55.14" y="340.20" width="9.77" height="7.20" fill="#fbe8a6"/>
<rect x="64.91" y="340.20" width="39.09" height="7.20" fill="#f8f4c8"/>
<rect x="35.60" y="347.40" width="68.40" height="4.60" fill="#e8f3d8"/>
<rect x="35.60" y="352.00" width="29.31" height="5.90" fill="#c0e0ea"/>
<rect x="64.91" y="352.00" width="29.31" height="5.90" fill="#d6ede4"/>
<rect x="94.23" y="352.00" width="9.77" height="5.90" fill="#c0e0ea"/>
<rect x="35.60" y="357.90" width="68.40" height="2.60" fill="#e8f3d8"/>
<rect x="35.60" y="360.50" width="9.77" height="7.20" fill="#fbe8a6"/>
<rect x="45.37" y="360.50" width="9.77" height="7.20" fill="#6e9ad4"/>
<rect x="55.14" y="360.50" width="29.31" height="7.20" fill="#d6ede4"/>
<rect x="84.46" y="360.50" width="19.54" height="7.20" fill="#f8f4c8"/>
<rect x="35.60" y="367.70" width="29.31" height="3.90" fill="#c0e0ea"/>
<rect x="64.91" y="367.70" width="19.54" height="3.90" fill="#a8cee8"/>
<rect x="84.46" y="367.70" width="9.77" height="3.90" fill="#8cb6e0"/>
<rect x="94.23" y="367.70" width="9.77" height="3.90" fill="#a8cee8"/>
<rect x="35.60" y="371.60" width="19.54" height="3.90" fill="#d6ede4"/>
<rect x="55.14" y="371.60" width="9.77" height="3.90" fill="#c0e0ea"/>
<rect x="64.91" y="371.60" width="19.54" height="3.90" fill="#8cb6e0"/>
<rect x="84.46" y="371.60" width="19.54" height="3.90" fill="#6e9ad4"/>
<rect x="35.60" y="375.50" width="19.54" height="4.50" fill="#d6ede4"/>
<rect x="55.14" y="375.50" width="9.77" height="4.50" fill="#c0e0ea"/>
<rect x="64.91" y="375.50" width="9.77" height="4.50" fill="#a8cee8"/>
<rect x="74.69" y="375.50" width="19.54" height="4.50" fill="#8cb6e0"/>
<rect x="94.23" y="375.50" width="9.77" height="4.50" fill="#a8cee8"/>
<rect x="35.60" y="380.00" width="9.77" height="3.30" fill="#d6ede4"/>
<rect x="45.37" y="380.00" width="19.54" height="3.30" fill="#e8f3d8"/>
<rect x="64.91" y="380.00" width="9.77" height="3.30" fill="#d6ede4"/>
<rect x="74.69" y="380.00" width="9.77" height="3.30" fill="#c0e0ea"/>
<rect x="84.46" y="380.00" width="19.54" height="3.30" fill="#d6ede4"/>
<rect x="35.60" y="383.30" width="9.77" height="2.60" fill="#c0e0ea"/>
<rect x="45.37" y="383.30" width="19.54" height="2.60" fill="#a8cee8"/>
<rect x="64.91" y="383.30" width="39.09" height="2.60" fill="#c0e0ea"/>
<rect x="35.60" y="385.90" width="9.77" height="3.90" fill="#c0e0ea"/>
<rect x="45.37" y="385.90" width="19.54" height="3.90" fill="#8cb6e0"/>
<rect x="64.91" y="385.90" width="19.54" height="3.90" fill="#c0e0ea"/>
<rect x="84.46" y="385.90" width="9.77" height="3.90" fill="#a8cee8"/>
<rect x="94.23" y="385.90" width="9.77" height="3.90" fill="#fbe8a6"/>
<rect x="35.60" y="389.80" width="9.77" height="3.20" fill="#e8f3d8"/>
<rect x="45.37" y="389.80" width="9.77" height="3.20" fill="#f8f4c8"/>
<rect x="55.14" y="389.80" width="9.77" height="3.20" fill="#e8f3d8"/>
<rect x="64.91" y="389.80" width="9.77" height="3.20" fill="#f8f4c8"/>
<rect x="74.69" y="389.80" width="9.77" height="3.20" fill="#e8f3d8"/>
<rect x="84.46" y="389.80" width="19.54" height="3.20" fill="#f8f4c8"/>
<rect x="35.60" y="393.00" width="39.09" height="7.00" fill="#4673bf"/>
<rect x="74.69" y="393.00" width="9.77" height="7.00" fill="#c0e0ea"/>
<rect x="84.46" y="393.00" width="19.54" height="7.00" fill="#4673bf"/>
<rect x="35.60" y="400.00" width="39.09" height="6.00" fill="#4673bf"/>
<rect x="74.69" y="400.00" width="9.77" height="6.00" fill="#f8f4c8"/>
<rect x="84.46" y="400.00" width="19.54" height="6.00" fill="#4673bf"/>
<rect x="35.60" y="406.00" width="39.09" height="4.00" fill="#4673bf"/>
<rect x="74.69" y="406.00" width="9.77" height="4.00" fill="#c0e0ea"/>
<rect x="84.46" y="406.00" width="19.54" height="4.00" fill="#4673bf"/>
<rect x="35.60" y="410.00" width="39.09" height="6.60" fill="#4673bf"/>
<rect x="74.69" y="410.00" width="9.77" height="6.60" fill="#e8f3d8"/>
<rect x="84.46" y="410.00" width="19.54" height="6.60" fill="#4673bf"/>
<rect x="35.60" y="416.60" width="9.77" height="5.20" fill="#6e9ad4"/>
<rect x="45.37" y="416.60" width="29.31" height="5.20" fill="#4673bf"/>
<rect x="74.69" y="416.60" width="9.77" height="5.20" fill="#c0e0ea"/>
<rect x="84.46" y="416.60" width="9.77" height="5.20" fill="#4673bf"/>
<rect x="94.23" y="416.60" width="9.77" height="5.20" fill="#6e9ad4"/>
<rect x="35.60" y="421.80" width="39.09" height="3.70" fill="#4673bf"/>
<rect x="74.69" y="421.80" width="9.77" height="3.70" fill="#c0e0ea"/>
<rect x="84.46" y="421.80" width="19.54" height="3.70" fill="#4673bf"/>
<rect x="104.00" y="245.50" width="29.31" height="3.50" fill="#f8f4c8"/>
<rect x="133.31" y="245.50" width="9.77" height="3.50" fill="#f6b47a"/>
<rect x="143.09" y="245.50" width="29.31" height="3.50" fill="#f8f4c8"/>
<rect x="104.00" y="249.00" width="9.77" height="4.00" fill="#d6ede4"/>
<rect x="113.77" y="249.00" width="58.63" height="4.00" fill="#f8f4c8"/>
<rect x="104.00" y="253.00" width="9.77" height="3.30" fill="#f8f4c8"/>
<rect x="113.77" y="253.00" width="19.54" height="3.30" fill="#d6ede4"/>
<rect x="133.31" y="253.00" width="39.09" height="3.30" fill="#f8f4c8"/>
<rect x="104.00" y="256.30" width="9.77" height="4.00" fill="#e8f3d8"/>
<rect x="113.77" y="256.30" width="39.09" height="4.00" fill="#f8f4c8"/>
<rect x="152.86" y="256.30" width="9.77" height="4.00" fill="#8cb6e0"/>
<rect x="162.63" y="256.30" width="9.77" height="4.00" fill="#f8f4c8"/>
<rect x="104.00" y="260.30" width="48.86" height="3.30" fill="#f8f4c8"/>
<rect x="152.86" y="260.30" width="9.77" height="3.30" fill="#c0e0ea"/>
<rect x="162.63" y="260.30" width="9.77" height="3.30" fill="#f8f4c8"/>
<rect x="104.00" y="263.60" width="9.77" height="3.90" fill="#f8f4c8"/>
<rect x="113.77" y="263.60" width="9.77" height="3.90" fill="#8cb6e0"/>
<rect x="123.54" y="263.60" width="9.77" height="3.90" fill="#e8f3d8"/>
<rect x="133.31" y="263.60" width="9.77" height="3.90" fill="#d6ede4"/>
<rect x="143.09" y="263.60" width="9.77" height="3.90" fill="#e8f3d8"/>
<rect x="152.86" y="263.60" width="19.54" height="3.90" fill="#f8f4c8"/>
<rect x="104.00" y="267.50" width="9.77" height="6.00" fill="#f8f4c8"/>
<rect x="113.77" y="267.50" width="9.77" height="6.00" fill="#fbe8a6"/>
<rect x="123.54" y="267.50" width="29.31" height="6.00" fill="#f8f4c8"/>
<rect x="152.86" y="267.50" width="9.77" height="6.00" fill="#e8f3d8"/>
<rect x="162.63" y="267.50" width="9.77" height="6.00" fill="#f8f4c8"/>
<rect x="104.00" y="273.50" width="19.54" height="3.30" fill="#f8f4c8"/>
<rect x="123.54" y="273.50" width="9.77" height="3.30" fill="#d6ede4"/>
<rect x="133.31" y="273.50" width="9.77" height="3.30" fill="#f8f4c8"/>
<rect x="143.09" y="273.50" width="9.77" height="3.30" fill="#c0e0ea"/>
<rect x="152.86" y="273.50" width="9.77" height="3.30" fill="#d6ede4"/>
<rect x="162.63" y="273.50" width="9.77" height="3.30" fill="#f8f4c8"/>
<rect x="104.00" y="276.80" width="9.77" height="4.70" fill="#f8f4c8"/>
<rect x="113.77" y="276.80" width="9.77" height="4.70" fill="#8cb6e0"/>
<rect x="123.54" y="276.80" width="9.77" height="4.70" fill="#e8f3d8"/>
<rect x="133.31" y="276.80" width="9.77" height="4.70" fill="#f8f4c8"/>
<rect x="143.09" y="276.80" width="9.77" height="4.70" fill="#d6ede4"/>
<rect x="152.86" y="276.80" width="19.54" height="4.70" fill="#f8f4c8"/>
<rect x="104.00" y="281.50" width="9.77" height="4.00" fill="#f8f4c8"/>
<rect x="113.77" y="281.50" width="9.77" height="4.00" fill="#e8f3d8"/>
<rect x="123.54" y="281.50" width="48.86" height="4.00" fill="#f8f4c8"/>
<rect x="104.00" y="285.50" width="9.77" height="4.50" fill="#f8f4c8"/>
<rect x="113.77" y="285.50" width="9.77" height="4.50" fill="#fbe8a6"/>
<rect x="123.54" y="285.50" width="29.31" height="4.50" fill="#f8f4c8"/>
<rect x="152.86" y="285.50" width="9.77" height="4.50" fill="#fbe8a6"/>
<rect x="162.63" y="285.50" width="9.77" height="4.50" fill="#f8f4c8"/>
<rect x="104.00" y="290.00" width="39.09" height="4.60" fill="#f8f4c8"/>
<rect x="143.09" y="290.00" width="19.54" height="4.60" fill="#d6ede4"/>
<rect x="162.63" y="290.00" width="9.77" height="4.60" fill="#f8f4c8"/>
<rect x="104.00" y="294.60" width="39.09" height="8.70" fill="#f8f4c8"/>
<rect x="143.09" y="294.60" width="19.54" height="8.70" fill="#e8f3d8"/>
<rect x="162.63" y="294.60" width="9.77" height="8.70" fill="#f8f4c8"/>
<rect x="104.00" y="303.30" width="58.63" height="4.70" fill="#f8f4c8"/>
<rect x="162.63" y="303.30" width="9.77" height="4.70" fill="#fbe8a6"/>
<rect x="104.00" y="308.00" width="9.77" height="3.90" fill="#f8f4c8"/>
<rect x="113.77" y="308.00" width="9.77" height="3.90" fill="#fbe8a6"/>
<rect x="123.54" y="308.00" width="19.54" height="3.90" fill="#f9d290"/>
<rect x="143.09" y="308.00" width="19.54" height="3.90" fill="#f8f4c8"/>
<rect x="162.63" y="308.00" width="9.77" height="3.90" fill="#f6b47a"/>
<rect x="104.00" y="311.90" width="9.77" height="4.60" fill="#f9d290"/>
<rect x="113.77" y="311.90" width="29.31" height="4.60" fill="#f6b47a"/>
<rect x="143.09" y="311.90" width="9.77" height="4.60" fill="#f9d290"/>
<rect x="152.86" y="311.90" width="9.77" height="4.60" fill="#fbe8a6"/>
<rect x="162.63" y="311.90" width="9.77" height="4.60" fill="#f09462"/>
<rect x="104.00" y="316.50" width="19.54" height="4.70" fill="#f8f4c8"/>
<rect x="123.54" y="316.50" width="9.77" height="4.70" fill="#f6b47a"/>
<rect x="133.31" y="316.50" width="9.77" height="4.70" fill="#f9d290"/>
<rect x="143.09" y="316.50" width="19.54" height="4.70" fill="#f8f4c8"/>
<rect x="162.63" y="316.50" width="9.77" height="4.70" fill="#f9d290"/>
<rect x="104.00" y="321.20" width="19.54" height="3.90" fill="#f8f4c8"/>
<rect x="123.54" y="321.20" width="9.77" height="3.90" fill="#f9d290"/>
<rect x="133.31" y="321.20" width="9.77" height="3.90" fill="#fbe8a6"/>
<rect x="143.09" y="321.20" width="19.54" height="3.90" fill="#f8f4c8"/>
<rect x="162.63" y="321.20" width="9.77" height="3.90" fill="#fbe8a6"/>
<rect x="104.00" y="325.10" width="9.77" height="9.90" fill="#e8f3d8"/>
<rect x="113.77" y="325.10" width="29.31" height="9.90" fill="#f8f4c8"/>
<rect x="143.09" y="325.10" width="19.54" height="9.90" fill="#e8f3d8"/>
<rect x="162.63" y="325.10" width="9.77" height="9.90" fill="#f8f4c8"/>
<rect x="104.00" y="335.00" width="9.77" height="4.60" fill="#f8f4c8"/>
<rect x="113.77" y="335.00" width="29.31" height="4.60" fill="#fbe8a6"/>
<rect x="143.09" y="335.00" width="29.31" height="4.60" fill="#f8f4c8"/>
<rect x="104.00" y="339.60" width="68.40" height="3.40" fill="#e8f3d8"/>
<rect x="104.00" y="343.00" width="9.77" height="4.00" fill="#d6ede4"/>
<rect x="113.77" y="343.00" width="19.54" height="4.00" fill="#e8f3d8"/>
<rect x="133.31" y="343.00" width="19.54" height="4.00" fill="#a8cee8"/>
<rect x="152.86" y="343.00" width="19.54" height="4.00" fill="#d6ede4"/>
<rect x="104.00" y="347.00" width="9.77" height="4.00" fill="#c0e0ea"/>
<rect x="113.77" y="347.00" width="58.63" height="4.00" fill="#e8f3d8"/>
<rect x="104.00" y="351.00" width="48.86" height="3.20" fill="#f8f4c8"/>
<rect x="152.86" y="351.00" width="19.54" height="3.20" fill="#d6ede4"/>
<rect x="104.00" y="354.20" width="39.09" height="4.00" fill="#c0e0ea"/>
<rect x="143.09" y="354.20" width="9.77" height="4.00" fill="#d6ede4"/>
<rect x="152.86" y="354.20" width="9.77" height="4.00" fill="#c0e0ea"/>
<rect x="162.63" y="354.20" width="9.77" height="4.00" fill="#d6ede4"/>
<rect x="104.00" y="358.20" width="68.40" height="2.70" fill="#e8f3d8"/>
<rect x="104.00" y="360.90" width="9.77" height="5.90" fill="#fbe8a6"/>
<rect x="113.77" y="360.90" width="9.77" height="5.90" fill="#6e9ad4"/>
<rect x="123.54" y="360.90" width="9.77" height="5.90" fill="#d6ede4"/>
<rect x="133.31" y="360.90" width="9.77" height="5.90" fill="#e8f3d8"/>
<rect x="143.09" y="360.90" width="9.77" height="5.90" fill="#8cb6e0"/>
<rect x="152.86" y="360.90" width="19.54" height="5.90" fill="#f8f4c8"/>
<rect x="104.00" y="366.80" width="68.40" height="2.00" fill="#f8f4c8"/>
<rect x="104.00" y="368.80" width="9.77" height="4.70" fill="#a8cee8"/>
<rect x="113.77" y="368.80" width="9.77" height="4.70" fill="#c0e0ea"/>
<rect x="123.54" y="368.80" width="19.54" height="4.70" fill="#a8cee8"/>
<rect x="143.09" y="368.80" width="9.77" height="4.70" fill="#c0e0ea"/>
<rect x="152.86" y="368.80" width="9.77" height="4.70" fill="#6e9ad4"/>
<rect x="162.63" y="368.80" width="9.77" height="4.70" fill="#a8cee8"/>
<rect x="104.00" y="373.50" width="19.54" height="6.50" fill="#c0e0ea"/>
<rect x="123.54" y="373.50" width="19.54" height="6.50" fill="#a8cee8"/>
<rect x="143.09" y="373.50" width="9.77" height="6.50" fill="#8cb6e0"/>
<rect x="152.86" y="373.50" width="9.77" height="6.50" fill="#a8cee8"/>
<rect x="162.63" y="373.50" width="9.77" height="6.50" fill="#c0e0ea"/>
<rect x="104.00" y="380.00" width="9.77" height="3.30" fill="#c0e0ea"/>
<rect x="113.77" y="380.00" width="9.77" height="3.30" fill="#a8cee8"/>
<rect x="123.54" y="380.00" width="9.77" height="3.30" fill="#c0e0ea"/>
<rect x="133.31" y="380.00" width="19.54" height="3.30" fill="#d6ede4"/>
<rect x="152.86" y="380.00" width="9.77" height="3.30" fill="#c0e0ea"/>
<rect x="162.63" y="380.00" width="9.77" height="3.30" fill="#d6ede4"/>
<rect x="104.00" y="383.30" width="9.77" height="4.00" fill="#c0e0ea"/>
<rect x="113.77" y="383.30" width="9.77" height="4.00" fill="#8cb6e0"/>
<rect x="123.54" y="383.30" width="9.77" height="4.00" fill="#c0e0ea"/>
<rect x="133.31" y="383.30" width="19.54" height="4.00" fill="#d6ede4"/>
<rect x="152.86" y="383.30" width="19.54" height="4.00" fill="#c0e0ea"/>
<rect x="104.00" y="387.30" width="9.77" height="2.70" fill="#c0e0ea"/>
<rect x="113.77" y="387.30" width="9.77" height="2.70" fill="#8cb6e0"/>
<rect x="123.54" y="387.30" width="9.77" height="2.70" fill="#c0e0ea"/>
<rect x="133.31" y="387.30" width="29.31" height="2.70" fill="#d6ede4"/>
<rect x="162.63" y="387.30" width="9.77" height="2.70" fill="#fbe8a6"/>
<rect x="104.00" y="390.00" width="19.54" height="3.30" fill="#c0e0ea"/>
<rect x="123.54" y="390.00" width="9.77" height="3.30" fill="#5684c8"/>
<rect x="133.31" y="390.00" width="9.77" height="3.30" fill="#a8cee8"/>
<rect x="143.09" y="390.00" width="29.31" height="3.30" fill="#c0e0ea"/>
<rect x="104.00" y="393.30" width="48.86" height="11.70" fill="#4673bf"/>
<rect x="152.86" y="393.30" width="9.77" height="11.70" fill="#a8cee8"/>
<rect x="162.63" y="393.30" width="9.77" height="11.70" fill="#4673bf"/>
<rect x="104.00" y="405.00" width="48.86" height="4.00" fill="#4673bf"/>
<rect x="152.86" y="405.00" width="9.77" height="4.00" fill="#5684c8"/>
<rect x="162.63" y="405.00" width="9.77" height="4.00" fill="#4673bf"/>
<rect x="104.00" y="409.00" width="48.86" height="5.00" fill="#4673bf"/>
<rect x="152.86" y="409.00" width="9.77" height="5.00" fill="#c0e0ea"/>
<rect x="162.63" y="409.00" width="9.77" height="5.00" fill="#a8cee8"/>
<rect x="104.00" y="414.00" width="48.86" height="4.50" fill="#4673bf"/>
<rect x="152.86" y="414.00" width="9.77" height="4.50" fill="#c0e0ea"/>
<rect x="162.63" y="414.00" width="9.77" height="4.50" fill="#4673bf"/>
<rect x="104.00" y="418.50" width="39.09" height="3.90" fill="#a8cee8"/>
<rect x="143.09" y="418.50" width="9.77" height="3.90" fill="#4673bf"/>
<rect x="152.86" y="418.50" width="19.54" height="3.90" fill="#a8cee8"/>
<rect x="104.00" y="422.40" width="48.86" height="3.10" fill="#4673bf"/>
<rect x="152.86" y="422.40" width="19.54" height="3.10" fill="#8cb6e0"/>
<rect x="172.40" y="245.50" width="9.77" height="2.80" fill="#6e9ad4"/>
<rect x="182.17" y="245.50" width="9.77" height="2.80" fill="#4673bf"/>
<rect x="191.94" y="245.50" width="9.77" height="2.80" fill="#d6ede4"/>
<rect x="201.71" y="245.50" width="29.31" height="2.80" fill="#e8f3d8"/>
<rect x="231.03" y="245.50" width="9.77" height="2.80" fill="#a8cee8"/>
<rect x="172.40" y="248.30" width="9.77" height="4.00" fill="#5684c8"/>
<rect x="182.17" y="248.30" width="9.77" height="4.00" fill="#d6ede4"/>
<rect x="191.94" y="248.30" width="29.31" height="4.00" fill="#c0e0ea"/>
<rect x="221.26" y="248.30" width="9.77" height="4.00" fill="#e8f3d8"/>
<rect x="231.03" y="248.30" width="9.77" height="4.00" fill="#d6ede4"/>
<rect x="172.40" y="252.30" width="9.77" height="5.30" fill="#d6ede4"/>
<rect x="182.17" y="252.30" width="19.54" height="5.30" fill="#e8f3d8"/>
<rect x="201.71" y="252.30" width="9.77" height="5.30" fill="#d6ede4"/>
<rect x="211.49" y="252.30" width="29.31" height="5.30" fill="#e8f3d8"/>
<rect x="172.40" y="257.60" width="9.77" height="2.70" fill="#e8f3d8"/>
<rect x="182.17" y="257.60" width="9.77" height="2.70" fill="#d6ede4"/>
<rect x="191.94" y="257.60" width="19.54" height="2.70" fill="#e8f3d8"/>
<rect x="211.49" y="257.60" width="19.54" height="2.70" fill="#d6ede4"/>
<rect x="231.03" y="257.60" width="9.77" height="2.70" fill="#e8f3d8"/>
<rect x="172.40" y="260.30" width="9.77" height="3.30" fill="#c0e0ea"/>
<rect x="182.17" y="260.30" width="19.54" height="3.30" fill="#a8cee8"/>
<rect x="201.71" y="260.30" width="19.54" height="3.30" fill="#d6ede4"/>
<rect x="221.26" y="260.30" width="9.77" height="3.30" fill="#8cb6e0"/>
<rect x="231.03" y="260.30" width="9.77" height="3.30" fill="#d6ede4"/>
<rect x="172.40" y="263.60" width="19.54" height="3.40" fill="#e8f3d8"/>
<rect x="191.94" y="263.60" width="19.54" height="3.40" fill="#d6ede4"/>
<rect x="211.49" y="263.60" width="9.77" height="3.40" fill="#e8f3d8"/>
<rect x="221.26" y="263.60" width="9.77" height="3.40" fill="#c0e0ea"/>
<rect x="231.03" y="263.60" width="9.77" height="3.40" fill="#d6ede4"/>
<rect x="172.40" y="267.00" width="9.77" height="3.90" fill="#8cb6e0"/>
<rect x="182.17" y="267.00" width="19.54" height="3.90" fill="#a8cee8"/>
<rect x="201.71" y="267.00" width="9.77" height="3.90" fill="#d6ede4"/>
<rect x="211.49" y="267.00" width="9.77" height="3.90" fill="#c0e0ea"/>
<rect x="221.26" y="267.00" width="9.77" height="3.90" fill="#8cb6e0"/>
<rect x="231.03" y="267.00" width="9.77" height="3.90" fill="#d6ede4"/>
<rect x="172.40" y="270.90" width="9.77" height="3.30" fill="#d6ede4"/>
<rect x="182.17" y="270.90" width="9.77" height="3.30" fill="#e8f3d8"/>
<rect x="191.94" y="270.90" width="9.77" height="3.30" fill="#8cb6e0"/>
<rect x="201.71" y="270.90" width="9.77" height="3.30" fill="#d6ede4"/>
<rect x="211.49" y="270.90" width="29.31" height="3.30" fill="#c0e0ea"/>
<rect x="172.40" y="274.20" width="9.77" height="3.30" fill="#8cb6e0"/>
<rect x="182.17" y="274.20" width="39.09" height="3.30" fill="#c0e0ea"/>
<rect x="221.26" y="274.20" width="9.77" height="3.30" fill="#a8cee8"/>
<rect x="231.03" y="274.20" width="9.77" height="3.30" fill="#c0e0ea"/>
<rect x="172.40" y="277.50" width="9.77" height="4.00" fill="#6e9ad4"/>
<rect x="182.17" y="277.50" width="19.54" height="4.00" fill="#c0e0ea"/>
<rect x="201.71" y="277.50" width="19.54" height="4.00" fill="#a8cee8"/>
<rect x="221.26" y="277.50" width="9.77" height="4.00" fill="#8cb6e0"/>
<rect x="231.03" y="277.50" width="9.77" height="4.00" fill="#c0e0ea"/>
<rect x="172.40" y="281.50" width="29.31" height="3.30" fill="#e8f3d8"/>
<rect x="201.71" y="281.50" width="9.77" height="3.30" fill="#f8f4c8"/>
<rect x="211.49" y="281.50" width="9.77" height="3.30" fill="#e8f3d8"/>
<rect x="221.26" y="281.50" width="9.77" height="3.30" fill="#f8f4c8"/>
<rect x="231.03" y="281.50" width="9.77" height="3.30" fill="#e8f3d8"/>
<rect x="172.40" y="284.80" width="19.54" height="5.20" fill="#e8f3d8"/>
<rect x="191.94" y="284.80" width="9.77" height="5.20" fill="#d6ede4"/>
<rect x="201.71" y="284.80" width="9.77" height="5.20" fill="#c0e0ea"/>
<rect x="211.49" y="284.80" width="9.77" height="5.20" fill="#e8f3d8"/>
<rect x="221.26" y="284.80" width="9.77" height="5.20" fill="#f8f4c8"/>
<rect x="231.03" y="284.80" width="9.77" height="5.20" fill="#e8f3d8"/>
<rect x="172.40" y="290.00" width="19.54" height="3.30" fill="#e8f3d8"/>
<rect x="191.94" y="290.00" width="19.54" height="3.30" fill="#f8f4c8"/>
<rect x="211.49" y="290.00" width="9.77" height="3.30" fill="#e8f3d8"/>
<rect x="221.26" y="290.00" width="19.54" height="3.30" fill="#f8f4c8"/>
<rect x="172.40" y="293.30" width="9.77" height="6.00" fill="#8cb6e0"/>
<rect x="182.17" y="293.30" width="19.54" height="6.00" fill="#d6ede4"/>
<rect x="201.71" y="293.30" width="9.77" height="6.00" fill="#e8f3d8"/>
<rect x="211.49" y="293.30" width="19.54" height="6.00" fill="#d6ede4"/>
<rect x="231.03" y="293.30" width="9.77" height="6.00" fill="#e8f3d8"/>
<rect x="172.40" y="299.30" width="9.77" height="4.00" fill="#d6ede4"/>
<rect x="182.17" y="299.30" width="9.77" height="4.00" fill="#e8f3d8"/>
<rect x="191.94" y="299.30" width="19.54" height="4.00" fill="#f8f4c8"/>
<rect x="211.49" y="299.30" width="19.54" height="4.00" fill="#c0e0ea"/>
<rect x="231.03" y="299.30" width="9.77" height="4.00" fill="#e8f3d8"/>
<rect x="172.40" y="303.30" width="19.54" height="3.90" fill="#e8f3d8"/>
<rect x="191.94" y="303.30" width="9.77" height="3.90" fill="#d6ede4"/>
<rect x="201.71" y="303.30" width="9.77" height="3.90" fill="#e8f3d8"/>
<rect x="211.49" y="303.30" width="9.77" height="3.90" fill="#d6ede4"/>
<rect x="221.26" y="303.30" width="19.54" height="3.90" fill="#e8f3d8"/>
<rect x="172.40" y="307.20" width="9.77" height="6.70" fill="#a8cee8"/>
<rect x="182.17" y="307.20" width="9.77" height="6.70" fill="#d6ede4"/>
<rect x="191.94" y="307.20" width="19.54" height="6.70" fill="#e8f3d8"/>
<rect x="211.49" y="307.20" width="29.31" height="6.70" fill="#f8f4c8"/>
<rect x="172.40" y="313.90" width="29.31" height="4.00" fill="#f8f4c8"/>
<rect x="201.71" y="313.90" width="9.77" height="4.00" fill="#fbe8a6"/>
<rect x="211.49" y="313.90" width="29.31" height="4.00" fill="#f8f4c8"/>
<rect x="172.40" y="317.90" width="9.77" height="5.30" fill="#f8f4c8"/>
<rect x="182.17" y="317.90" width="9.77" height="5.30" fill="#fbe8a6"/>
<rect x="191.94" y="317.90" width="19.54" height="5.30" fill="#f6b47a"/>
<rect x="211.49" y="317.90" width="9.77" height="5.30" fill="#f9d290"/>
<rect x="221.26" y="317.90" width="9.77" height="5.30" fill="#f8f4c8"/>
<rect x="231.03" y="317.90" width="9.77" height="5.30" fill="#fbe8a6"/>
<rect x="172.40" y="323.20" width="9.77" height="3.90" fill="#d6ede4"/>
<rect x="182.17" y="323.20" width="9.77" height="3.90" fill="#e8f3d8"/>
<rect x="191.94" y="323.20" width="29.31" height="3.90" fill="#f8f4c8"/>
<rect x="221.26" y="323.20" width="9.77" height="3.90" fill="#e8f3d8"/>
<rect x="231.03" y="323.20" width="9.77" height="3.90" fill="#f8f4c8"/>
<rect x="172.40" y="327.10" width="9.77" height="7.90" fill="#d6ede4"/>
<rect x="182.17" y="327.10" width="9.77" height="7.90" fill="#e8f3d8"/>
<rect x="191.94" y="327.10" width="19.54" height="7.90" fill="#f8f4c8"/>
<rect x="211.49" y="327.10" width="19.54" height="7.90" fill="#e8f3d8"/>
<rect x="231.03" y="327.10" width="9.77" height="7.90" fill="#f8f4c8"/>
<rect x="172.40" y="335.00" width="9.77" height="4.00" fill="#f8f4c8"/>
<rect x="182.17" y="335.00" width="9.77" height="4.00" fill="#e8f3d8"/>
<rect x="191.94" y="335.00" width="48.86" height="4.00" fill="#f8f4c8"/>
<rect x="172.40" y="345.60" width="9.77" height="4.70" fill="#f8f4c8"/>
<rect x="182.17" y="345.60" width="19.54" height="4.70" fill="#fbe8a6"/>
<rect x="201.71" y="345.60" width="9.77" height="4.70" fill="#f9d290"/>
<rect x="211.49" y="345.60" width="9.77" height="4.70" fill="#fbe8a6"/>
<rect x="221.26" y="345.60" width="19.54" height="4.70" fill="#f8f4c8"/>
<rect x="172.40" y="350.30" width="19.54" height="3.30" fill="#f8f4c8"/>
<rect x="191.94" y="350.30" width="9.77" height="3.30" fill="#fbe8a6"/>
<rect x="201.71" y="350.30" width="39.09" height="3.30" fill="#f8f4c8"/>
<rect x="172.40" y="353.60" width="48.86" height="6.60" fill="#f8f4c8"/>
<rect x="221.26" y="353.60" width="9.77" height="6.60" fill="#e8f3d8"/>
<rect x="231.03" y="353.60" width="9.77" height="6.60" fill="#f8f4c8"/>
<rect x="172.40" y="360.20" width="9.77" height="6.60" fill="#d6ede4"/>
<rect x="182.17" y="360.20" width="19.54" height="6.60" fill="#a8cee8"/>
<rect x="201.71" y="360.20" width="9.77" height="6.60" fill="#d6ede4"/>
<rect x="211.49" y="360.20" width="9.77" height="6.60" fill="#c0e0ea"/>
<rect x="221.26" y="360.20" width="9.77" height="6.60" fill="#e8f3d8"/>
<rect x="231.03" y="360.20" width="9.77" height="6.60" fill="#d6ede4"/>
<rect x="172.40" y="366.80" width="39.09" height="4.00" fill="#f8f4c8"/>
<rect x="211.49" y="366.80" width="9.77" height="4.00" fill="#e8f3d8"/>
<rect x="221.26" y="366.80" width="19.54" height="4.00" fill="#f8f4c8"/>
<rect x="172.40" y="370.80" width="9.77" height="9.20" fill="#e8f3d8"/>
<rect x="182.17" y="370.80" width="29.31" height="9.20" fill="#f8f4c8"/>
<rect x="211.49" y="370.80" width="9.77" height="9.20" fill="#c0e0ea"/>
<rect x="221.26" y="370.80" width="9.77" height="9.20" fill="#e8f3d8"/>
<rect x="231.03" y="370.80" width="9.77" height="9.20" fill="#f8f4c8"/>
<rect x="172.40" y="380.00" width="19.54" height="6.00" fill="#f8f4c8"/>
<rect x="191.94" y="380.00" width="9.77" height="6.00" fill="#fbe8a6"/>
<rect x="201.71" y="380.00" width="9.77" height="6.00" fill="#f8f4c8"/>
<rect x="211.49" y="380.00" width="9.77" height="6.00" fill="#e8f3d8"/>
<rect x="221.26" y="380.00" width="9.77" height="6.00" fill="#f8f4c8"/>
<rect x="231.03" y="380.00" width="9.77" height="6.00" fill="#fbe8a6"/>
<rect x="172.40" y="386.00" width="58.63" height="3.30" fill="#a8cee8"/>
<rect x="231.03" y="386.00" width="9.77" height="3.30" fill="#c0e0ea"/>
<rect x="172.40" y="389.30" width="9.77" height="4.00" fill="#8cb6e0"/>
<rect x="182.17" y="389.30" width="19.54" height="4.00" fill="#4673bf"/>
<rect x="201.71" y="389.30" width="9.77" height="4.00" fill="#8cb6e0"/>
<rect x="211.49" y="389.30" width="19.54" height="4.00" fill="#4673bf"/>
<rect x="231.03" y="389.30" width="9.77" height="4.00" fill="#a8cee8"/>
<rect x="172.40" y="393.30" width="19.54" height="3.30" fill="#a8cee8"/>
<rect x="191.94" y="393.30" width="9.77" height="3.30" fill="#d6ede4"/>
<rect x="201.71" y="393.30" width="9.77" height="3.30" fill="#8cb6e0"/>
<rect x="211.49" y="393.30" width="9.77" height="3.30" fill="#e8f3d8"/>
<rect x="221.26" y="393.30" width="9.77" height="3.30" fill="#f8f4c8"/>
<rect x="231.03" y="393.30" width="9.77" height="3.30" fill="#f9d290"/>
<rect x="172.40" y="396.60" width="9.77" height="4.00" fill="#a8cee8"/>
<rect x="182.17" y="396.60" width="9.77" height="4.00" fill="#8cb6e0"/>
<rect x="191.94" y="396.60" width="9.77" height="4.00" fill="#d6ede4"/>
<rect x="201.71" y="396.60" width="9.77" height="4.00" fill="#8cb6e0"/>
<rect x="211.49" y="396.60" width="29.31" height="4.00" fill="#f8f4c8"/>
<rect x="172.40" y="400.60" width="9.77" height="3.90" fill="#8cb6e0"/>
<rect x="182.17" y="400.60" width="9.77" height="3.90" fill="#a8cee8"/>
<rect x="191.94" y="400.60" width="9.77" height="3.90" fill="#d6ede4"/>
<rect x="201.71" y="400.60" width="9.77" height="3.90" fill="#8cb6e0"/>
<rect x="211.49" y="400.60" width="19.54" height="3.90" fill="#f8f4c8"/>
<rect x="231.03" y="400.60" width="9.77" height="3.90" fill="#f9d290"/>
<rect x="172.40" y="404.50" width="9.77" height="4.00" fill="#a8cee8"/>
<rect x="182.17" y="404.50" width="9.77" height="4.00" fill="#6e9ad4"/>
<rect x="191.94" y="404.50" width="9.77" height="4.00" fill="#d6ede4"/>
<rect x="201.71" y="404.50" width="9.77" height="4.00" fill="#8cb6e0"/>
<rect x="211.49" y="404.50" width="29.31" height="4.00" fill="#f8f4c8"/>
<rect x="172.40" y="408.50" width="19.54" height="3.30" fill="#c0e0ea"/>
<rect x="191.94" y="408.50" width="9.77" height="3.30" fill="#d6ede4"/>
<rect x="201.71" y="408.50" width="9.77" height="3.30" fill="#a8cee8"/>
<rect x="211.49" y="408.50" width="9.77" height="3.30" fill="#e8f3d8"/>
<rect x="221.26" y="408.50" width="9.77" height="3.30" fill="#f8f4c8"/>
<rect x="231.03" y="408.50" width="9.77" height="3.30" fill="#fbe8a6"/>
<rect x="172.40" y="411.80" width="9.77" height="4.00" fill="#c0e0ea"/>
<rect x="182.17" y="411.80" width="9.77" height="4.00" fill="#d6ede4"/>
<rect x="191.94" y="411.80" width="9.77" height="4.00" fill="#e8f3d8"/>
<rect x="201.71" y="411.80" width="9.77" height="4.00" fill="#a8cee8"/>
<rect x="211.49" y="411.80" width="9.77" height="4.00" fill="#f09462"/>
<rect x="221.26" y="411.80" width="9.77" height="4.00" fill="#f9d290"/>
<rect x="231.03" y="411.80" width="9.77" height="4.00" fill="#f09462"/>
<rect x="172.40" y="415.80" width="9.77" height="4.00" fill="#d6ede4"/>
<rect x="182.17" y="415.80" width="9.77" height="4.00" fill="#e8f3d8"/>
<rect x="191.94" y="415.80" width="9.77" height="4.00" fill="#f8f4c8"/>
<rect x="201.71" y="415.80" width="9.77" height="4.00" fill="#a8cee8"/>
<rect x="211.49" y="415.80" width="19.54" height="4.00" fill="#f8f4c8"/>
<rect x="231.03" y="415.80" width="9.77" height="4.00" fill="#f9d290"/>
<rect x="172.40" y="419.80" width="39.09" height="2.60" fill="#c0e0ea"/>
<rect x="211.49" y="419.80" width="19.54" height="2.60" fill="#f8f4c8"/>
<rect x="231.03" y="419.80" width="9.77" height="2.60" fill="#fbe8a6"/>
<rect x="172.40" y="422.40" width="9.77" height="3.10" fill="#6e9ad4"/>
<rect x="182.17" y="422.40" width="19.54" height="3.10" fill="#5684c8"/>
<rect x="201.71" y="422.40" width="9.77" height="3.10" fill="#d6ede4"/>
<rect x="211.49" y="422.40" width="29.31" height="3.10" fill="#f8f4c8"/>
<rect x="172.40" y="245.50" width="9.77" height="3.70" fill="#6e9ad4"/>
<rect x="182.17" y="245.50" width="9.77" height="3.70" fill="#4673bf"/>
<rect x="191.94" y="245.50" width="9.77" height="3.70" fill="#c0e0ea"/>
<rect x="201.71" y="245.50" width="29.31" height="3.70" fill="#d6ede4"/>
<rect x="231.03" y="245.50" width="9.77" height="3.70" fill="#a8cee8"/>
<rect x="172.40" y="249.20" width="9.77" height="3.50" fill="#5684c8"/>
<rect x="182.17" y="249.20" width="9.77" height="3.50" fill="#c0e0ea"/>
<rect x="191.94" y="249.20" width="29.31" height="3.50" fill="#a8cee8"/>
<rect x="221.26" y="249.20" width="19.54" height="3.50" fill="#c0e0ea"/>
<rect x="172.40" y="252.70" width="9.77" height="4.20" fill="#c0e0ea"/>
<rect x="182.17" y="252.70" width="9.77" height="4.20" fill="#d6ede4"/>
<rect x="191.94" y="252.70" width="19.54" height="4.20" fill="#c0e0ea"/>
<rect x="211.49" y="252.70" width="19.54" height="4.20" fill="#d6ede4"/>
<rect x="231.03" y="252.70" width="9.77" height="4.20" fill="#c0e0ea"/>
<rect x="172.40" y="256.90" width="9.77" height="3.50" fill="#c0e0ea"/>
<rect x="182.17" y="256.90" width="48.86" height="3.50" fill="#d6ede4"/>
<rect x="231.03" y="256.90" width="9.77" height="3.50" fill="#c0e0ea"/>
<rect x="172.40" y="260.40" width="19.54" height="3.40" fill="#c0e0ea"/>
<rect x="191.94" y="260.40" width="9.77" height="3.40" fill="#a8cee8"/>
<rect x="201.71" y="260.40" width="9.77" height="3.40" fill="#c0e0ea"/>
<rect x="211.49" y="260.40" width="9.77" height="3.40" fill="#d6ede4"/>
<rect x="221.26" y="260.40" width="9.77" height="3.40" fill="#8cb6e0"/>
<rect x="231.03" y="260.40" width="9.77" height="3.40" fill="#c0e0ea"/>
<rect x="172.40" y="263.80" width="48.86" height="3.50" fill="#d6ede4"/>
<rect x="221.26" y="263.80" width="9.77" height="3.50" fill="#a8cee8"/>
<rect x="231.03" y="263.80" width="9.77" height="3.50" fill="#c0e0ea"/>
<rect x="172.40" y="267.30" width="9.77" height="3.50" fill="#8cb6e0"/>
<rect x="182.17" y="267.30" width="19.54" height="3.50" fill="#a8cee8"/>
<rect x="201.71" y="267.30" width="19.54" height="3.50" fill="#c0e0ea"/>
<rect x="221.26" y="267.30" width="9.77" height="3.50" fill="#8cb6e0"/>
<rect x="231.03" y="267.30" width="9.77" height="3.50" fill="#c0e0ea"/>
<rect x="172.40" y="270.80" width="9.77" height="3.40" fill="#c0e0ea"/>
<rect x="182.17" y="270.80" width="9.77" height="3.40" fill="#d6ede4"/>
<rect x="191.94" y="270.80" width="9.77" height="3.40" fill="#8cb6e0"/>
<rect x="201.71" y="270.80" width="29.31" height="3.40" fill="#c0e0ea"/>
<rect x="231.03" y="270.80" width="9.77" height="3.40" fill="#a8cee8"/>
<rect x="172.40" y="274.20" width="9.77" height="3.50" fill="#8cb6e0"/>
<rect x="182.17" y="274.20" width="9.77" height="3.50" fill="#a8cee8"/>
<rect x="191.94" y="274.20" width="19.54" height="3.50" fill="#c0e0ea"/>
<rect x="211.49" y="274.20" width="29.31" height="3.50" fill="#a8cee8"/>
<rect x="172.40" y="277.70" width="9.77" height="3.50" fill="#6e9ad4"/>
<rect x="182.17" y="277.70" width="39.09" height="3.50" fill="#a8cee8"/>
<rect x="221.26" y="277.70" width="9.77" height="3.50" fill="#8cb6e0"/>
<rect x="231.03" y="277.70" width="9.77" height="3.50" fill="#a8cee8"/>
<rect x="172.40" y="281.20" width="29.31" height="3.40" fill="#d6ede4"/>
<rect x="201.71" y="281.20" width="9.77" height="3.40" fill="#e8f3d8"/>
<rect x="211.49" y="281.20" width="29.31" height="3.40" fill="#d6ede4"/>
<rect x="172.40" y="284.60" width="9.77" height="5.40" fill="#d6ede4"/>
<rect x="182.17" y="284.60" width="9.77" height="5.40" fill="#e8f3d8"/>
<rect x="191.94" y="284.60" width="9.77" height="5.40" fill="#c0e0ea"/>
<rect x="201.71" y="284.60" width="9.77" height="5.40" fill="#a8cee8"/>
<rect x="211.49" y="284.60" width="9.77" height="5.40" fill="#d6ede4"/>
<rect x="221.26" y="284.60" width="19.54" height="5.40" fill="#e8f3d8"/>
</g>
<g filter="url(#bl)" shape-rendering="crispEdges">
<rect x="267.70" y="245.00" width="204.80" height="179.30" fill="#f8f4c8"/>
<rect x="267.70" y="245.00" width="68.27" height="4.00" fill="#f8f4c8"/>
<rect x="267.70" y="249.00" width="11.38" height="4.00" fill="#f8f4c8"/>
<rect x="279.08" y="249.00" width="11.38" height="4.00" fill="#e8f3d8"/>
<rect x="290.46" y="249.00" width="11.38" height="4.00" fill="#f8f4c8"/>
<rect x="301.83" y="249.00" width="22.76" height="4.00" fill="#e8f3d8"/>
<rect x="324.59" y="249.00" width="11.38" height="4.00" fill="#f8f4c8"/>
<rect x="267.70" y="253.00" width="45.51" height="4.00" fill="#f8f4c8"/>
<rect x="313.21" y="253.00" width="11.38" height="4.00" fill="#e8f3d8"/>
<rect x="324.59" y="253.00" width="11.38" height="4.00" fill="#f8f4c8"/>
<rect x="267.70" y="257.00" width="11.38" height="5.20" fill="#f9d290"/>
<rect x="279.08" y="257.00" width="11.38" height="5.20" fill="#fbe8a6"/>
<rect x="290.46" y="257.00" width="11.38" height="5.20" fill="#f9d290"/>
<rect x="301.83" y="257.00" width="11.38" height="5.20" fill="#fbe8a6"/>
<rect x="313.21" y="257.00" width="11.38" height="5.20" fill="#f8f4c8"/>
<rect x="324.59" y="257.00" width="11.38" height="5.20" fill="#fbe8a6"/>
<rect x="267.70" y="262.20" width="11.38" height="5.30" fill="#f9d290"/>
<rect x="279.08" y="262.20" width="22.76" height="5.30" fill="#fbe8a6"/>
<rect x="301.83" y="262.20" width="11.38" height="5.30" fill="#f9d290"/>
<rect x="313.21" y="262.20" width="11.38" height="5.30" fill="#f6b47a"/>
<rect x="324.59" y="262.20" width="11.38" height="5.30" fill="#f9d290"/>
<rect x="267.70" y="267.50" width="11.38" height="4.00" fill="#f8f4c8"/>
<rect x="279.08" y="267.50" width="22.76" height="4.00" fill="#fbe8a6"/>
<rect x="301.83" y="267.50" width="11.38" height="4.00" fill="#f8f4c8"/>
<rect x="313.21" y="267.50" width="22.76" height="4.00" fill="#fbe8a6"/>
<rect x="267.70" y="271.50" width="34.13" height="5.30" fill="#f8f4c8"/>
<rect x="301.83" y="271.50" width="11.38" height="5.30" fill="#e8f3d8"/>
<rect x="313.21" y="271.50" width="22.76" height="5.30" fill="#f8f4c8"/>
<rect x="267.70" y="276.80" width="34.13" height="5.30" fill="#f8f4c8"/>
<rect x="301.83" y="276.80" width="11.38" height="5.30" fill="#d6ede4"/>
<rect x="313.21" y="276.80" width="22.76" height="5.30" fill="#f8f4c8"/>
<rect x="267.70" y="282.10" width="45.51" height="4.00" fill="#f8f4c8"/>
<rect x="313.21" y="282.10" width="11.38" height="4.00" fill="#e8f3d8"/>
<rect x="324.59" y="282.10" width="11.38" height="4.00" fill="#d6ede4"/>
<rect x="267.70" y="286.10" width="22.76" height="3.90" fill="#fbe8a6"/>
<rect x="290.46" y="286.10" width="11.38" height="3.90" fill="#f9d290"/>
<rect x="301.83" y="286.10" width="34.13" height="3.90" fill="#fbe8a6"/>
<rect x="267.70" y="290.00" width="22.76" height="5.30" fill="#fbe8a6"/>
<rect x="290.46" y="290.00" width="11.38" height="5.30" fill="#f9d290"/>
<rect x="301.83" y="290.00" width="34.13" height="5.30" fill="#fbe8a6"/>
<rect x="267.70" y="295.30" width="11.38" height="5.30" fill="#fbe8a6"/>
<rect x="279.08" y="295.30" width="34.13" height="5.30" fill="#f8f4c8"/>
<rect x="313.21" y="295.30" width="11.38" height="5.30" fill="#e8f3d8"/>
<rect x="324.59" y="295.30" width="11.38" height="5.30" fill="#f8f4c8"/>
<rect x="267.70" y="300.60" width="45.51" height="4.00" fill="#fbe8a6"/>
<rect x="313.21" y="300.60" width="11.38" height="4.00" fill="#f8f4c8"/>
<rect x="324.59" y="300.60" width="11.38" height="4.00" fill="#fbe8a6"/>
<rect x="267.70" y="304.60" width="34.13" height="4.00" fill="#f9d290"/>
<rect x="301.83" y="304.60" width="34.13" height="4.00" fill="#f6b47a"/>
<rect x="267.70" y="308.60" width="11.38" height="4.60" fill="#f9d290"/>
<rect x="279.08" y="308.60" width="11.38" height="4.60" fill="#fbe8a6"/>
<rect x="290.46" y="308.60" width="11.38" height="4.60" fill="#f9d290"/>
<rect x="301.83" y="308.60" width="11.38" height="4.60" fill="#f6b47a"/>
<rect x="313.21" y="308.60" width="11.38" height="4.60" fill="#f9d290"/>
<rect x="324.59" y="308.60" width="11.38" height="4.60" fill="#f6b47a"/>
<rect x="267.70" y="313.20" width="22.76" height="4.70" fill="#f9d290"/>
<rect x="290.46" y="313.20" width="45.51" height="4.70" fill="#f6b47a"/>
<rect x="267.70" y="317.90" width="22.76" height="3.90" fill="#f9d290"/>
<rect x="290.46" y="317.90" width="11.38" height="3.90" fill="#f6b47a"/>
<rect x="301.83" y="317.90" width="34.13" height="3.90" fill="#f9d290"/>
<rect x="267.70" y="321.80" width="22.76" height="4.70" fill="#fbe8a6"/>
<rect x="290.46" y="321.80" width="11.38" height="4.70" fill="#f8f4c8"/>
<rect x="301.83" y="321.80" width="11.38" height="4.70" fill="#f6b47a"/>
<rect x="313.21" y="321.80" width="11.38" height="4.70" fill="#f9d290"/>
<rect x="324.59" y="321.80" width="11.38" height="4.70" fill="#f6b47a"/>
<rect x="267.70" y="326.50" width="34.13" height="3.30" fill="#f8f4c8"/>
<rect x="301.83" y="326.50" width="11.38" height="3.30" fill="#fbe8a6"/>
<rect x="313.21" y="326.50" width="22.76" height="3.30" fill="#f8f4c8"/>
<rect x="267.70" y="329.80" width="68.27" height="5.20" fill="#c0e0ea"/>
<rect x="267.70" y="335.00" width="22.76" height="4.00" fill="#c0e0ea"/>
<rect x="290.46" y="335.00" width="11.38" height="4.00" fill="#a8cee8"/>
<rect x="301.83" y="335.00" width="11.38" height="4.00" fill="#c0e0ea"/>
<rect x="313.21" y="335.00" width="22.76" height="4.00" fill="#d6ede4"/>
<rect x="267.70" y="339.00" width="11.38" height="8.60" fill="#a8cee8"/>
<rect x="279.08" y="339.00" width="11.38" height="8.60" fill="#8cb6e0"/>
<rect x="290.46" y="339.00" width="11.38" height="8.60" fill="#e8f3d8"/>
<rect x="301.83" y="339.00" width="11.38" height="8.60" fill="#8cb6e0"/>
<rect x="313.21" y="339.00" width="22.76" height="8.60" fill="#e8f3d8"/>
<rect x="267.70" y="347.60" width="11.38" height="4.60" fill="#c0e0ea"/>
<rect x="279.08" y="347.60" width="11.38" height="4.60" fill="#a8cee8"/>
<rect x="290.46" y="347.60" width="11.38" height="4.60" fill="#f8f4c8"/>
<rect x="301.83" y="347.60" width="11.38" height="4.60" fill="#a8cee8"/>
<rect x="313.21" y="347.60" width="22.76" height="4.60" fill="#f8f4c8"/>
<rect x="267.70" y="352.20" width="11.38" height="9.30" fill="#e8f3d8"/>
<rect x="279.08" y="352.20" width="11.38" height="9.30" fill="#f8f4c8"/>
<rect x="290.46" y="352.20" width="22.76" height="9.30" fill="#e8f3d8"/>
<rect x="313.21" y="352.20" width="22.76" height="9.30" fill="#f8f4c8"/>
<rect x="267.70" y="361.50" width="11.38" height="6.70" fill="#e8f3d8"/>
<rect x="279.08" y="361.50" width="22.76" height="6.70" fill="#f8f4c8"/>
<rect x="301.83" y="361.50" width="22.76" height="6.70" fill="#e8f3d8"/>
<rect x="324.59" y="361.50" width="11.38" height="6.70" fill="#a8cee8"/>
<rect x="267.70" y="368.20" width="11.38" height="11.80" fill="#e8f3d8"/>
<rect x="279.08" y="368.20" width="22.76" height="11.80" fill="#f8f4c8"/>
<rect x="301.83" y="368.20" width="34.13" height="11.80" fill="#e8f3d8"/>
<rect x="267.70" y="380.00" width="22.76" height="2.70" fill="#f8f4c8"/>
<rect x="290.46" y="380.00" width="11.38" height="2.70" fill="#e8f3d8"/>
<rect x="301.83" y="380.00" width="11.38" height="2.70" fill="#d6ede4"/>
<rect x="313.21" y="380.00" width="22.76" height="2.70" fill="#f8f4c8"/>
<rect x="267.70" y="382.70" width="68.27" height="3.90" fill="#fbe8a6"/>
<rect x="267.70" y="386.60" width="11.38" height="4.00" fill="#fbe8a6"/>
<rect x="279.08" y="386.60" width="11.38" height="4.00" fill="#f6b47a"/>
<rect x="290.46" y="386.60" width="11.38" height="4.00" fill="#fbe8a6"/>
<rect x="301.83" y="386.60" width="11.38" height="4.00" fill="#f9d290"/>
<rect x="313.21" y="386.60" width="22.76" height="4.00" fill="#fbe8a6"/>
<rect x="267.70" y="390.60" width="34.13" height="4.00" fill="#f8f4c8"/>
<rect x="301.83" y="390.60" width="11.38" height="4.00" fill="#fbe8a6"/>
<rect x="313.21" y="390.60" width="11.38" height="4.00" fill="#f9d290"/>
<rect x="324.59" y="390.60" width="11.38" height="4.00" fill="#fbe8a6"/>
<rect x="267.70" y="394.60" width="11.38" height="5.30" fill="#e8f3d8"/>
<rect x="279.08" y="394.60" width="11.38" height="5.30" fill="#f8f4c8"/>
<rect x="290.46" y="394.60" width="11.38" height="5.30" fill="#e8f3d8"/>
<rect x="301.83" y="394.60" width="11.38" height="5.30" fill="#f8f4c8"/>
<rect x="313.21" y="394.60" width="11.38" height="5.30" fill="#f9d290"/>
<rect x="324.59" y="394.60" width="11.38" height="5.30" fill="#fbe8a6"/>
<rect x="267.70" y="399.90" width="11.38" height="4.00" fill="#f8f4c8"/>
<rect x="279.08" y="399.90" width="11.38" height="4.00" fill="#fbe8a6"/>
<rect x="290.46" y="399.90" width="22.76" height="4.00" fill="#f8f4c8"/>
<rect x="313.21" y="399.90" width="11.38" height="4.00" fill="#fbe8a6"/>
<rect x="324.59" y="399.90" width="11.38" height="4.00" fill="#f8f4c8"/>
<rect x="267.70" y="403.90" width="34.13" height="9.30" fill="#f8f4c8"/>
<rect x="301.83" y="403.90" width="11.38" height="9.30" fill="#f6b47a"/>
<rect x="313.21" y="403.90" width="11.38" height="9.30" fill="#fbe8a6"/>
<rect x="324.59" y="403.90" width="11.38" height="9.30" fill="#f9d290"/>
<rect x="267.70" y="413.20" width="22.76" height="3.90" fill="#f8f4c8"/>
<rect x="290.46" y="413.20" width="34.13" height="3.90" fill="#fbe8a6"/>
<rect x="324.59" y="413.20" width="11.38" height="3.90" fill="#f8f4c8"/>
<rect x="267.70" y="417.10" width="11.38" height="4.00" fill="#4673bf"/>
<rect x="279.08" y="417.10" width="11.38" height="4.00" fill="#8cb6e0"/>
<rect x="290.46" y="417.10" width="11.38" height="4.00" fill="#a8cee8"/>
<rect x="301.83" y="417.10" width="11.38" height="4.00" fill="#5684c8"/>
<rect x="313.21" y="417.10" width="22.76" height="4.00" fill="#a8cee8"/>
<rect x="267.70" y="421.10" width="11.38" height="3.20" fill="#8cb6e0"/>
<rect x="279.08" y="421.10" width="11.38" height="3.20" fill="#a8cee8"/>
<rect x="290.46" y="421.10" width="11.38" height="3.20" fill="#c0e0ea"/>
<rect x="301.83" y="421.10" width="11.38" height="3.20" fill="#8cb6e0"/>
<rect x="313.21" y="421.10" width="11.38" height="3.20" fill="#c0e0ea"/>
<rect x="324.59" y="421.10" width="11.38" height="3.20" fill="#e8f3d8"/>
<rect x="335.97" y="245.00" width="45.51" height="4.00" fill="#f9d290"/>
<rect x="381.48" y="245.00" width="22.76" height="4.00" fill="#fbe8a6"/>
<rect x="335.97" y="249.00" width="11.38" height="4.00" fill="#fbe8a6"/>
<rect x="347.34" y="249.00" width="11.38" height="4.00" fill="#f8f4c8"/>
<rect x="358.72" y="249.00" width="11.38" height="4.00" fill="#f6b47a"/>
<rect x="370.10" y="249.00" width="11.38" height="4.00" fill="#f8f4c8"/>
<rect x="381.48" y="249.00" width="11.38" height="4.00" fill="#f9d290"/>
<rect x="392.86" y="249.00" width="11.38" height="4.00" fill="#fbe8a6"/>
<rect x="335.97" y="253.00" width="45.51" height="4.60" fill="#f09462"/>
<rect x="381.48" y="253.00" width="11.38" height="4.60" fill="#f6b47a"/>
<rect x="392.86" y="253.00" width="11.38" height="4.60" fill="#f9d290"/>
<rect x="335.97" y="257.60" width="22.76" height="4.60" fill="#f6b47a"/>
<rect x="358.72" y="257.60" width="11.38" height="4.60" fill="#f09462"/>
<rect x="370.10" y="257.60" width="22.76" height="4.60" fill="#f6b47a"/>
<rect x="392.86" y="257.60" width="11.38" height="4.60" fill="#f9d290"/>
<rect x="335.97" y="262.20" width="22.76" height="4.00" fill="#f8f4c8"/>
<rect x="358.72" y="262.20" width="22.76" height="4.00" fill="#fbe8a6"/>
<rect x="381.48" y="262.20" width="11.38" height="4.00" fill="#f8f4c8"/>
<rect x="392.86" y="262.20" width="11.38" height="4.00" fill="#fbe8a6"/>
<rect x="335.97" y="266.20" width="22.76" height="4.00" fill="#f8f4c8"/>
<rect x="358.72" y="266.20" width="11.38" height="4.00" fill="#f9d290"/>
<rect x="370.10" y="266.20" width="22.76" height="4.00" fill="#fbe8a6"/>
<rect x="392.86" y="266.20" width="11.38" height="4.00" fill="#f9d290"/>
<rect x="335.97" y="270.20" width="22.76" height="5.30" fill="#f8f4c8"/>
<rect x="358.72" y="270.20" width="11.38" height="5.30" fill="#fbe8a6"/>
<rect x="370.10" y="270.20" width="34.13" height="5.30" fill="#f8f4c8"/>
<rect x="335.97" y="275.50" width="34.13" height="6.60" fill="#f8f4c8"/>
<rect x="370.10" y="275.50" width="11.38" height="6.60" fill="#e8f3d8"/>
<rect x="381.48" y="275.50" width="22.76" height="6.60" fill="#f8f4c8"/>
<rect x="335.97" y="282.10" width="56.89" height="7.90" fill="#f8f4c8"/>
<rect x="392.86" y="282.10" width="11.38" height="7.90" fill="#e8f3d8"/>
<rect x="335.97" y="290.00" width="11.38" height="10.60" fill="#f8f4c8"/>
<rect x="347.34" y="290.00" width="22.76" height="10.60" fill="#fbe8a6"/>
<rect x="370.10" y="290.00" width="11.38" height="10.60" fill="#f8f4c8"/>
<rect x="381.48" y="290.00" width="11.38" height="10.60" fill="#fbe8a6"/>
<rect x="392.86" y="290.00" width="11.38" height="10.60" fill="#f8f4c8"/>
<rect x="335.97" y="300.60" width="11.38" height="4.00" fill="#f8f4c8"/>
<rect x="347.34" y="300.60" width="22.76" height="4.00" fill="#f9d290"/>
<rect x="370.10" y="300.60" width="34.13" height="4.00" fill="#f8f4c8"/>
<rect x="335.97" y="304.60" width="11.38" height="7.90" fill="#e8f3d8"/>
<rect x="347.34" y="304.60" width="56.89" height="7.90" fill="#f8f4c8"/>
<rect x="335.97" y="312.50" width="11.38" height="5.40" fill="#e8f3d8"/>
<rect x="347.34" y="312.50" width="22.76" height="5.40" fill="#f8f4c8"/>
<rect x="370.10" y="312.50" width="22.76" height="5.40" fill="#fbe8a6"/>
<rect x="392.86" y="312.50" width="11.38" height="5.40" fill="#f8f4c8"/>
<rect x="335.97" y="317.90" width="11.38" height="3.90" fill="#e8f3d8"/>
<rect x="347.34" y="317.90" width="56.89" height="3.90" fill="#f8f4c8"/>
<rect x="335.97" y="321.80" width="11.38" height="4.00" fill="#e8f3d8"/>
<rect x="347.34" y="321.80" width="22.76" height="4.00" fill="#d6ede4"/>
<rect x="370.10" y="321.80" width="34.13" height="4.00" fill="#f8f4c8"/>
<rect x="335.97" y="325.80" width="34.13" height="4.00" fill="#f8f4c8"/>
<rect x="370.10" y="325.80" width="34.13" height="4.00" fill="#fbe8a6"/>
<rect x="335.97" y="329.80" width="22.76" height="3.20" fill="#d6ede4"/>
<rect x="358.72" y="329.80" width="22.76" height="3.20" fill="#c0e0ea"/>
<rect x="381.48" y="329.80" width="22.76" height="3.20" fill="#d6ede4"/>
<rect x="335.97" y="333.00" width="11.38" height="6.00" fill="#a8cee8"/>
<rect x="347.34" y="333.00" width="34.13" height="6.00" fill="#c0e0ea"/>
<rect x="381.48" y="333.00" width="22.76" height="6.00" fill="#a8cee8"/>
<rect x="335.97" y="339.00" width="34.13" height="4.60" fill="#e8f3d8"/>
<rect x="370.10" y="339.00" width="11.38" height="4.60" fill="#d6ede4"/>
<rect x="381.48" y="339.00" width="22.76" height="4.60" fill="#e8f3d8"/>
<rect x="335.97" y="343.60" width="11.38" height="7.90" fill="#c0e0ea"/>
<rect x="347.34" y="343.60" width="22.76" height="7.90" fill="#a8cee8"/>
<rect x="370.10" y="343.60" width="11.38" height="7.90" fill="#d6ede4"/>
<rect x="381.48" y="343.60" width="11.38" height="7.90" fill="#c0e0ea"/>
<rect x="392.86" y="343.60" width="11.38" height="7.90" fill="#d6ede4"/>
<rect x="335.97" y="351.50" width="11.38" height="5.30" fill="#f8f4c8"/>
<rect x="347.34" y="351.50" width="11.38" height="5.30" fill="#e8f3d8"/>
<rect x="358.72" y="351.50" width="45.51" height="5.30" fill="#f8f4c8"/>
<rect x="335.97" y="356.80" width="11.38" height="8.00" fill="#d6ede4"/>
<rect x="347.34" y="356.80" width="22.76" height="8.00" fill="#f8f4c8"/>
<rect x="370.10" y="356.80" width="11.38" height="8.00" fill="#e8f3d8"/>
<rect x="381.48" y="356.80" width="11.38" height="8.00" fill="#d6ede4"/>
<rect x="392.86" y="356.80" width="11.38" height="8.00" fill="#c0e0ea"/>
<rect x="335.97" y="364.80" width="68.27" height="4.00" fill="#e8f3d8"/>
<rect x="335.97" y="368.80" width="11.38" height="6.60" fill="#c0e0ea"/>
<rect x="347.34" y="368.80" width="22.76" height="6.60" fill="#d6ede4"/>
<rect x="370.10" y="368.80" width="11.38" height="6.60" fill="#a8cee8"/>
<rect x="381.48" y="368.80" width="11.38" height="6.60" fill="#d6ede4"/>
<rect x="392.86" y="368.80" width="11.38" height="6.60" fill="#e8f3d8"/>
<rect x="335.97" y="375.40" width="34.13" height="5.30" fill="#e8f3d8"/>
<rect x="370.10" y="375.40" width="11.38" height="5.30" fill="#d6ede4"/>
<rect x="381.48" y="375.40" width="22.76" height="5.30" fill="#e8f3d8"/>
<rect x="335.97" y="380.70" width="22.76" height="5.90" fill="#f8f4c8"/>
<rect x="358.72" y="380.70" width="11.38" height="5.90" fill="#a8cee8"/>
<rect x="370.10" y="380.70" width="11.38" height="5.90" fill="#f8f4c8"/>
<rect x="381.48" y="380.70" width="11.38" height="5.90" fill="#fbe8a6"/>
<rect x="392.86" y="380.70" width="11.38" height="5.90" fill="#f8f4c8"/>
<rect x="335.97" y="386.60" width="22.76" height="4.70" fill="#f8f4c8"/>
<rect x="358.72" y="386.60" width="11.38" height="4.70" fill="#e8f3d8"/>
<rect x="370.10" y="386.60" width="22.76" height="4.70" fill="#fbe8a6"/>
<rect x="392.86" y="386.60" width="11.38" height="4.70" fill="#f8f4c8"/>
<rect x="335.97" y="391.30" width="22.76" height="8.60" fill="#c0e0ea"/>
<rect x="358.72" y="391.30" width="11.38" height="8.60" fill="#d6ede4"/>
<rect x="370.10" y="391.30" width="34.13" height="8.60" fill="#f8f4c8"/>
<rect x="335.97" y="399.90" width="11.38" height="8.60" fill="#c0e0ea"/>
<rect x="347.34" y="399.90" width="11.38" height="8.60" fill="#d6ede4"/>
<rect x="358.72" y="399.90" width="11.38" height="8.60" fill="#a8cee8"/>
<rect x="370.10" y="399.90" width="34.13" height="8.60" fill="#f8f4c8"/>
<rect x="335.97" y="408.50" width="22.76" height="8.00" fill="#d6ede4"/>
<rect x="358.72" y="408.50" width="11.38" height="8.00" fill="#8cb6e0"/>
<rect x="370.10" y="408.50" width="11.38" height="8.00" fill="#e8f3d8"/>
<rect x="381.48" y="408.50" width="22.76" height="8.00" fill="#f8f4c8"/>
<rect x="335.97" y="416.50" width="34.13" height="4.60" fill="#d6ede4"/>
<rect x="370.10" y="416.50" width="34.13" height="4.60" fill="#e8f3d8"/>
<rect x="335.97" y="421.10" width="34.13" height="3.20" fill="#a8cee8"/>
<rect x="370.10" y="421.10" width="11.38" height="3.20" fill="#8cb6e0"/>
<rect x="381.48" y="421.10" width="11.38" height="3.20" fill="#c0e0ea"/>
<rect x="392.86" y="421.10" width="11.38" height="3.20" fill="#fbe8a6"/>
<rect x="404.23" y="245.00" width="11.38" height="4.00" fill="#fbe8a6"/>
<rect x="415.61" y="245.00" width="56.89" height="4.00" fill="#f8f4c8"/>
<rect x="404.23" y="249.00" width="11.38" height="4.00" fill="#f8f4c8"/>
<rect x="415.61" y="249.00" width="45.51" height="4.00" fill="#e8f3d8"/>
<rect x="461.12" y="249.00" width="11.38" height="4.00" fill="#f8f4c8"/>
<rect x="404.23" y="253.00" width="34.13" height="8.00" fill="#f8f4c8"/>
<rect x="438.37" y="253.00" width="11.38" height="8.00" fill="#fbe8a6"/>
<rect x="449.74" y="253.00" width="22.76" height="8.00" fill="#f8f4c8"/>
<rect x="404.23" y="261.00" width="11.38" height="5.20" fill="#e8f3d8"/>
<rect x="415.61" y="261.00" width="56.89" height="5.20" fill="#f8f4c8"/>
<rect x="404.23" y="266.20" width="68.27" height="4.70" fill="#f8f4c8"/>
<rect x="404.23" y="270.90" width="11.38" height="8.60" fill="#d6ede4"/>
<rect x="415.61" y="270.90" width="56.89" height="8.60" fill="#e8f3d8"/>
<rect x="404.23" y="279.50" width="11.38" height="4.00" fill="#d6ede4"/>
<rect x="415.61" y="279.50" width="22.76" height="4.00" fill="#e8f3d8"/>
<rect x="438.37" y="279.50" width="11.38" height="4.00" fill="#d6ede4"/>
<rect x="449.74" y="279.50" width="22.76" height="4.00" fill="#e8f3d8"/>
<rect x="404.23" y="283.50" width="11.38" height="3.90" fill="#e8f3d8"/>
<rect x="415.61" y="283.50" width="34.13" height="3.90" fill="#f8f4c8"/>
<rect x="449.74" y="283.50" width="11.38" height="3.90" fill="#d6ede4"/>
<rect x="461.12" y="283.50" width="11.38" height="3.90" fill="#f8f4c8"/>
<rect x="404.23" y="287.40" width="11.38" height="2.60" fill="#f8f4c8"/>
<rect x="415.61" y="287.40" width="34.13" height="2.60" fill="#f6b47a"/>
<rect x="449.74" y="287.40" width="11.38" height="2.60" fill="#f9d290"/>
<rect x="461.12" y="287.40" width="11.38" height="2.60" fill="#fbe8a6"/>
<rect x="404.23" y="290.00" width="11.38" height="3.30" fill="#fbe8a6"/>
<rect x="415.61" y="290.00" width="34.13" height="3.30" fill="#f6b47a"/>
<rect x="449.74" y="290.00" width="22.76" height="3.30" fill="#f9d290"/>
<rect x="404.23" y="293.30" width="11.38" height="4.00" fill="#fbe8a6"/>
<rect x="415.61" y="293.30" width="22.76" height="4.00" fill="#f9d290"/>
<rect x="438.37" y="293.30" width="11.38" height="4.00" fill="#f6b47a"/>
<rect x="449.74" y="293.30" width="11.38" height="4.00" fill="#fbe8a6"/>
<rect x="461.12" y="293.30" width="11.38" height="4.00" fill="#f9d290"/>
<rect x="404.23" y="297.30" width="45.51" height="3.30" fill="#f6b47a"/>
<rect x="449.74" y="297.30" width="22.76" height="3.30" fill="#f9d290"/>
<rect x="404.23" y="300.60" width="11.38" height="4.00" fill="#f6b47a"/>
<rect x="415.61" y="300.60" width="34.13" height="4.00" fill="#f09462"/>
<rect x="449.74" y="300.60" width="11.38" height="4.00" fill="#f9d290"/>
<rect x="461.12" y="300.60" width="11.38" height="4.00" fill="#f6b47a"/>
<rect x="404.23" y="304.60" width="11.38" height="5.30" fill="#d6ede4"/>
<rect x="415.61" y="304.60" width="34.13" height="5.30" fill="#e8f3d8"/>
<rect x="449.74" y="304.60" width="22.76" height="5.30" fill="#d6ede4"/>
<rect x="404.23" y="309.90" width="11.38" height="13.30" fill="#d6ede4"/>
<rect x="415.61" y="309.90" width="34.13" height="13.30" fill="#e8f3d8"/>
<rect x="449.74" y="309.90" width="11.38" height="13.30" fill="#d6ede4"/>
<rect x="461.12" y="309.90" width="11.38" height="13.30" fill="#e8f3d8"/>
<rect x="404.23" y="323.20" width="11.38" height="5.30" fill="#a8cee8"/>
<rect x="415.61" y="323.20" width="22.76" height="5.30" fill="#d6ede4"/>
<rect x="438.37" y="323.20" width="11.38" height="5.30" fill="#e8f3d8"/>
<rect x="449.74" y="323.20" width="22.76" height="5.30" fill="#d6ede4"/>
<rect x="404.23" y="328.50" width="11.38" height="6.50" fill="#e8f3d8"/>
<rect x="415.61" y="328.50" width="56.89" height="6.50" fill="#f8f4c8"/>
<rect x="404.23" y="335.00" width="11.38" height="5.30" fill="#f8f4c8"/>
<rect x="415.61" y="335.00" width="22.76" height="5.30" fill="#f9d290"/>
<rect x="438.37" y="335.00" width="34.13" height="5.30" fill="#fbe8a6"/>
<rect x="404.23" y="340.30" width="68.27" height="5.30" fill="#f8f4c8"/>
<rect x="404.23" y="345.60" width="11.38" height="6.60" fill="#e8f3d8"/>
<rect x="415.61" y="345.60" width="11.38" height="6.60" fill="#d6ede4"/>
<rect x="426.99" y="345.60" width="11.38" height="6.60" fill="#8cb6e0"/>
<rect x="438.37" y="345.60" width="11.38" height="6.60" fill="#f8f4c8"/>
<rect x="449.74" y="345.60" width="11.38" height="6.60" fill="#f6b47a"/>
<rect x="461.12" y="345.60" width="11.38" height="6.60" fill="#f8f4c8"/>
<rect x="404.23" y="352.20" width="11.38" height="5.30" fill="#e8f3d8"/>
<rect x="415.61" y="352.20" width="22.76" height="5.30" fill="#f8f4c8"/>
<rect x="438.37" y="352.20" width="11.38" height="5.30" fill="#f9d290"/>
<rect x="449.74" y="352.20" width="22.76" height="5.30" fill="#f8f4c8"/>
<rect x="404.23" y="357.50" width="11.38" height="2.70" fill="#e8f3d8"/>
<rect x="415.61" y="357.50" width="45.51" height="2.70" fill="#f8f4c8"/>
<rect x="461.12" y="357.50" width="11.38" height="2.70" fill="#e8f3d8"/>
<rect x="404.23" y="360.20" width="11.38" height="4.60" fill="#fbe8a6"/>
<rect x="415.61" y="360.20" width="45.51" height="4.60" fill="#f9d290"/>
<rect x="461.12" y="360.20" width="11.38" height="4.60" fill="#fbe8a6"/>
<rect x="404.23" y="364.80" width="11.38" height="4.70" fill="#f9d290"/>
<rect x="415.61" y="364.80" width="34.13" height="4.70" fill="#f6b47a"/>
<rect x="449.74" y="364.80" width="11.38" height="4.70" fill="#f9d290"/>
<rect x="461.12" y="364.80" width="11.38" height="4.70" fill="#fbe8a6"/>
<rect x="404.23" y="369.50" width="11.38" height="10.50" fill="#f8f4c8"/>
<rect x="415.61" y="369.50" width="11.38" height="10.50" fill="#fbe8a6"/>
<rect x="426.99" y="369.50" width="11.38" height="10.50" fill="#f8f4c8"/>
<rect x="438.37" y="369.50" width="11.38" height="10.50" fill="#fbe8a6"/>
<rect x="449.74" y="369.50" width="11.38" height="10.50" fill="#f8f4c8"/>
<rect x="461.12" y="369.50" width="11.38" height="10.50" fill="#fbe8a6"/>
<rect x="404.23" y="380.00" width="56.89" height="2.70" fill="#f8f4c8"/>
<rect x="461.12" y="380.00" width="11.38" height="2.70" fill="#f9d290"/>
<rect x="404.23" y="382.70" width="11.38" height="8.60" fill="#d6ede4"/>
<rect x="415.61" y="382.70" width="11.38" height="8.60" fill="#e8f3d8"/>
<rect x="426.99" y="382.70" width="11.38" height="8.60" fill="#8cb6e0"/>
<rect x="438.37" y="382.70" width="34.13" height="8.60" fill="#e8f3d8"/>
<rect x="404.23" y="391.30" width="11.38" height="12.60" fill="#c0e0ea"/>
<rect x="415.61" y="391.30" width="11.38" height="12.60" fill="#e8f3d8"/>
<rect x="426.99" y="391.30" width="11.38" height="12.60" fill="#d6ede4"/>
<rect x="438.37" y="391.30" width="34.13" height="12.60" fill="#e8f3d8"/>
<rect x="404.23" y="403.90" width="22.76" height="4.00" fill="#c0e0ea"/>
<rect x="426.99" y="403.90" width="11.38" height="4.00" fill="#a8cee8"/>
<rect x="438.37" y="403.90" width="11.38" height="4.00" fill="#d6ede4"/>
<rect x="449.74" y="403.90" width="22.76" height="4.00" fill="#e8f3d8"/>
<rect x="404.23" y="407.90" width="11.38" height="4.60" fill="#c0e0ea"/>
<rect x="415.61" y="407.90" width="11.38" height="4.60" fill="#a8cee8"/>
<rect x="426.99" y="407.90" width="11.38" height="4.60" fill="#6e9ad4"/>
<rect x="438.37" y="407.90" width="34.13" height="4.60" fill="#d6ede4"/>
<rect x="404.23" y="412.50" width="11.38" height="4.00" fill="#a8cee8"/>
<rect x="415.61" y="412.50" width="45.51" height="4.00" fill="#c0e0ea"/>
<rect x="461.12" y="412.50" width="11.38" height="4.00" fill="#a8cee8"/>
<rect x="404.23" y="416.50" width="45.51" height="4.00" fill="#f8f4c8"/>
<rect x="449.74" y="416.50" width="11.38" height="4.00" fill="#e8f3d8"/>
<rect x="461.12" y="416.50" width="11.38" height="4.00" fill="#f8f4c8"/>
<rect x="404.23" y="420.50" width="11.38" height="3.80" fill="#a8cee8"/>
<rect x="415.61" y="420.50" width="22.76" height="3.80" fill="#8cb6e0"/>
<rect x="438.37" y="420.50" width="11.38" height="3.80" fill="#5684c8"/>
<rect x="449.74" y="420.50" width="11.38" height="3.80" fill="#a8cee8"/>
<rect x="461.12" y="420.50" width="11.38" height="3.80" fill="#e8f3d8"/>
</g>
<g filter="url(#bl)" shape-rendering="crispEdges">
<rect x="42.00" y="475.00" width="199.00" height="179.80" fill="#d6ede4"/>
<rect x="42.00" y="475.00" width="66.33" height="3.80" fill="#a8cee8"/>
<rect x="42.00" y="478.80" width="16.58" height="3.20" fill="#8cb6e0"/>
<rect x="58.58" y="478.80" width="16.58" height="3.20" fill="#4673bf"/>
<rect x="75.17" y="478.80" width="33.17" height="3.20" fill="#a8cee8"/>
<rect x="42.00" y="482.00" width="16.58" height="5.00" fill="#5684c8"/>
<rect x="58.58" y="482.00" width="16.58" height="5.00" fill="#a8cee8"/>
<rect x="75.17" y="482.00" width="16.58" height="5.00" fill="#6e9ad4"/>
<rect x="91.75" y="482.00" width="16.58" height="5.00" fill="#a8cee8"/>
<rect x="42.00" y="487.00" width="16.58" height="5.80" fill="#5684c8"/>
<rect x="58.58" y="487.00" width="16.58" height="5.80" fill="#c0e0ea"/>
<rect x="75.17" y="487.00" width="16.58" height="5.80" fill="#6e9ad4"/>
<rect x="91.75" y="487.00" width="16.58" height="5.80" fill="#8cb6e0"/>
<rect x="42.00" y="492.80" width="16.58" height="3.80" fill="#5684c8"/>
<rect x="58.58" y="492.80" width="16.58" height="3.80" fill="#c0e0ea"/>
<rect x="75.17" y="492.80" width="16.58" height="3.80" fill="#5684c8"/>
<rect x="91.75" y="492.80" width="16.58" height="3.80" fill="#a8cee8"/>
<rect x="42.00" y="496.60" width="16.58" height="3.80" fill="#4673bf"/>
<rect x="58.58" y="496.60" width="16.58" height="3.80" fill="#c0e0ea"/>
<rect x="75.17" y="496.60" width="16.58" height="3.80" fill="#5684c8"/>
<rect x="91.75" y="496.60" width="16.58" height="3.80" fill="#a8cee8"/>
<rect x="42.00" y="500.40" width="16.58" height="4.40" fill="#6e9ad4"/>
<rect x="58.58" y="500.40" width="16.58" height="4.40" fill="#c0e0ea"/>
<rect x="75.17" y="500.40" width="33.17" height="4.40" fill="#a8cee8"/>
<rect x="42.00" y="504.80" width="16.58" height="3.20" fill="#6e9ad4"/>
<rect x="58.58" y="504.80" width="16.58" height="3.20" fill="#a8cee8"/>
<rect x="75.17" y="504.80" width="16.58" height="3.20" fill="#8cb6e0"/>
<rect x="91.75" y="504.80" width="16.58" height="3.20" fill="#a8cee8"/>
<rect x="42.00" y="508.00" width="16.58" height="3.20" fill="#4673bf"/>
<rect x="58.58" y="508.00" width="33.17" height="3.20" fill="#8cb6e0"/>
<rect x="91.75" y="508.00" width="16.58" height="3.20" fill="#a8cee8"/>
<rect x="42.00" y="511.20" width="16.58" height="8.80" fill="#c0e0ea"/>
<rect x="58.58" y="511.20" width="49.75" height="8.80" fill="#d6ede4"/>
<rect x="42.00" y="520.00" width="66.33" height="5.00" fill="#c0e0ea"/>
<rect x="42.00" y="525.00" width="33.17" height="3.90" fill="#d6ede4"/>
<rect x="75.17" y="525.00" width="16.58" height="3.90" fill="#e8f3d8"/>
<rect x="91.75" y="525.00" width="16.58" height="3.90" fill="#d6ede4"/>
<rect x="42.00" y="528.90" width="16.58" height="3.80" fill="#c0e0ea"/>
<rect x="58.58" y="528.90" width="16.58" height="3.80" fill="#d6ede4"/>
<rect x="75.17" y="528.90" width="33.17" height="3.80" fill="#c0e0ea"/>
<rect x="42.00" y="532.70" width="16.58" height="4.40" fill="#a8cee8"/>
<rect x="58.58" y="532.70" width="49.75" height="4.40" fill="#c0e0ea"/>
<rect x="42.00" y="537.10" width="16.58" height="4.50" fill="#a8cee8"/>
<rect x="58.58" y="537.10" width="16.58" height="4.50" fill="#d6ede4"/>
<rect x="75.17" y="537.10" width="33.17" height="4.50" fill="#e8f3d8"/>
<rect x="42.00" y="541.60" width="33.17" height="3.80" fill="#d6ede4"/>
<rect x="75.17" y="541.60" width="16.58" height="3.80" fill="#e8f3d8"/>
<rect x="91.75" y="541.60" width="16.58" height="3.80" fill="#d6ede4"/>
<rect x="42.00" y="545.40" width="33.17" height="5.70" fill="#e8f3d8"/>
<rect x="75.17" y="545.40" width="16.58" height="5.70" fill="#f8f4c8"/>
<rect x="91.75" y="545.40" width="16.58" height="5.70" fill="#c0e0ea"/>
<rect x="42.00" y="551.10" width="66.33" height="3.80" fill="#c0e0ea"/>
<rect x="42.00" y="554.90" width="33.17" height="4.40" fill="#a8cee8"/>
<rect x="75.17" y="554.90" width="33.17" height="4.40" fill="#c0e0ea"/>
<rect x="42.00" y="559.30" width="66.33" height="7.70" fill="#c0e0ea"/>
<rect x="42.00" y="567.00" width="49.75" height="3.70" fill="#8cb6e0"/>
<rect x="91.75" y="567.00" width="16.58" height="3.70" fill="#5684c8"/>
<rect x="42.00" y="570.70" width="16.58" height="3.20" fill="#a8cee8"/>
<rect x="58.58" y="570.70" width="49.75" height="3.20" fill="#c0e0ea"/>
<rect x="42.00" y="573.90" width="16.58" height="3.80" fill="#8cb6e0"/>
<rect x="58.58" y="573.90" width="33.17" height="3.80" fill="#a8cee8"/>
<rect x="91.75" y="573.90" width="16.58" height="3.80" fill="#c0e0ea"/>
<rect x="42.00" y="577.70" width="16.58" height="3.80" fill="#c0e0ea"/>
<rect x="58.58" y="577.70" width="16.58" height="3.80" fill="#a8cee8"/>
<rect x="75.17" y="577.70" width="33.17" height="3.80" fill="#c0e0ea"/>
<rect x="42.00" y="581.50" width="16.58" height="8.90" fill="#e8f3d8"/>
<rect x="58.58" y="581.50" width="49.75" height="8.90" fill="#d6ede4"/>
<rect x="42.00" y="590.40" width="16.58" height="6.30" fill="#d6ede4"/>
<rect x="58.58" y="590.40" width="33.17" height="6.30" fill="#e8f3d8"/>
<rect x="91.75" y="590.40" width="16.58" height="6.30" fill="#d6ede4"/>
<rect x="42.00" y="596.70" width="16.58" height="10.20" fill="#d6ede4"/>
<rect x="58.58" y="596.70" width="16.58" height="10.20" fill="#c0e0ea"/>
<rect x="75.17" y="596.70" width="16.58" height="10.20" fill="#d6ede4"/>
<rect x="91.75" y="596.70" width="16.58" height="10.20" fill="#c0e0ea"/>
<rect x="42.00" y="606.90" width="16.58" height="5.10" fill="#8cb6e0"/>
<rect x="58.58" y="606.90" width="33.17" height="5.10" fill="#c0e0ea"/>
<rect x="91.75" y="606.90" width="16.58" height="5.10" fill="#d6ede4"/>
<rect x="42.00" y="612.00" width="16.58" height="5.60" fill="#c0e0ea"/>
<rect x="58.58" y="612.00" width="16.58" height="5.60" fill="#d6ede4"/>
<rect x="75.17" y="612.00" width="16.58" height="5.60" fill="#c0e0ea"/>
<rect x="91.75" y="612.00" width="16.58" height="5.60" fill="#d6ede4"/>
<rect x="42.00" y="617.60" width="33.17" height="5.10" fill="#d6ede4"/>
<rect x="75.17" y="617.60" width="33.17" height="5.10" fill="#c0e0ea"/>
<rect x="42.00" y="622.70" width="33.17" height="7.60" fill="#d6ede4"/>
<rect x="75.17" y="622.70" width="33.17" height="7.60" fill="#e8f3d8"/>
<rect x="42.00" y="630.30" width="33.17" height="9.50" fill="#e8f3d8"/>
<rect x="75.17" y="630.30" width="33.17" height="9.50" fill="#d6ede4"/>
<rect x="42.00" y="639.80" width="66.33" height="7.00" fill="#c0e0ea"/>
<rect x="42.00" y="646.80" width="33.17" height="5.10" fill="#c0e0ea"/>
<rect x="75.17" y="646.80" width="16.58" height="5.10" fill="#a8cee8"/>
<rect x="91.75" y="646.80" width="16.58" height="5.10" fill="#8cb6e0"/>
<rect x="42.00" y="651.90" width="66.33" height="2.90" fill="#c0e0ea"/>
<rect x="108.33" y="475.00" width="16.58" height="3.20" fill="#5684c8"/>
<rect x="124.92" y="475.00" width="16.58" height="3.20" fill="#4673bf"/>
<rect x="141.50" y="475.00" width="33.17" height="3.20" fill="#8cb6e0"/>
<rect x="108.33" y="478.20" width="16.58" height="3.90" fill="#a8cee8"/>
<rect x="124.92" y="478.20" width="16.58" height="3.90" fill="#4673bf"/>
<rect x="141.50" y="478.20" width="16.58" height="3.90" fill="#c0e0ea"/>
<rect x="158.08" y="478.20" width="16.58" height="3.90" fill="#a8cee8"/>
<rect x="108.33" y="482.10" width="16.58" height="10.30" fill="#4673bf"/>
<rect x="124.92" y="482.10" width="16.58" height="10.30" fill="#5684c8"/>
<rect x="141.50" y="482.10" width="33.17" height="10.30" fill="#4673bf"/>
<rect x="108.33" y="492.40" width="16.58" height="3.90" fill="#4673bf"/>
<rect x="124.92" y="492.40" width="16.58" height="3.90" fill="#5684c8"/>
<rect x="141.50" y="492.40" width="16.58" height="3.90" fill="#6e9ad4"/>
<rect x="158.08" y="492.40" width="16.58" height="3.90" fill="#4673bf"/>
<rect x="108.33" y="496.30" width="16.58" height="3.80" fill="#4673bf"/>
<rect x="124.92" y="496.30" width="49.75" height="3.80" fill="#5684c8"/>
<rect x="108.33" y="500.10" width="16.58" height="3.90" fill="#6e9ad4"/>
<rect x="124.92" y="500.10" width="16.58" height="3.90" fill="#4673bf"/>
<rect x="141.50" y="500.10" width="16.58" height="3.90" fill="#6e9ad4"/>
<rect x="158.08" y="500.10" width="16.58" height="3.90" fill="#5684c8"/>
<rect x="108.33" y="504.00" width="49.75" height="7.70" fill="#4673bf"/>
<rect x="158.08" y="504.00" width="16.58" height="7.70" fill="#5684c8"/>
<rect x="108.33" y="511.70" width="16.58" height="8.30" fill="#d6ede4"/>
<rect x="124.92" y="511.70" width="33.17" height="8.30" fill="#c0e0ea"/>
<rect x="158.08" y="511.70" width="16.58" height="8.30" fill="#d6ede4"/>
<rect x="108.33" y="520.00" width="16.58" height="7.70" fill="#c0e0ea"/>
<rect x="124.92" y="520.00" width="49.75" height="7.70" fill="#d6ede4"/>
<rect x="108.33" y="527.70" width="16.58" height="9.10" fill="#d6ede4"/>
<rect x="124.92" y="527.70" width="33.17" height="9.10" fill="#e8f3d8"/>
<rect x="158.08" y="527.70" width="16.58" height="9.10" fill="#d6ede4"/>
<rect x="108.33" y="536.80" width="16.58" height="10.90" fill="#a8cee8"/>
<rect x="124.92" y="536.80" width="16.58" height="10.90" fill="#d6ede4"/>
<rect x="141.50" y="536.80" width="16.58" height="10.90" fill="#c0e0ea"/>
<rect x="158.08" y="536.80" width="16.58" height="10.90" fill="#d6ede4"/>
<rect x="108.33" y="547.70" width="16.58" height="3.90" fill="#e8f3d8"/>
<rect x="124.92" y="547.70" width="16.58" height="3.90" fill="#d6ede4"/>
<rect x="141.50" y="547.70" width="33.17" height="3.90" fill="#e8f3d8"/>
<rect x="108.33" y="551.60" width="16.58" height="7.10" fill="#c0e0ea"/>
<rect x="124.92" y="551.60" width="16.58" height="7.10" fill="#d6ede4"/>
<rect x="141.50" y="551.60" width="33.17" height="7.10" fill="#e8f3d8"/>
<rect x="108.33" y="558.70" width="16.58" height="6.30" fill="#8cb6e0"/>
<rect x="124.92" y="558.70" width="49.75" height="6.30" fill="#a8cee8"/>
<rect x="108.33" y="565.00" width="16.58" height="5.20" fill="#e8f3d8"/>
<rect x="124.92" y="565.00" width="16.58" height="5.20" fill="#a8cee8"/>
<rect x="141.50" y="565.00" width="16.58" height="5.20" fill="#8cb6e0"/>
<rect x="158.08" y="565.00" width="16.58" height="5.20" fill="#a8cee8"/>
<rect x="108.33" y="570.20" width="33.17" height="6.40" fill="#a8cee8"/>
<rect x="141.50" y="570.20" width="33.17" height="6.40" fill="#c0e0ea"/>
<rect x="108.33" y="576.60" width="16.58" height="5.20" fill="#a8cee8"/>
<rect x="124.92" y="576.60" width="16.58" height="5.20" fill="#8cb6e0"/>
<rect x="141.50" y="576.60" width="33.17" height="5.20" fill="#a8cee8"/>
<rect x="108.33" y="581.80" width="66.33" height="9.00" fill="#c0e0ea"/>
<rect x="108.33" y="590.80" width="16.58" height="5.10" fill="#c0e0ea"/>
<rect x="124.92" y="590.80" width="16.58" height="5.10" fill="#a8cee8"/>
<rect x="141.50" y="590.80" width="16.58" height="5.10" fill="#c0e0ea"/>
<rect x="158.08" y="590.80" width="16.58" height="5.10" fill="#d6ede4"/>
<rect x="108.33" y="595.90" width="16.58" height="5.20" fill="#d6ede4"/>
<rect x="124.92" y="595.90" width="16.58" height="5.20" fill="#c0e0ea"/>
<rect x="141.50" y="595.90" width="16.58" height="5.20" fill="#e8f3d8"/>
<rect x="158.08" y="595.90" width="16.58" height="5.20" fill="#d6ede4"/>
<rect x="108.33" y="601.10" width="33.17" height="8.90" fill="#c0e0ea"/>
<rect x="141.50" y="601.10" width="16.58" height="8.90" fill="#a8cee8"/>
<rect x="158.08" y="601.10" width="16.58" height="8.90" fill="#c0e0ea"/>
<rect x="108.33" y="610.00" width="16.58" height="3.90" fill="#a8cee8"/>
<rect x="124.92" y="610.00" width="49.75" height="3.90" fill="#d6ede4"/>
<rect x="108.33" y="613.90" width="49.75" height="7.70" fill="#d6ede4"/>
<rect x="158.08" y="613.90" width="16.58" height="7.70" fill="#c0e0ea"/>
<rect x="108.33" y="621.60" width="16.58" height="7.70" fill="#c0e0ea"/>
<rect x="124.92" y="621.60" width="33.17" height="7.70" fill="#d6ede4"/>
<rect x="158.08" y="621.60" width="16.58" height="7.70" fill="#e8f3d8"/>
<rect x="108.33" y="629.30" width="33.17" height="10.30" fill="#e8f3d8"/>
<rect x="141.50" y="629.30" width="16.58" height="10.30" fill="#d6ede4"/>
<rect x="158.08" y="629.30" width="16.58" height="10.30" fill="#e8f3d8"/>
<rect x="108.33" y="639.60" width="16.58" height="9.10" fill="#d6ede4"/>
<rect x="124.92" y="639.60" width="16.58" height="9.10" fill="#a8cee8"/>
<rect x="141.50" y="639.60" width="16.58" height="9.10" fill="#e8f3d8"/>
<rect x="158.08" y="639.60" width="16.58" height="9.10" fill="#c0e0ea"/>
<rect x="108.33" y="648.70" width="66.33" height="6.10" fill="#d6ede4"/>
<rect x="174.67" y="475.00" width="16.58" height="3.20" fill="#5684c8"/>
<rect x="191.25" y="475.00" width="16.58" height="3.20" fill="#8cb6e0"/>
<rect x="207.83" y="475.00" width="16.58" height="3.20" fill="#6e9ad4"/>
<rect x="224.42" y="475.00" width="16.58" height="3.20" fill="#5684c8"/>
<rect x="174.67" y="478.20" width="16.58" height="3.80" fill="#4673bf"/>
<rect x="191.25" y="478.20" width="16.58" height="3.80" fill="#5684c8"/>
<rect x="207.83" y="478.20" width="33.17" height="3.80" fill="#f8f4c8"/>
<rect x="174.67" y="482.00" width="66.33" height="4.40" fill="#f8f4c8"/>
<rect x="174.67" y="486.40" width="16.58" height="5.10" fill="#f8f4c8"/>
<rect x="191.25" y="486.40" width="16.58" height="5.10" fill="#fbe8a6"/>
<rect x="207.83" y="486.40" width="33.17" height="5.10" fill="#f8f4c8"/>
<rect x="174.67" y="491.50" width="66.33" height="8.90" fill="#f8f4c8"/>
<rect x="174.67" y="500.40" width="33.17" height="7.60" fill="#e8f3d8"/>
<rect x="207.83" y="500.40" width="16.58" height="7.60" fill="#f8f4c8"/>
<rect x="224.42" y="500.40" width="16.58" height="7.60" fill="#e8f3d8"/>
<rect x="174.67" y="508.00" width="16.58" height="3.80" fill="#a8cee8"/>
<rect x="191.25" y="508.00" width="16.58" height="3.80" fill="#c0e0ea"/>
<rect x="207.83" y="508.00" width="33.17" height="3.80" fill="#e8f3d8"/>
<rect x="174.67" y="511.80" width="49.75" height="8.20" fill="#a8cee8"/>
<rect x="224.42" y="511.80" width="16.58" height="8.20" fill="#c0e0ea"/>
<rect x="174.67" y="520.00" width="33.17" height="3.20" fill="#a8cee8"/>
<rect x="207.83" y="520.00" width="16.58" height="3.20" fill="#8cb6e0"/>
<rect x="224.42" y="520.00" width="16.58" height="3.20" fill="#a8cee8"/>
<rect x="174.67" y="523.20" width="16.58" height="3.80" fill="#a8cee8"/>
<rect x="191.25" y="523.20" width="16.58" height="3.80" fill="#8cb6e0"/>
<rect x="207.83" y="523.20" width="33.17" height="3.80" fill="#a8cee8"/>
<rect x="174.67" y="527.00" width="16.58" height="3.80" fill="#8cb6e0"/>
<rect x="191.25" y="527.00" width="16.58" height="3.80" fill="#a8cee8"/>
<rect x="207.83" y="527.00" width="16.58" height="3.80" fill="#8cb6e0"/>
<rect x="224.42" y="527.00" width="16.58" height="3.80" fill="#c0e0ea"/>
<rect x="174.67" y="530.80" width="16.58" height="3.20" fill="#a8cee8"/>
<rect x="191.25" y="530.80" width="16.58" height="3.20" fill="#c0e0ea"/>
<rect x="207.83" y="530.80" width="33.17" height="3.20" fill="#a8cee8"/>
<rect x="174.67" y="534.00" width="16.58" height="6.90" fill="#6e9ad4"/>
<rect x="191.25" y="534.00" width="16.58" height="6.90" fill="#c0e0ea"/>
<rect x="207.83" y="534.00" width="16.58" height="6.90" fill="#8cb6e0"/>
<rect x="224.42" y="534.00" width="16.58" height="6.90" fill="#a8cee8"/>
<rect x="174.67" y="540.90" width="16.58" height="3.80" fill="#a8cee8"/>
<rect x="191.25" y="540.90" width="16.58" height="3.80" fill="#8cb6e0"/>
<rect x="207.83" y="540.90" width="33.17" height="3.80" fill="#a8cee8"/>
<rect x="174.67" y="544.70" width="16.58" height="3.90" fill="#8cb6e0"/>
<rect x="191.25" y="544.70" width="16.58" height="3.90" fill="#a8cee8"/>
<rect x="207.83" y="544.70" width="16.58" height="3.90" fill="#6e9ad4"/>
<rect x="224.42" y="544.70" width="16.58" height="3.90" fill="#a8cee8"/>
<rect x="174.67" y="548.60" width="16.58" height="4.40" fill="#a8cee8"/>
<rect x="191.25" y="548.60" width="33.17" height="4.40" fill="#8cb6e0"/>
<rect x="224.42" y="548.60" width="16.58" height="4.40" fill="#6e9ad4"/>
<rect x="174.67" y="553.00" width="16.58" height="3.80" fill="#a8cee8"/>
<rect x="191.25" y="553.00" width="33.17" height="3.80" fill="#8cb6e0"/>
<rect x="224.42" y="553.00" width="16.58" height="3.80" fill="#a8cee8"/>
<rect x="174.67" y="556.80" width="16.58" height="3.80" fill="#6e9ad4"/>
<rect x="191.25" y="556.80" width="16.58" height="3.80" fill="#a8cee8"/>
<rect x="207.83" y="556.80" width="16.58" height="3.80" fill="#8cb6e0"/>
<rect x="224.42" y="556.80" width="16.58" height="3.80" fill="#a8cee8"/>
<rect x="174.67" y="560.60" width="49.75" height="4.40" fill="#a8cee8"/>
<rect x="224.42" y="560.60" width="16.58" height="4.40" fill="#8cb6e0"/>
<rect x="174.67" y="565.00" width="16.58" height="2.50" fill="#a8cee8"/>
<rect x="191.25" y="565.00" width="33.17" height="2.50" fill="#8cb6e0"/>
<rect x="224.42" y="565.00" width="16.58" height="2.50" fill="#6e9ad4"/>
<rect x="174.67" y="567.50" width="16.58" height="3.20" fill="#a8cee8"/>
<rect x="191.25" y="567.50" width="33.17" height="3.20" fill="#8cb6e0"/>
<rect x="224.42" y="567.50" width="16.58" height="3.20" fill="#a8cee8"/>
<rect x="174.67" y="570.70" width="16.58" height="3.80" fill="#e8f3d8"/>
<rect x="191.25" y="570.70" width="16.58" height="3.80" fill="#f8f4c8"/>
<rect x="207.83" y="570.70" width="33.17" height="3.80" fill="#f6b47a"/>
<rect x="174.67" y="574.50" width="33.17" height="3.20" fill="#d6ede4"/>
<rect x="207.83" y="574.50" width="16.58" height="3.20" fill="#e8f3d8"/>
<rect x="224.42" y="574.50" width="16.58" height="3.20" fill="#f8f4c8"/>
<rect x="174.67" y="577.70" width="16.58" height="3.80" fill="#6e9ad4"/>
<rect x="191.25" y="577.70" width="16.58" height="3.80" fill="#a8cee8"/>
<rect x="207.83" y="577.70" width="33.17" height="3.80" fill="#f8f4c8"/>
<rect x="174.67" y="581.50" width="16.58" height="4.40" fill="#c0e0ea"/>
<rect x="191.25" y="581.50" width="33.17" height="4.40" fill="#d6ede4"/>
<rect x="224.42" y="581.50" width="16.58" height="4.40" fill="#c0e0ea"/>
<rect x="174.67" y="585.90" width="16.58" height="4.50" fill="#c0e0ea"/>
<rect x="191.25" y="585.90" width="16.58" height="4.50" fill="#d6ede4"/>
<rect x="207.83" y="585.90" width="16.58" height="4.50" fill="#a8cee8"/>
<rect x="224.42" y="585.90" width="16.58" height="4.50" fill="#c0e0ea"/>
<rect x="174.67" y="590.40" width="16.58" height="4.40" fill="#d6ede4"/>
<rect x="191.25" y="590.40" width="16.58" height="4.40" fill="#e8f3d8"/>
<rect x="207.83" y="590.40" width="33.17" height="4.40" fill="#c0e0ea"/>
<rect x="174.67" y="594.80" width="33.17" height="3.80" fill="#c0e0ea"/>
<rect x="207.83" y="594.80" width="16.58" height="3.80" fill="#a8cee8"/>
<rect x="224.42" y="594.80" width="16.58" height="3.80" fill="#d6ede4"/>
<rect x="174.67" y="598.60" width="66.33" height="4.50" fill="#c0e0ea"/>
<rect x="174.67" y="603.10" width="16.58" height="4.40" fill="#c0e0ea"/>
<rect x="191.25" y="603.10" width="16.58" height="4.40" fill="#8cb6e0"/>
<rect x="207.83" y="603.10" width="16.58" height="4.40" fill="#a8cee8"/>
<rect x="224.42" y="603.10" width="16.58" height="4.40" fill="#c0e0ea"/>
<rect x="174.67" y="607.50" width="66.33" height="2.50" fill="#c0e0ea"/>
<rect x="174.67" y="610.00" width="33.17" height="2.50" fill="#c0e0ea"/>
<rect x="207.83" y="610.00" width="16.58" height="2.50" fill="#a8cee8"/>
<rect x="224.42" y="610.00" width="16.58" height="2.50" fill="#d6ede4"/>
<rect x="174.67" y="612.50" width="16.58" height="12.70" fill="#e8f3d8"/>
<rect x="191.25" y="612.50" width="16.58" height="12.70" fill="#d6ede4"/>
<rect x="207.83" y="612.50" width="33.17" height="12.70" fill="#e8f3d8"/>
<rect x="174.67" y="625.20" width="16.58" height="3.80" fill="#d6ede4"/>
<rect x="191.25" y="625.20" width="16.58" height="3.80" fill="#e8f3d8"/>
<rect x="207.83" y="625.20" width="16.58" height="3.80" fill="#d6ede4"/>
<rect x="224.42" y="625.20" width="16.58" height="3.80" fill="#e8f3d8"/>
<rect x="174.67" y="629.00" width="16.58" height="6.40" fill="#c0e0ea"/>
<rect x="191.25" y="629.00" width="16.58" height="6.40" fill="#e8f3d8"/>
<rect x="207.83" y="629.00" width="16.58" height="6.40" fill="#c0e0ea"/>
<rect x="224.42" y="629.00" width="16.58" height="6.40" fill="#d6ede4"/>
<rect x="174.67" y="635.40" width="33.17" height="5.10" fill="#d6ede4"/>
<rect x="207.83" y="635.40" width="16.58" height="5.10" fill="#a8cee8"/>
<rect x="224.42" y="635.40" width="16.58" height="5.10" fill="#c0e0ea"/>
<rect x="174.67" y="640.50" width="66.33" height="6.30" fill="#e8f3d8"/>
<rect x="174.67" y="646.80" width="16.58" height="5.10" fill="#c0e0ea"/>
<rect x="191.25" y="646.80" width="16.58" height="5.10" fill="#e8f3d8"/>
<rect x="207.83" y="646.80" width="33.17" height="5.10" fill="#d6ede4"/>
<rect x="174.67" y="651.90" width="16.58" height="2.90" fill="#d6ede4"/>
<rect x="191.25" y="651.90" width="16.58" height="2.90" fill="#e8f3d8"/>
<rect x="207.83" y="651.90" width="16.58" height="2.90" fill="#d6ede4"/>
<rect x="224.42" y="651.90" width="16.58" height="2.90" fill="#c0e0ea"/>
</g>
<g filter="url(#bl2)">
<rect x="25.40" y="17.20" width="5.50" height="17.80" fill="#000"/>
<rect x="25.40" y="35.00" width="5.50" height="4.30" fill="#d8283a"/>
<rect x="25.40" y="39.30" width="5.50" height="6.50" fill="#8e3aa8"/>
<rect x="25.40" y="45.80" width="5.50" height="18.20" fill="#2448a8"/>
<rect x="25.40" y="64.00" width="5.50" height="106.50" fill="#000"/>
<rect x="25.40" y="170.50" width="5.50" height="4.30" fill="#d4d4d4"/>
<rect x="25.40" y="174.80" width="5.50" height="7.60" fill="#05051a"/>
<rect x="25.40" y="182.40" width="5.50" height="3.20" fill="#f0f020"/>
<rect x="25.40" y="185.60" width="5.50" height="10.40" fill="#000"/>
<rect x="257.00" y="17.50" width="6.10" height="5.10" fill="#f2e024"/>
<rect x="257.00" y="22.60" width="6.10" height="1.20" fill="#4a5a30"/>
<rect x="257.00" y="23.80" width="6.10" height="1.40" fill="#1a2a5a"/>
<rect x="257.00" y="31.40" width="6.10" height="1.40" fill="#6a4aa0"/>
<rect x="257.00" y="37.00" width="6.10" height="2.10" fill="#1a2a60"/>
<rect x="257.00" y="65.90" width="6.10" height="1.40" fill="#e8dc60"/>
<rect x="257.00" y="82.30" width="6.10" height="1.40" fill="#181838"/>
<rect x="257.00" y="96.30" width="6.10" height="2.70" fill="#1c4a88"/>
<rect x="257.00" y="106.80" width="6.10" height="5.60" fill="#d82020"/>
<rect x="257.00" y="112.40" width="6.10" height="29.60" fill="#000"/>
<rect x="257.00" y="142.00" width="6.10" height="2.30" fill="#d0d0d0"/>
<rect x="257.00" y="144.30" width="6.10" height="3.70" fill="#000"/>
<rect x="257.00" y="148.00" width="6.10" height="1.40" fill="#c8c8c8"/>
<rect x="257.00" y="149.40" width="6.10" height="5.10" fill="#000"/>
<rect x="257.00" y="154.50" width="6.10" height="5.10" fill="#c4c0cc"/>
<rect x="257.00" y="159.60" width="6.10" height="1.40" fill="#202020"/>
<rect x="257.00" y="161.00" width="6.10" height="3.00" fill="#6a5a98"/>
<rect x="257.00" y="164.00" width="6.10" height="1.00" fill="#101010"/>
<rect x="257.00" y="165.00" width="6.10" height="2.00" fill="#e8d830"/>
<rect x="257.00" y="167.00" width="6.10" height="4.00" fill="#000"/>
<rect x="257.00" y="171.00" width="6.10" height="2.40" fill="#3a3a80"/>
<rect x="257.00" y="173.40" width="6.10" height="8.00" fill="#000"/>
<rect x="257.00" y="181.40" width="6.10" height="2.20" fill="#6a5a90"/>
<rect x="257.00" y="183.60" width="6.10" height="8.00" fill="#000"/>
<rect x="257.00" y="191.60" width="6.10" height="2.10" fill="#88a868"/>
<rect x="257.00" y="193.70" width="6.10" height="1.70" fill="#000"/>
<rect x="25.40" y="245.50" width="7.60" height="5.00" fill="#62a840"/>
<rect x="25.40" y="250.50" width="7.60" height="23.20" fill="#000"/>
<rect x="25.40" y="273.70" width="7.60" height="5.00" fill="#62a840"/>
<rect x="25.40" y="281.00" width="7.60" height="86.90" fill="#000"/>
<rect x="25.40" y="367.90" width="7.60" height="4.30" fill="#d02828"/>
<rect x="25.40" y="372.20" width="7.60" height="7.70" fill="#d4d4d4"/>
<rect x="25.40" y="379.90" width="7.60" height="5.90" fill="#000"/>
<rect x="25.40" y="385.80" width="7.60" height="7.90" fill="#d0d0d0"/>
<rect x="25.40" y="394.00" width="7.60" height="31.50" fill="#d42020"/>
<rect x="257.00" y="245.00" width="8.10" height="116.00" fill="#000"/>
<rect x="257.00" y="361.00" width="8.10" height="4.70" fill="#c8c8c8"/>
<rect x="257.00" y="365.70" width="8.10" height="47.10" fill="#000"/>
<rect x="257.00" y="412.80" width="8.10" height="4.10" fill="#c8c8c8"/>
<rect x="257.00" y="416.90" width="8.10" height="7.90" fill="#000"/>
<rect x="25.70" y="475.00" width="10.20" height="4.00" fill="#f0e020"/>
<rect x="25.70" y="479.00" width="10.20" height="2.50" fill="#d8c8a8"/>
<rect x="25.70" y="481.50" width="10.20" height="18.50" fill="#d82020"/>
<rect x="25.70" y="500.00" width="10.20" height="11.60" fill="#f0a020"/>
<rect x="25.70" y="511.60" width="10.20" height="37.00" fill="#000"/>
<rect x="25.70" y="548.60" width="10.20" height="3.40" fill="#78b050"/>
<rect x="25.70" y="552.00" width="10.20" height="3.80" fill="#000"/>
<rect x="25.70" y="555.80" width="10.20" height="3.50" fill="#e0e0e0"/>
<rect x="25.70" y="559.30" width="10.20" height="7.60" fill="#000"/>
<rect x="25.70" y="566.90" width="10.20" height="3.60" fill="#e0e0e0"/>
<rect x="25.70" y="570.50" width="10.20" height="3.50" fill="#d82030"/>
<rect x="25.70" y="574.00" width="10.20" height="3.90" fill="#e4dcc8"/>
<rect x="25.70" y="577.90" width="10.20" height="4.10" fill="#d82030"/>
<rect x="25.70" y="582.00" width="10.20" height="73.00" fill="#000"/>
</g>
<rect x="32.00" y="208.70" width="67.73" height="1.30" fill="#1a1a1a"/>
<rect x="101.73" y="208.70" width="67.73" height="1.30" fill="#1a1a1a"/>
<rect x="171.47" y="208.70" width="67.73" height="1.30" fill="#1a1a1a"/>
<rect x="266.40" y="208.00" width="66.80" height="1.30" fill="#1a1a1a"/>
<rect x="335.20" y="208.00" width="66.80" height="1.30" fill="#1a1a1a"/>
<rect x="404.00" y="208.00" width="66.80" height="1.30" fill="#1a1a1a"/>
<rect x="38.00" y="438.30" width="64.70" height="1.30" fill="#1a1a1a"/>
<rect x="106.40" y="438.30" width="64.70" height="1.30" fill="#1a1a1a"/>
<rect x="174.80" y="438.30" width="64.70" height="1.30" fill="#1a1a1a"/>
<rect x="271.10" y="438.00" width="64.07" height="1.30" fill="#1a1a1a"/>
<rect x="339.37" y="438.00" width="64.07" height="1.30" fill="#1a1a1a"/>
<rect x="407.63" y="438.00" width="64.07" height="1.30" fill="#1a1a1a"/>
<rect x="44.00" y="670.20" width="62.83" height="1.30" fill="#1a1a1a"/>
<rect x="110.33" y="670.20" width="62.83" height="1.30" fill="#1a1a1a"/>
<rect x="176.67" y="670.20" width="62.83" height="1.30" fill="#1a1a1a"/>
<defs><linearGradient id="cb" x1="0" y1="0" x2="0" y2="1"><stop offset="0" stop-color="#6a0d1a"/><stop offset="0.18" stop-color="#c4302a"/><stop offset="0.30" stop-color="#e88050"/><stop offset="0.38" stop-color="#f8dc9c"/><stop offset="0.42" stop-color="#fbf4c8"/><stop offset="0.52" stop-color="#dcebe0"/><stop offset="0.60" stop-color="#b8d4e8"/><stop offset="0.75" stop-color="#88acd8"/><stop offset="0.9" stop-color="#5c84c4"/><stop offset="1" stop-color="#46679e"/></linearGradient><filter id="bl" x="-0.02" y="-0.02" width="1.04" height="1.04"><feGaussianBlur stdDeviation="0.8"/></filter><filter id="bl2" x="-0.2" y="-0.02" width="1.4" height="1.04"><feGaussianBlur stdDeviation="0.35"/></filter></defs>
<rect x="478.2" y="35.5" width="4.0" height="79.5" fill="url(#cb)"/>
<rect x="478.00" y="132.30" width="4.40" height="4.85" fill="#b43a2a" stroke="#444" stroke-width="0.3"/>
<rect x="478.00" y="137.15" width="4.40" height="4.85" fill="#283a8a" stroke="#444" stroke-width="0.3"/>
<rect x="478.00" y="142.00" width="4.40" height="4.85" fill="#ece43c" stroke="#444" stroke-width="0.3"/>
<rect x="478.00" y="146.85" width="4.40" height="4.85" fill="#643c9c" stroke="#444" stroke-width="0.3"/>
<rect x="478.00" y="151.70" width="4.40" height="4.85" fill="#d8a024" stroke="#444" stroke-width="0.3"/>
<rect x="478.00" y="156.55" width="4.40" height="4.85" fill="#5c9c40" stroke="#444" stroke-width="0.3"/>
<rect x="478.00" y="161.40" width="4.40" height="4.85" fill="#000" stroke="#444" stroke-width="0.3"/>
<rect x="478.00" y="166.25" width="4.40" height="4.85" fill="#c4c4c4" stroke="#444" stroke-width="0.3"/>
<rect x="478.00" y="171.10" width="4.40" height="4.85" fill="#ffffff" stroke="#444" stroke-width="0.3"/>
<g opacity="0.995">
<text x="135.70" y="12.40" font-size="6.6" font-weight="bold" text-anchor="middle" fill="#111">RQ3600 (18 yrs, Aged)</text>
<text x="369.00" y="12.40" font-size="6.6" font-weight="bold" text-anchor="middle" fill="#111">RQ859 (25 yrs, Aged)</text>
<text x="138.60" y="241.20" font-size="6.6" font-weight="bold" text-anchor="middle" fill="#111">ZH33 (3 yrs, Young)</text>
<text x="370.20" y="241.20" font-size="6.6" font-weight="bold" text-anchor="middle" fill="#111">ZG66 (4.5 yrs, Young)</text>
<text x="142.00" y="471.60" font-size="6.6" font-weight="bold" text-anchor="middle" fill="#111">ZK22 (3.5 yrs, Young)</text>
<text x="7.00" y="203.20" font-size="5.3" font-weight="normal" text-anchor="start" fill="#111" stroke="#111" stroke-width="0.08">Months</text>
<text x="7.00" y="209.10" font-size="5.3" font-weight="normal" text-anchor="start" fill="#111" stroke="#111" stroke-width="0.08">after TP</text>
<text x="7.00" y="432.90" font-size="5.3" font-weight="normal" text-anchor="start" fill="#111" stroke="#111" stroke-width="0.08">Months</text>
<text x="7.00" y="438.80" font-size="5.3" font-weight="normal" text-anchor="start" fill="#111" stroke="#111" stroke-width="0.08">after TP</text>
<text x="6.90" y="662.30" font-size="5.3" font-weight="normal" text-anchor="start" fill="#111" stroke="#111" stroke-width="0.08">Months</text>
<text x="6.90" y="668.20" font-size="5.3" font-weight="normal" text-anchor="start" fill="#111" stroke="#111" stroke-width="0.08">after TP</text>
<text x="35.88" y="203.00" font-size="4.0" text-anchor="end" fill="#222" stroke="#222" stroke-width="0.12" transform="rotate(-45 35.88 203.00)">6</text>
<text x="41.25" y="203.00" font-size="4.0" text-anchor="end" fill="#222" stroke="#222" stroke-width="0.12" transform="rotate(-45 41.25 203.00)">6</text>
<text x="46.61" y="203.00" font-size="4.0" text-anchor="end" fill="#222" stroke="#222" stroke-width="0.12" transform="rotate(-45 46.61 203.00)">10</text>
<text x="51.97" y="203.00" font-size="4.0" text-anchor="end" fill="#222" stroke="#222" stroke-width="0.12" transform="rotate(-45 51.97 203.00)">11</text>
<text x="57.34" y="203.00" font-size="4.0" text-anchor="end" fill="#222" stroke="#222" stroke-width="0.12" transform="rotate(-45 57.34 203.00)">13</text>
<text x="62.70" y="203.00" font-size="4.0" text-anchor="end" fill="#222" stroke="#222" stroke-width="0.12" transform="rotate(-45 62.70 203.00)">13</text>
<text x="68.07" y="203.00" font-size="4.0" text-anchor="end" fill="#222" stroke="#222" stroke-width="0.12" transform="rotate(-45 68.07 203.00)">14</text>
<text x="73.43" y="203.00" font-size="4.0" text-anchor="end" fill="#222" stroke="#222" stroke-width="0.12" transform="rotate(-45 73.43 203.00)">16</text>
<text x="78.79" y="203.00" font-size="4.0" text-anchor="end" fill="#222" stroke="#222" stroke-width="0.12" transform="rotate(-45 78.79 203.00)">18</text>
<text x="84.16" y="203.00" font-size="4.0" text-anchor="end" fill="#222" stroke="#222" stroke-width="0.12" transform="rotate(-45 84.16 203.00)">20</text>
<text x="89.52" y="203.00" font-size="4.0" text-anchor="end" fill="#222" stroke="#222" stroke-width="0.12" transform="rotate(-45 89.52 203.00)">22</text>
<text x="94.89" y="203.00" font-size="4.0" text-anchor="end" fill="#222" stroke="#222" stroke-width="0.12" transform="rotate(-45 94.89 203.00)">24</text>
<text x="100.25" y="203.00" font-size="4.0" text-anchor="end" fill="#222" stroke="#222" stroke-width="0.12" transform="rotate(-45 100.25 203.00)">26</text>
<text x="65.87" y="218.20" font-size="6.0" font-weight="normal" text-anchor="middle" fill="#111" stroke="#111" stroke-width="0.08">Gr</text>
<text x="105.62" y="203.00" font-size="4.0" text-anchor="end" fill="#222" stroke="#222" stroke-width="0.12" transform="rotate(-45 105.62 203.00)">6</text>
<text x="110.98" y="203.00" font-size="4.0" text-anchor="end" fill="#222" stroke="#222" stroke-width="0.12" transform="rotate(-45 110.98 203.00)">6</text>
<text x="116.34" y="203.00" font-size="4.0" text-anchor="end" fill="#222" stroke="#222" stroke-width="0.12" transform="rotate(-45 116.34 203.00)">10</text>
<text x="121.71" y="203.00" font-size="4.0" text-anchor="end" fill="#222" stroke="#222" stroke-width="0.12" transform="rotate(-45 121.71 203.00)">11</text>
<text x="127.07" y="203.00" font-size="4.0" text-anchor="end" fill="#222" stroke="#222" stroke-width="0.12" transform="rotate(-45 127.07 203.00)">13</text>
<text x="132.44" y="203.00" font-size="4.0" text-anchor="end" fill="#222" stroke="#222" stroke-width="0.12" transform="rotate(-45 132.44 203.00)">13</text>
<text x="137.80" y="203.00" font-size="4.0" text-anchor="end" fill="#222" stroke="#222" stroke-width="0.12" transform="rotate(-45 137.80 203.00)">14</text>
<text x="143.16" y="203.00" font-size="4.0" text-anchor="end" fill="#222" stroke="#222" stroke-width="0.12" transform="rotate(-45 143.16 203.00)">16</text>
<text x="148.53" y="203.00" font-size="4.0" text-anchor="end" fill="#222" stroke="#222" stroke-width="0.12" transform="rotate(-45 148.53 203.00)">18</text>
<text x="153.89" y="203.00" font-size="4.0" text-anchor="end" fill="#222" stroke="#222" stroke-width="0.12" transform="rotate(-45 153.89 203.00)">20</text>
<text x="159.26" y="203.00" font-size="4.0" text-anchor="end" fill="#222" stroke="#222" stroke-width="0.12" transform="rotate(-45 159.26 203.00)">22</text>
<text x="164.62" y="203.00" font-size="4.0" text-anchor="end" fill="#222" stroke="#222" stroke-width="0.12" transform="rotate(-45 164.62 203.00)">24</text>
<text x="169.98" y="203.00" font-size="4.0" text-anchor="end" fill="#222" stroke="#222" stroke-width="0.12" transform="rotate(-45 169.98 203.00)">26</text>
<text x="135.60" y="218.20" font-size="6.0" font-weight="normal" text-anchor="middle" fill="#111" stroke="#111" stroke-width="0.08">B</text>
<text x="175.35" y="203.00" font-size="4.0" text-anchor="end" fill="#222" stroke="#222" stroke-width="0.12" transform="rotate(-45 175.35 203.00)">6</text>
<text x="180.71" y="203.00" font-size="4.0" text-anchor="end" fill="#222" stroke="#222" stroke-width="0.12" transform="rotate(-45 180.71 203.00)">6</text>
<text x="186.08" y="203.00" font-size="4.0" text-anchor="end" fill="#222" stroke="#222" stroke-width="0.12" transform="rotate(-45 186.08 203.00)">10</text>
<text x="191.44" y="203.00" font-size="4.0" text-anchor="end" fill="#222" stroke="#222" stroke-width="0.12" transform="rotate(-45 191.44 203.00)">11</text>
<text x="196.81" y="203.00" font-size="4.0" text-anchor="end" fill="#222" stroke="#222" stroke-width="0.12" transform="rotate(-45 196.81 203.00)">13</text>
<text x="202.17" y="203.00" font-size="4.0" text-anchor="end" fill="#222" stroke="#222" stroke-width="0.12" transform="rotate(-45 202.17 203.00)">13</text>
<text x="207.53" y="203.00" font-size="4.0" text-anchor="end" fill="#222" stroke="#222" stroke-width="0.12" transform="rotate(-45 207.53 203.00)">14</text>
<text x="212.90" y="203.00" font-size="4.0" text-anchor="end" fill="#222" stroke="#222" stroke-width="0.12" transform="rotate(-45 212.90 203.00)">16</text>
<text x="218.26" y="203.00" font-size="4.0" text-anchor="end" fill="#222" stroke="#222" stroke-width="0.12" transform="rotate(-45 218.26 203.00)">18</text>
<text x="223.63" y="203.00" font-size="4.0" text-anchor="end" fill="#222" stroke="#222" stroke-width="0.12" transform="rotate(-45 223.63 203.00)">20</text>
<text x="228.99" y="203.00" font-size="4.0" text-anchor="end" fill="#222" stroke="#222" stroke-width="0.12" transform="rotate(-45 228.99 203.00)">22</text>
<text x="234.35" y="203.00" font-size="4.0" text-anchor="end" fill="#222" stroke="#222" stroke-width="0.12" transform="rotate(-45 234.35 203.00)">24</text>
<text x="239.72" y="203.00" font-size="4.0" text-anchor="end" fill="#222" stroke="#222" stroke-width="0.12" transform="rotate(-45 239.72 203.00)">26</text>
<text x="205.33" y="218.20" font-size="6.0" font-weight="normal" text-anchor="middle" fill="#111" stroke="#111" stroke-width="0.08">T</text>
<text x="271.62" y="203.20" font-size="4.3" text-anchor="end" fill="#222" stroke="#222" stroke-width="0.12" transform="rotate(-45 271.62 203.20)">6</text>
<text x="279.27" y="203.20" font-size="4.3" text-anchor="end" fill="#222" stroke="#222" stroke-width="0.12" transform="rotate(-45 279.27 203.20)">6</text>
<text x="286.91" y="203.20" font-size="4.3" text-anchor="end" fill="#222" stroke="#222" stroke-width="0.12" transform="rotate(-45 286.91 203.20)">10</text>
<text x="294.56" y="203.20" font-size="4.3" text-anchor="end" fill="#222" stroke="#222" stroke-width="0.12" transform="rotate(-45 294.56 203.20)">14</text>
<text x="302.20" y="203.20" font-size="4.3" text-anchor="end" fill="#222" stroke="#222" stroke-width="0.12" transform="rotate(-45 302.20 203.20)">15</text>
<text x="309.84" y="203.20" font-size="4.3" text-anchor="end" fill="#222" stroke="#222" stroke-width="0.12" transform="rotate(-45 309.84 203.20)">20</text>
<text x="317.49" y="203.20" font-size="4.3" text-anchor="end" fill="#222" stroke="#222" stroke-width="0.12" transform="rotate(-45 317.49 203.20)">20</text>
<text x="325.13" y="203.20" font-size="4.3" text-anchor="end" fill="#222" stroke="#222" stroke-width="0.12" transform="rotate(-45 325.13 203.20)">24</text>
<text x="332.78" y="203.20" font-size="4.3" text-anchor="end" fill="#222" stroke="#222" stroke-width="0.12" transform="rotate(-45 332.78 203.20)">28</text>
<text x="299.80" y="217.80" font-size="6.0" font-weight="normal" text-anchor="middle" fill="#111" stroke="#111" stroke-width="0.08">Gr</text>
<text x="340.42" y="203.20" font-size="4.3" text-anchor="end" fill="#222" stroke="#222" stroke-width="0.12" transform="rotate(-45 340.42 203.20)">6</text>
<text x="348.07" y="203.20" font-size="4.3" text-anchor="end" fill="#222" stroke="#222" stroke-width="0.12" transform="rotate(-45 348.07 203.20)">6</text>
<text x="355.71" y="203.20" font-size="4.3" text-anchor="end" fill="#222" stroke="#222" stroke-width="0.12" transform="rotate(-45 355.71 203.20)">10</text>
<text x="363.36" y="203.20" font-size="4.3" text-anchor="end" fill="#222" stroke="#222" stroke-width="0.12" transform="rotate(-45 363.36 203.20)">14</text>
<text x="371.00" y="203.20" font-size="4.3" text-anchor="end" fill="#222" stroke="#222" stroke-width="0.12" transform="rotate(-45 371.00 203.20)">15</text>
<text x="378.64" y="203.20" font-size="4.3" text-anchor="end" fill="#222" stroke="#222" stroke-width="0.12" transform="rotate(-45 378.64 203.20)">20</text>
<text x="386.29" y="203.20" font-size="4.3" text-anchor="end" fill="#222" stroke="#222" stroke-width="0.12" transform="rotate(-45 386.29 203.20)">20</text>
<text x="393.93" y="203.20" font-size="4.3" text-anchor="end" fill="#222" stroke="#222" stroke-width="0.12" transform="rotate(-45 393.93 203.20)">24</text>
<text x="401.58" y="203.20" font-size="4.3" text-anchor="end" fill="#222" stroke="#222" stroke-width="0.12" transform="rotate(-45 401.58 203.20)">28</text>
<text x="368.60" y="217.80" font-size="6.0" font-weight="normal" text-anchor="middle" fill="#111" stroke="#111" stroke-width="0.08">B</text>
<text x="409.22" y="203.20" font-size="4.3" text-anchor="end" fill="#222" stroke="#222" stroke-width="0.12" transform="rotate(-45 409.22 203.20)">6</text>
<text x="416.87" y="203.20" font-size="4.3" text-anchor="end" fill="#222" stroke="#222" stroke-width="0.12" transform="rotate(-45 416.87 203.20)">6</text>
<text x="424.51" y="203.20" font-size="4.3" text-anchor="end" fill="#222" stroke="#222" stroke-width="0.12" transform="rotate(-45 424.51 203.20)">10</text>
<text x="432.16" y="203.20" font-size="4.3" text-anchor="end" fill="#222" stroke="#222" stroke-width="0.12" transform="rotate(-45 432.16 203.20)">14</text>
<text x="439.80" y="203.20" font-size="4.3" text-anchor="end" fill="#222" stroke="#222" stroke-width="0.12" transform="rotate(-45 439.80 203.20)">15</text>
<text x="447.44" y="203.20" font-size="4.3" text-anchor="end" fill="#222" stroke="#222" stroke-width="0.12" transform="rotate(-45 447.44 203.20)">20</text>
<text x="455.09" y="203.20" font-size="4.3" text-anchor="end" fill="#222" stroke="#222" stroke-width="0.12" transform="rotate(-45 455.09 203.20)">20</text>
<text x="462.73" y="203.20" font-size="4.3" text-anchor="end" fill="#222" stroke="#222" stroke-width="0.12" transform="rotate(-45 462.73 203.20)">24</text>
<text x="470.38" y="203.20" font-size="4.3" text-anchor="end" fill="#222" stroke="#222" stroke-width="0.12" transform="rotate(-45 470.38 203.20)">28</text>
<text x="437.40" y="217.80" font-size="6.0" font-weight="normal" text-anchor="middle" fill="#111" stroke="#111" stroke-width="0.08">T</text>
<text x="44.09" y="431.60" font-size="4.9" text-anchor="end" fill="#222" stroke="#222" stroke-width="0.12" transform="rotate(-45 44.09 431.60)">9.5</text>
<text x="53.86" y="431.60" font-size="4.9" text-anchor="end" fill="#222" stroke="#222" stroke-width="0.12" transform="rotate(-45 53.86 431.60)">12</text>
<text x="63.63" y="431.60" font-size="4.9" text-anchor="end" fill="#222" stroke="#222" stroke-width="0.12" transform="rotate(-45 63.63 431.60)">14</text>
<text x="73.40" y="431.60" font-size="4.9" text-anchor="end" fill="#222" stroke="#222" stroke-width="0.12" transform="rotate(-45 73.40 431.60)">21</text>
<text x="83.17" y="431.60" font-size="4.9" text-anchor="end" fill="#222" stroke="#222" stroke-width="0.12" transform="rotate(-45 83.17 431.60)">23</text>
<text x="92.94" y="431.60" font-size="4.9" text-anchor="end" fill="#222" stroke="#222" stroke-width="0.12" transform="rotate(-45 92.94 431.60)">28</text>
<text x="102.71" y="431.60" font-size="4.9" text-anchor="end" fill="#222" stroke="#222" stroke-width="0.12" transform="rotate(-45 102.71 431.60)">30</text>
<text x="69.80" y="447.90" font-size="6.3" font-weight="normal" text-anchor="middle" fill="#111" stroke="#111" stroke-width="0.08">Gr</text>
<text x="112.49" y="431.60" font-size="4.9" text-anchor="end" fill="#222" stroke="#222" stroke-width="0.12" transform="rotate(-45 112.49 431.60)">9.5</text>
<text x="122.26" y="431.60" font-size="4.9" text-anchor="end" fill="#222" stroke="#222" stroke-width="0.12" transform="rotate(-45 122.26 431.60)">12</text>
<text x="132.03" y="431.60" font-size="4.9" text-anchor="end" fill="#222" stroke="#222" stroke-width="0.12" transform="rotate(-45 132.03 431.60)">14</text>
<text x="141.80" y="431.60" font-size="4.9" text-anchor="end" fill="#222" stroke="#222" stroke-width="0.12" transform="rotate(-45 141.80 431.60)">21</text>
<text x="151.57" y="431.60" font-size="4.9" text-anchor="end" fill="#222" stroke="#222" stroke-width="0.12" transform="rotate(-45 151.57 431.60)">23</text>
<text x="161.34" y="431.60" font-size="4.9" text-anchor="end" fill="#222" stroke="#222" stroke-width="0.12" transform="rotate(-45 161.34 431.60)">28</text>
<text x="171.11" y="431.60" font-size="4.9" text-anchor="end" fill="#222" stroke="#222" stroke-width="0.12" transform="rotate(-45 171.11 431.60)">30</text>
<text x="138.20" y="447.90" font-size="6.3" font-weight="normal" text-anchor="middle" fill="#111" stroke="#111" stroke-width="0.08">B</text>
<text x="180.89" y="431.60" font-size="4.9" text-anchor="end" fill="#222" stroke="#222" stroke-width="0.12" transform="rotate(-45 180.89 431.60)">9.5</text>
<text x="190.66" y="431.60" font-size="4.9" text-anchor="end" fill="#222" stroke="#222" stroke-width="0.12" transform="rotate(-45 190.66 431.60)">12</text>
<text x="200.43" y="431.60" font-size="4.9" text-anchor="end" fill="#222" stroke="#222" stroke-width="0.12" transform="rotate(-45 200.43 431.60)">14</text>
<text x="210.20" y="431.60" font-size="4.9" text-anchor="end" fill="#222" stroke="#222" stroke-width="0.12" transform="rotate(-45 210.20 431.60)">21</text>
<text x="219.97" y="431.60" font-size="4.9" text-anchor="end" fill="#222" stroke="#222" stroke-width="0.12" transform="rotate(-45 219.97 431.60)">23</text>
<text x="229.74" y="431.60" font-size="4.9" text-anchor="end" fill="#222" stroke="#222" stroke-width="0.12" transform="rotate(-45 229.74 431.60)">28</text>
<text x="239.51" y="431.60" font-size="4.9" text-anchor="end" fill="#222" stroke="#222" stroke-width="0.12" transform="rotate(-45 239.51 431.60)">30</text>
<text x="206.60" y="447.90" font-size="6.3" font-weight="normal" text-anchor="middle" fill="#111" stroke="#111" stroke-width="0.08">T</text>
<text x="276.99" y="431.00" font-size="4.9" text-anchor="end" fill="#222" stroke="#222" stroke-width="0.12" transform="rotate(-45 276.99 431.00)">12</text>
<text x="288.37" y="431.00" font-size="4.9" text-anchor="end" fill="#222" stroke="#222" stroke-width="0.12" transform="rotate(-45 288.37 431.00)">14</text>
<text x="299.74" y="431.00" font-size="4.9" text-anchor="end" fill="#222" stroke="#222" stroke-width="0.12" transform="rotate(-45 299.74 431.00)">17</text>
<text x="311.12" y="431.00" font-size="4.9" text-anchor="end" fill="#222" stroke="#222" stroke-width="0.12" transform="rotate(-45 311.12 431.00)">22</text>
<text x="322.50" y="431.00" font-size="4.9" text-anchor="end" fill="#222" stroke="#222" stroke-width="0.12" transform="rotate(-45 322.50 431.00)">27</text>
<text x="333.88" y="431.00" font-size="4.9" text-anchor="end" fill="#222" stroke="#222" stroke-width="0.12" transform="rotate(-45 333.88 431.00)">36</text>
<text x="301.83" y="447.00" font-size="6.5" font-weight="normal" text-anchor="middle" fill="#111" stroke="#111" stroke-width="0.08">Gr</text>
<text x="345.26" y="431.00" font-size="4.9" text-anchor="end" fill="#222" stroke="#222" stroke-width="0.12" transform="rotate(-45 345.26 431.00)">12</text>
<text x="356.63" y="431.00" font-size="4.9" text-anchor="end" fill="#222" stroke="#222" stroke-width="0.12" transform="rotate(-45 356.63 431.00)">14</text>
<text x="368.01" y="431.00" font-size="4.9" text-anchor="end" fill="#222" stroke="#222" stroke-width="0.12" transform="rotate(-45 368.01 431.00)">17</text>
<text x="379.39" y="431.00" font-size="4.9" text-anchor="end" fill="#222" stroke="#222" stroke-width="0.12" transform="rotate(-45 379.39 431.00)">22</text>
<text x="390.77" y="431.00" font-size="4.9" text-anchor="end" fill="#222" stroke="#222" stroke-width="0.12" transform="rotate(-45 390.77 431.00)">27</text>
<text x="402.14" y="431.00" font-size="4.9" text-anchor="end" fill="#222" stroke="#222" stroke-width="0.12" transform="rotate(-45 402.14 431.00)">36</text>
<text x="370.10" y="447.00" font-size="6.5" font-weight="normal" text-anchor="middle" fill="#111" stroke="#111" stroke-width="0.08">B</text>
<text x="413.52" y="431.00" font-size="4.9" text-anchor="end" fill="#222" stroke="#222" stroke-width="0.12" transform="rotate(-45 413.52 431.00)">12</text>
<text x="424.90" y="431.00" font-size="4.9" text-anchor="end" fill="#222" stroke="#222" stroke-width="0.12" transform="rotate(-45 424.90 431.00)">14</text>
<text x="436.28" y="431.00" font-size="4.9" text-anchor="end" fill="#222" stroke="#222" stroke-width="0.12" transform="rotate(-45 436.28 431.00)">17</text>
<text x="447.66" y="431.00" font-size="4.9" text-anchor="end" fill="#222" stroke="#222" stroke-width="0.12" transform="rotate(-45 447.66 431.00)">22</text>
<text x="459.03" y="431.00" font-size="4.9" text-anchor="end" fill="#222" stroke="#222" stroke-width="0.12" transform="rotate(-45 459.03 431.00)">27</text>
<text x="470.41" y="431.00" font-size="4.9" text-anchor="end" fill="#222" stroke="#222" stroke-width="0.12" transform="rotate(-45 470.41 431.00)">36</text>
<text x="438.37" y="447.00" font-size="6.5" font-weight="normal" text-anchor="middle" fill="#111" stroke="#111" stroke-width="0.08">T</text>
<text x="53.29" y="661.00" font-size="5.0" text-anchor="end" fill="#222" stroke="#222" stroke-width="0.12" transform="rotate(-45 53.29 661.00)">9</text>
<text x="69.88" y="661.00" font-size="5.0" text-anchor="end" fill="#222" stroke="#222" stroke-width="0.12" transform="rotate(-45 69.88 661.00)">11.5</text>
<text x="86.46" y="661.00" font-size="5.0" text-anchor="end" fill="#222" stroke="#222" stroke-width="0.12" transform="rotate(-45 86.46 661.00)">17.5</text>
<text x="103.04" y="661.00" font-size="5.0" text-anchor="end" fill="#222" stroke="#222" stroke-width="0.12" transform="rotate(-45 103.04 661.00)">19</text>
<text x="75.17" y="679.60" font-size="6.3" font-weight="normal" text-anchor="middle" fill="#111" stroke="#111" stroke-width="0.08">Gr</text>
<text x="119.62" y="661.00" font-size="5.0" text-anchor="end" fill="#222" stroke="#222" stroke-width="0.12" transform="rotate(-45 119.62 661.00)">9</text>
<text x="136.21" y="661.00" font-size="5.0" text-anchor="end" fill="#222" stroke="#222" stroke-width="0.12" transform="rotate(-45 136.21 661.00)">11.5</text>
<text x="152.79" y="661.00" font-size="5.0" text-anchor="end" fill="#222" stroke="#222" stroke-width="0.12" transform="rotate(-45 152.79 661.00)">17.5</text>
<text x="169.38" y="661.00" font-size="5.0" text-anchor="end" fill="#222" stroke="#222" stroke-width="0.12" transform="rotate(-45 169.38 661.00)">19</text>
<text x="141.50" y="679.60" font-size="6.3" font-weight="normal" text-anchor="middle" fill="#111" stroke="#111" stroke-width="0.08">B</text>
<text x="185.96" y="661.00" font-size="5.0" text-anchor="end" fill="#222" stroke="#222" stroke-width="0.12" transform="rotate(-45 185.96 661.00)">9</text>
<text x="202.54" y="661.00" font-size="5.0" text-anchor="end" fill="#222" stroke="#222" stroke-width="0.12" transform="rotate(-45 202.54 661.00)">11.5</text>
<text x="219.12" y="661.00" font-size="5.0" text-anchor="end" fill="#222" stroke="#222" stroke-width="0.12" transform="rotate(-45 219.12 661.00)">17.5</text>
<text x="235.71" y="661.00" font-size="5.0" text-anchor="end" fill="#222" stroke="#222" stroke-width="0.12" transform="rotate(-45 235.71 661.00)">19</text>
<text x="207.83" y="679.60" font-size="6.3" font-weight="normal" text-anchor="middle" fill="#111" stroke="#111" stroke-width="0.08">T</text>
<text x="485.00" y="40.30" font-size="4.2" font-weight="normal" text-anchor="start" fill="#111" stroke="#111" stroke-width="0.1">100%</text>
<text x="485.00" y="54.60" font-size="4.2" font-weight="normal" text-anchor="start" fill="#111" stroke="#111" stroke-width="0.1">10%</text>
<text x="485.00" y="69.40" font-size="4.2" font-weight="normal" text-anchor="start" fill="#111" stroke="#111" stroke-width="0.1">1%</text>
<text x="485.00" y="83.20" font-size="4.2" font-weight="normal" text-anchor="start" fill="#111" stroke="#111" stroke-width="0.1">0.1%</text>
<text x="485.00" y="107.00" font-size="4.2" font-weight="normal" text-anchor="start" fill="#111" stroke="#111" stroke-width="0.1">0.0001%</text>
<text x="485.00" y="115.00" font-size="4.2" font-weight="normal" text-anchor="start" fill="#111" stroke="#111" stroke-width="0.1">0%</text>
<text x="485.00" y="136.20" font-size="4.4" font-weight="normal" text-anchor="start" fill="#111" stroke="#111" stroke-width="0.1">T</text>
<text x="485.00" y="141.05" font-size="4.4" font-weight="normal" text-anchor="start" fill="#111" stroke="#111" stroke-width="0.1">B</text>
<text x="485.00" y="145.90" font-size="4.4" font-weight="normal" text-anchor="start" fill="#111" stroke="#111" stroke-width="0.1">Myeloid</text>
<text x="485.00" y="150.75" font-size="4.4" font-weight="normal" text-anchor="start" fill="#111" stroke="#111" stroke-width="0.1">TB</text>
<text x="485.00" y="155.60" font-size="4.4" font-weight="normal" text-anchor="start" fill="#111" stroke="#111" stroke-width="0.1">T-Myeloid</text>
<text x="485.00" y="160.45" font-size="4.4" font-weight="normal" text-anchor="start" fill="#111" stroke="#111" stroke-width="0.1">B-Myeloid</text>
<text x="485.00" y="165.30" font-size="4.4" font-weight="normal" text-anchor="start" fill="#111" stroke="#111" stroke-width="0.1">Multilineage</text>
<text x="485.00" y="170.15" font-size="4.4" font-weight="normal" text-anchor="start" fill="#111" stroke="#111" stroke-width="0.1">Indeterminate</text>
<text x="485.00" y="175.00" font-size="4.4" font-weight="normal" text-anchor="start" fill="#111" stroke="#111" stroke-width="0.1">Short-term</text>
</g>
</svg><div id="bd"></div></div></body></html>
